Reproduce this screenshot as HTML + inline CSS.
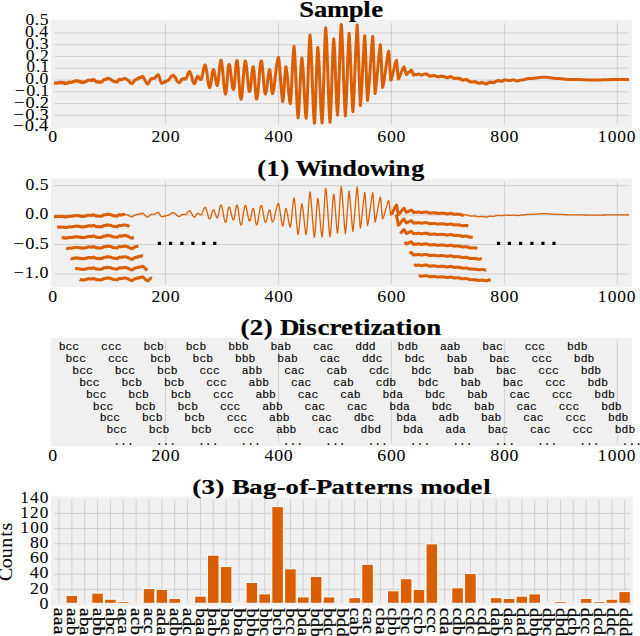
<!DOCTYPE html>
<html><head><meta charset="utf-8"><style>html,body{margin:0;padding:0;background:#fff;overflow:hidden}svg{display:block}</style></head>
<body><svg width="640" height="636" viewBox="0 0 640 636">
<rect width="640" height="636" fill="#fff"/>
<rect x="51.1" y="19.75" width="580.9" height="108" fill="#f0f0f0"/>
<defs><clipPath id="c1"><rect x="54.1" y="22.75" width="574.9" height="102"/></clipPath><clipPath id="c2"><rect x="54.0" y="181.6" width="575" height="102.7"/></clipPath><clipPath id="c3"><rect x="53.8" y="340.8" width="575.2" height="102.7"/></clipPath><clipPath id="c4"><rect x="54.0" y="499.6" width="575.8" height="103.1"/></clipPath></defs>
<path d="M51.1,127.14H632M51.1,115.35H632M51.1,103.57H632M51.1,91.78H632M51.1,80H632M51.1,68.22H632M51.1,56.43H632M51.1,44.65H632M51.1,32.86H632M51.1,21.08H632M52.6,19.75V127.75M165.54,19.75V127.75M278.48,19.75V127.75M391.42,19.75V127.75M504.36,19.75V127.75M617.3,19.75V127.75" stroke="#d0d0d0" stroke-width="1" fill="none" clip-path="url(#c1)"/>
<path d="M52.6,83.19 L52.88,83.28 L53.16,83.37 L53.45,83.11 L53.73,82.84 L54.01,83.15 L54.2,83.35 L54.29,83.45 L54.58,83.2 L54.86,82.94 L55.14,83.01 L55.42,83.08 L55.71,83.21 L55.99,83.34 L56.27,83.06 L56.55,82.78 L56.84,82.99 L57.12,83.19 L57.4,82.94 L57.68,82.69 L57.96,82.85 L58.25,83.01 L58.53,82.98 L58.81,82.95 L59.09,82.76 L59.38,82.58 L59.4,82.56 L59.66,82.37 L59.94,82.17 L60.22,82.55 L60.51,82.95 L60.79,82.92 L61.07,82.9 L61.35,82.72 L61.64,82.55 L61.92,82.42 L62.2,82.3 L62.48,82.54 L62.76,82.79 L63.05,82.93 L63.33,83.07 L63.61,82.81 L63.89,82.54 L64.18,83.07 L64.46,83.6 L64.74,83.2 L65.02,82.79 L65.31,83.11 L65.59,83.42 L65.87,83.5 L65.9,83.51 L66.15,83.57 L66.44,83.56 L66.72,83.52 L67,83.36 L67.28,83.18 L67.56,82.82 L67.85,82.45 L68.13,82.68 L68.41,82.91 L68.69,82.59 L68.98,82.28 L69.26,82.16 L69.54,82.05 L69.82,82.13 L70.11,82.23 L70.39,82.11 L70.6,82.03 L70.67,82.01 L70.95,82.26 L71.24,82.49 L71.52,82.46 L71.8,82.42 L72.08,82.29 L72.36,82.15 L72.65,81.83 L72.93,81.5 L73.21,81.55 L73.49,81.6 L73.78,81.58 L74.06,81.56 L74.34,81.33 L74.62,81.11 L74.91,81.11 L75.19,81.12 L75.47,81.14 L75.75,81.18 L76.04,80.88 L76.32,80.6 L76.6,80.64 L76.7,80.66 L76.88,80.69 L77.16,80.96 L77.45,81.24 L77.73,81.12 L78.01,81.02 L78.29,81.14 L78.58,81.26 L78.86,81.18 L79.14,81.11 L79.42,81.3 L79.71,81.5 L79.99,81.84 L80.27,82.17 L80.55,81.9 L80.84,81.61 L81.12,82.12 L81.4,82.62 L81.68,82.49 L81.9,82.37 L81.96,82.34 L82.25,82.15 L82.53,81.95 L82.81,82.25 L83.09,82.54 L83.38,82.32 L83.66,82.1 L83.94,82.3 L84.22,82.5 L84.51,82.13 L84.79,81.76 L85.07,81.69 L85.35,81.62 L85.6,81.71 L85.63,81.72 L85.92,81.77 L86.2,81.48 L86.48,81.12 L86.76,81.17 L87.05,81.2 L87.33,80.74 L87.61,80.3 L87.89,80.18 L88.18,80.13 L88.4,80.11 L88.46,80.11 L88.74,80.13 L89.02,80.23 L89.31,80.35 L89.59,80.21 L89.87,80.08 L90.15,80.1 L90.43,80.1 L90.72,80.4 L91,80.67 L91.2,80.61 L91.28,80.57 L91.56,80.39 L91.85,80.55 L92.13,80.66 L92.41,80.1 L92.69,79.59 L92.98,79.53 L93.1,79.53 L93.26,79.55 L93.54,79.42 L93.82,79.34 L94.11,79.58 L94.39,79.85 L94.67,80.34 L94.95,80.84 L95.23,81.01 L95.52,81.17 L95.8,81.2 L96.08,81.21 L96.36,81.67 L96.65,82.09 L96.9,81.9 L96.93,81.87 L97.21,81.65 L97.49,81.82 L97.78,82 L98.06,82.06 L98.34,82.13 L98.62,82.2 L98.91,82.28 L99.19,81.95 L99.47,81.62 L99.75,82.01 L100.03,82.38 L100.32,82.35 L100.6,82.31 L100.88,82.25 L101.1,82.19 L101.16,82.17 L101.45,81.86 L101.73,81.46 L102.01,81.67 L102.29,81.82 L102.58,81.32 L102.86,80.81 L103.14,80.45 L103.42,80.12 L103.71,79.72 L103.99,79.38 L104.27,79.34 L104.4,79.34 L104.55,79.36 L104.83,79.3 L105.12,79.22 L105.4,79.45 L105.68,79.66 L105.96,79.46 L106.25,79.26 L106.53,79.16 L106.81,79.06 L107.09,78.66 L107.38,78.28 L107.66,78.15 L107.94,78.05 L108.22,78.45 L108.4,78.71 L108.51,78.87 L108.79,78.88 L109.07,78.91 L109.35,78.94 L109.63,79 L109.92,79.11 L110.2,79.23 L110.48,79.24 L110.76,79.26 L111.05,79.38 L111.33,79.51 L111.61,79.87 L111.89,80.24 L112.18,80.58 L112.46,80.92 L112.74,80.9 L113.02,80.88 L113.31,81.1 L113.59,81.31 L113.87,81.38 L114.15,81.43 L114.43,81.37 L114.72,81.29 L115,81.54 L115.28,81.76 L115.56,81.92 L115.85,82.06 L116.13,82.03 L116.25,82.01 L116.41,81.96 L116.69,81.86 L116.98,81.69 L117.26,81.82 L117.54,81.91 L117.82,81.19 L118.11,80.45 L118.39,80.22 L118.67,80 L118.95,79.7 L119.23,79.45 L119.52,79.34 L119.8,79.3 L120,79.44 L120.08,79.5 L120.36,79.7 L120.65,79.66 L120.93,79.6 L121.21,79.68 L121.49,79.75 L121.78,79.37 L122.06,78.97 L122.34,79.16 L122.62,79.34 L122.91,79.22 L123.19,79.1 L123.47,78.92 L123.75,78.75 L124.03,78.69 L124.32,78.65 L124.6,78.5 L124.88,78.38 L125.15,78.51 L125.16,78.52 L125.45,78.7 L125.73,78.79 L126.01,78.92 L126.29,78.97 L126.58,79.07 L126.86,79.3 L127.14,79.56 L127.42,79.68 L127.71,79.83 L127.99,80.3 L128.27,80.8 L128.55,80.66 L128.83,80.53 L129.12,80.99 L129.4,81.44 L129.68,81.98 L129.96,82.51 L130.25,82.71 L130.53,82.89 L130.81,83.04 L131.09,83.16 L131.38,83.28 L131.66,83.37 L131.94,83.55 L132.2,83.69 L132.22,83.7 L132.51,83.24 L132.79,82.67 L133.07,82.31 L133.35,81.85 L133.63,81.68 L133.92,81.47 L134.2,80.96 L134.48,80.46 L134.76,80.23 L135.05,80.07 L135.33,79.77 L135.61,79.58 L135.89,79.39 L135.9,79.39 L136.18,79.26 L136.46,79.27 L136.74,79.26 L137.02,78.89 L137.31,78.5 L137.59,78.75 L137.87,78.99 L138.15,78.93 L138.43,78.87 L138.72,78.23 L139,77.58 L139.28,77.65 L139.56,77.72 L139.85,77.77 L140.13,77.83 L140.41,77.49 L140.69,77.15 L140.98,77.32 L141.26,77.5 L141.54,77.15 L141.82,76.83 L142.1,76.55 L142.39,76.29 L142.5,76.32 L142.67,76.37 L142.95,76.55 L143.23,76.86 L143.52,77.26 L143.8,77.88 L144.08,78.59 L144.36,79.06 L144.65,79.58 L144.93,80.29 L145.21,81 L145.49,81.28 L145.78,81.52 L146.06,82.17 L146.34,82.76 L146.62,83.02 L146.9,83.19 L147.19,83.63 L147.47,83.97 L147.6,84.01 L147.75,84.02 L148.03,83.97 L148.32,83.44 L148.6,82.81 L148.88,82.33 L149.16,81.78 L149.45,81.35 L149.73,80.89 L150.01,80.39 L150.29,79.91 L150.58,79.43 L150.86,79.02 L151.14,78.74 L151.42,78.55 L151.7,78.69 L151.9,78.86 L151.99,78.94 L152.27,78.75 L152.55,78.51 L152.83,78.48 L153.12,78.43 L153.4,78.45 L153.68,78.48 L153.96,78.35 L154.25,78.26 L154.53,78.08 L154.7,77.99 L154.81,77.93 L155.09,77.86 L155.38,77.71 L155.66,77.24 L155.94,76.72 L156.22,76.26 L156.5,75.78 L156.79,75.73 L157.07,75.72 L157.35,75.23 L157.63,74.81 L157.92,74.71 L158,74.7 L158.2,74.73 L158.48,74.96 L158.76,75.36 L159.05,76.21 L159.33,77.18 L159.61,78.02 L159.89,78.92 L160.18,79.77 L160.46,80.61 L160.74,81.42 L161.02,82.15 L161.3,82.74 L161.59,83.2 L161.87,83.27 L162.15,83.17 L162.2,83.14 L162.43,83.01 L162.72,82.79 L163,82.72 L163.28,82.6 L163.56,82.62 L163.85,82.61 L164.13,82.31 L164.41,82.01 L164.69,81.74 L164.98,81.49 L165.26,81.73 L165.54,82 L165.82,81.64 L166,81.44 L166.1,81.33 L166.39,81.16 L166.67,80.95 L166.95,80.9 L167.23,80.81 L167.52,80.63 L167.8,80.42 L168.08,80.31 L168.36,80.17 L168.65,80.02 L168.93,79.85 L169.21,79.19 L169.49,78.52 L169.78,78.4 L170.06,78.29 L170.34,77.7 L170.62,77.11 L170.9,76.7 L171.19,76.3 L171.47,76.33 L171.75,76.38 L172.03,76.16 L172.32,75.97 L172.6,75.53 L172.88,75.13 L173.16,75.17 L173.45,75.26 L173.5,75.32 L173.73,75.59 L174.01,76.02 L174.29,76.27 L174.58,76.62 L174.86,77.01 L175.14,77.47 L175.42,77.6 L175.7,77.77 L175.99,78.43 L176.27,79.09 L176.55,80.03 L176.83,80.96 L177.12,81.13 L177.4,81.24 L177.68,81.56 L177.96,81.8 L178.25,82.2 L178.53,82.5 L178.75,82.66 L178.81,82.69 L179.09,82.79 L179.38,82.52 L179.66,82.17 L179.94,82.07 L180.22,81.92 L180.5,81.58 L180.79,81.23 L181.07,80.32 L181.35,79.45 L181.63,79.31 L181.92,79.25 L182.2,79.16 L182.48,79.17 L182.5,79.16 L182.76,78.95 L183.05,78.7 L183.33,78.92 L183.61,79.13 L183.89,78.84 L184.18,78.54 L184.46,78.51 L184.74,78.49 L185.02,78.79 L185.3,79.1 L185.3,79.11 L185.59,79 L185.87,78.73 L186.15,78.31 L186.43,77.76 L186.72,77.15 L187,76.47 L187.28,75.53 L187.56,74.58 L187.85,74.02 L188.13,73.51 L188.41,72.84 L188.69,72.29 L188.98,72.13 L189.26,72.11 L189.4,71.88 L189.54,71.7 L189.82,71.49 L190.1,72.17 L190.39,73.03 L190.67,73.69 L190.95,74.5 L191.23,75.4 L191.52,76.38 L191.8,77.29 L192.08,78.21 L192.36,79.53 L192.65,80.79 L192.93,81.43 L193.21,81.94 L193.49,82.79 L193.77,83.46 L194.06,83.71 L194.3,83.77 L194.34,83.76 L194.62,83.59 L194.9,83.14 L195.19,82.73 L195.47,82.13 L195.75,80.92 L196.03,79.68 L196.32,78.83 L196.6,78.09 L196.88,77.49 L197.16,77.13 L197.45,76.51 L197.5,76.42 L197.73,76.12 L198.01,76.58 L198.29,77.14 L198.57,77.29 L198.86,77.5 L199.14,77.76 L199.42,78.03 L199.7,78.5 L199.99,78.92 L200.27,79.31 L200.55,79.6 L200.83,79.58 L200.9,79.56 L201.12,79.38 L201.4,78.95 L201.68,78.2 L201.96,77.08 L202.25,75.72 L202.53,74.68 L202.81,73.53 L203.09,71.75 L203.37,70 L203.66,68.76 L203.94,67.7 L204.22,66.69 L204.5,65.95 L204.79,65.27 L205,64.98 L205.07,64.92 L205.35,65.36 L205.63,66.18 L205.92,67.2 L206.2,68.54 L206.48,70.08 L206.76,71.84 L207.05,73.78 L207.33,75.8 L207.61,78.15 L207.89,80.43 L208.17,82.24 L208.46,83.83 L208.74,85.31 L209.02,86.46 L209.3,87.2 L209.59,87.55 L209.7,87.55 L209.87,87.4 L210.15,86.75 L210.43,85.86 L210.72,84.56 L211,82.75 L211.28,80.72 L211.56,78.65 L211.85,76.58 L212.13,74.36 L212.41,72.38 L212.69,71.11 L212.97,70.26 L213.26,69.66 L213.4,69.55 L213.54,69.55 L213.82,69.92 L214.1,70.68 L214.39,72.18 L214.67,73.97 L214.95,75.43 L215.23,77.02 L215.52,78.58 L215.8,80.07 L216.08,81.66 L216.36,82.99 L216.65,84.33 L216.93,85.29 L217.2,85.49 L217.21,85.49 L217.49,85.12 L217.77,83.9 L218.06,82.05 L218.34,80.04 L218.62,77.63 L218.9,74.68 L219.19,71.65 L219.47,68.88 L219.75,66.35 L220.03,63.82 L220.32,61.8 L220.6,60.66 L220.88,60.2 L220.9,60.19 L221.16,60.4 L221.45,61.18 L221.73,62.97 L222.01,65.26 L222.29,67.3 L222.57,69.7 L222.86,72.68 L223.14,75.82 L223.42,79.25 L223.7,82.6 L223.99,85.12 L224.27,87.35 L224.55,89.55 L224.83,91.31 L225.12,92.98 L225.4,94.1 L225.6,93.97 L225.68,93.82 L225.96,92.64 L226.25,91.2 L226.53,88.92 L226.81,85.64 L227.09,81.93 L227.37,77.8 L227.66,73.74 L227.94,70.35 L228.22,67.53 L228.5,65.74 L228.79,64.85 L229,64.45 L229.07,64.43 L229.35,64.65 L229.63,65.44 L229.92,66.68 L230.2,68.44 L230.48,70.53 L230.76,72.86 L231.05,75.35 L231.33,77.77 L231.61,80.16 L231.89,82.28 L232.17,84.18 L232.46,86.39 L232.74,88.22 L233.02,88.98 L233.3,89.27 L233.5,89.43 L233.59,89.41 L233.87,88.68 L234.15,87.2 L234.43,84.9 L234.72,81.58 L235,77.84 L235.28,73.92 L235.56,70.08 L235.85,66.78 L236.13,64.02 L236.41,62.18 L236.69,61.23 L236.9,60.6 L236.97,60.51 L237.26,60.7 L237.54,62.37 L237.82,64.82 L238.1,67.76 L238.39,71.25 L238.67,75.67 L238.95,80.28 L239.23,84.35 L239.52,88.23 L239.8,91.93 L240.08,95.08 L240.36,97.03 L240.65,98.19 L240.93,99.14 L241,99.24 L241.21,99.22 L241.49,98.31 L241.77,96.65 L242.06,94.08 L242.34,90.93 L242.62,87.24 L242.9,83.24 L243.19,79.41 L243.47,75.6 L243.75,72.22 L244.03,69.19 L244.32,66.39 L244.6,64.2 L244.88,62.25 L245.16,61.05 L245.3,61.05 L245.45,61.23 L245.73,62.06 L246.01,63.25 L246.29,65 L246.57,67.62 L246.86,70.62 L247.14,73.59 L247.42,76.7 L247.7,79.48 L247.99,82.13 L248.27,85.02 L248.55,87.54 L248.83,89.65 L249.12,91.21 L249.4,91.53 L249.6,91.37 L249.68,91.2 L249.96,90.78 L250.24,89.66 L250.53,87.65 L250.81,85.13 L251.09,82.71 L251.37,80.09 L251.66,76.67 L251.94,73.41 L252.22,71.32 L252.5,69.72 L252.79,67.88 L253.07,66.75 L253.2,66.77 L253.35,67.04 L253.63,68.35 L253.92,70.51 L254.2,73.5 L254.48,76.98 L254.76,80.86 L255.04,84.79 L255.33,88.58 L255.61,92.5 L255.89,95.77 L256.17,97.91 L256.46,99.05 L256.6,99.09 L256.74,98.9 L257.02,98.01 L257.3,96.83 L257.59,95.04 L257.87,92.63 L258.15,89.77 L258.43,86.47 L258.72,82.95 L259,79.41 L259.28,75.92 L259.56,72.44 L259.84,69.25 L260.13,66.48 L260.41,64.21 L260.69,62.58 L260.97,61.58 L261.25,61.02 L261.26,61.02 L261.54,61.16 L261.82,62.52 L262.1,64.55 L262.39,66.82 L262.67,69.56 L262.95,72.95 L263.23,76.54 L263.52,79.92 L263.8,83.19 L264.08,86.47 L264.36,89.34 L264.64,91.4 L264.93,92.83 L265.21,93.82 L265.4,94.07 L265.49,94.09 L265.77,93.29 L266.06,92.02 L266.34,90.77 L266.62,89.13 L266.9,87.28 L267.19,85.19 L267.47,82.63 L267.75,80.05 L268.03,77.44 L268.32,75 L268.6,73.52 L268.88,72.38 L269.16,70.84 L269.44,69.77 L269.7,69.75 L269.73,69.77 L270.01,70.68 L270.29,72.46 L270.57,75.16 L270.86,78.38 L271.14,81.91 L271.42,85.81 L271.7,89.29 L271.99,91.74 L272.27,93.19 L272.5,93.51 L272.55,93.49 L272.83,93.11 L273.12,92.27 L273.4,91.03 L273.68,89.91 L273.96,88.46 L274.24,86.12 L274.53,83.53 L274.81,81.07 L275.09,78.03 L275.37,75.67 L275.66,73.29 L275.94,71.03 L276.22,68.84 L276.5,66.67 L276.79,64.64 L277.07,62.91 L277.35,61.38 L277.63,59.89 L277.92,58.65 L278.2,57.74 L278.4,57.25 L278.48,57.57 L278.76,58.7 L279.04,60.42 L279.33,63.29 L279.61,66.63 L279.89,70.15 L280.17,73.96 L280.46,77.93 L280.74,81.95 L281.02,85.46 L281.3,88.78 L281.59,92.18 L281.87,95.17 L282.15,97.81 L282.43,99.9 L282.72,101.5 L282.75,101.65 L283,100.53 L283.28,98.25 L283.56,95.21 L283.84,91.5 L284.13,87.38 L284.41,83.03 L284.69,78.75 L284.97,75.03 L285.26,71.86 L285.54,69.09 L285.82,67.15 L285.9,66.83 L286.1,67.63 L286.39,69.17 L286.67,70.69 L286.95,72.64 L287.23,75.31 L287.52,78.27 L287.8,81.65 L288.08,85.13 L288.36,88.54 L288.64,91.86 L288.93,94.43 L289.21,96.71 L289.49,99.36 L289.77,101.6 L290.06,102.99 L290.25,103.66 L290.34,103.13 L290.62,100.96 L290.9,97.8 L291.19,93.37 L291.47,88.2 L291.75,82.64 L292.03,76.76 L292.32,70.83 L292.6,65.07 L292.88,59.89 L293.16,55.31 L293.44,51.22 L293.73,48.04 L294,46.35 L294.01,46.42 L294.29,48.98 L294.57,52.2 L294.86,56.4 L295.14,61.69 L295.42,67.67 L295.7,73.91 L295.99,80.42 L296.27,87.34 L296.55,94.08 L296.83,100.24 L297.12,105.79 L297.4,110.38 L297.68,114.05 L297.96,116.87 L298.1,117.86 L298.24,116.95 L298.53,114.17 L298.81,110.39 L299.09,105.96 L299.37,100.82 L299.66,95.01 L299.94,88.9 L300.22,82.91 L300.5,77.11 L300.79,71.65 L301.07,66.83 L301.35,62.76 L301.63,59.63 L301.9,57.94 L301.92,58.03 L302.2,60.14 L302.48,62.84 L302.76,66.29 L303.04,70.03 L303.33,74.33 L303.61,79.85 L303.89,85.62 L304.17,90.75 L304.46,95.8 L304.74,100.95 L305.02,105.71 L305.3,110.19 L305.59,114.02 L305.87,116.36 L306.15,117.89 L306.2,118.14 L306.43,115.82 L306.71,111.69 L307,106.39 L307.28,99.93 L307.56,92.34 L307.84,84.12 L308.13,75.6 L308.41,67.12 L308.69,59.41 L308.97,52.39 L309.26,45.78 L309.54,40.38 L309.82,36.56 L310,34.89 L310.1,35.7 L310.39,38.51 L310.67,42.44 L310.95,47.59 L311.23,53.65 L311.51,60.42 L311.8,67.74 L312.08,75.52 L312.36,83.41 L312.64,90.87 L312.93,97.97 L313.21,104.76 L313.49,110.79 L313.77,115.78 L314.06,119.72 L314.34,122.78 L314.4,123.29 L314.62,121.25 L314.9,117.05 L315.19,111.36 L315.47,104.26 L315.75,96.24 L316.03,87.63 L316.31,78.91 L316.6,70.78 L316.88,63.39 L317.16,56.57 L317.44,51.14 L317.73,47.82 L317.8,47.23 L318.01,48.91 L318.29,51.9 L318.57,55.87 L318.86,60.76 L319.14,66.39 L319.42,72.58 L319.7,79.17 L319.99,86.07 L320.27,92.94 L320.55,99.73 L320.83,106.08 L321.11,111.12 L321.4,115.37 L321.68,119.16 L321.96,121.96 L322.1,123 L322.24,121.48 L322.53,117.09 L322.81,110.81 L323.09,102.99 L323.37,93.9 L323.66,83.98 L323.94,74.05 L324.22,64.17 L324.5,54.15 L324.79,45.07 L325.07,37.91 L325.35,32.36 L325.63,28.44 L325.7,27.78 L325.91,29.89 L326.2,33.6 L326.48,38.53 L326.76,44.42 L327.04,51.24 L327.33,59.31 L327.61,67.87 L327.89,76.1 L328.17,84.29 L328.46,92.33 L328.74,99.81 L329.02,106.88 L329.3,112.96 L329.59,117.71 L329.87,121.21 L330,122.35 L330.15,120.94 L330.43,117.13 L330.71,111.85 L331,105.32 L331.28,97.84 L331.56,89.64 L331.84,81.16 L332.13,72.65 L332.41,64.36 L332.69,56.73 L332.97,50.36 L333.26,45.2 L333.54,41.09 L333.75,38.98 L333.82,39.52 L334.1,42.5 L334.39,46.8 L334.67,52.08 L334.95,58.36 L335.23,65.86 L335.51,73.81 L335.8,81.52 L336.08,89.03 L336.36,96.46 L336.64,103.09 L336.93,108.36 L337.21,112.41 L337.49,115.04 L337.5,115.1 L337.77,111.92 L338.06,106.97 L338.34,100.55 L338.62,93.09 L338.9,84.67 L339.19,75.63 L339.47,66.33 L339.75,57.36 L340.03,48.89 L340.31,41 L340.6,34.27 L340.88,29.04 L341.16,25.3 L341.25,24.44 L341.44,26.34 L341.73,30.23 L342.01,35.54 L342.29,41.93 L342.57,48.62 L342.86,55.96 L343.14,64.5 L343.42,73.18 L343.7,80.96 L343.99,88.36 L344.27,95.59 L344.55,102.03 L344.83,107.98 L345.11,112.88 L345.4,115.95 L345.4,115.98 L345.68,112.36 L345.96,107.44 L346.24,101.37 L346.53,94.45 L346.81,86.8 L347.09,79.08 L347.37,71.23 L347.66,63.35 L347.94,55.92 L348.22,49.11 L348.5,43.18 L348.79,37.86 L349.07,33.65 L349.1,33.32 L349.35,36.68 L349.63,41.47 L349.91,46.63 L350.2,52.59 L350.48,59.6 L350.76,67.01 L351.04,74.15 L351.33,81.22 L351.61,87.98 L351.89,94.25 L352.17,100.53 L352.46,106.04 L352.74,109.9 L352.9,111.72 L353.02,110.1 L353.3,106.23 L353.59,101.58 L353.87,95.86 L354.15,89.55 L354.43,83.08 L354.71,76.3 L355,69.51 L355.28,62.72 L355.56,55.45 L355.84,48.44 L356.13,42.42 L356.41,36.92 L356.69,32.07 L356.97,27.91 L357.2,24.91 L357.26,25.78 L357.54,30.94 L357.82,37 L358.1,44.07 L358.39,52.21 L358.67,60.84 L358.95,69.68 L359.23,78.34 L359.51,86.5 L359.8,93.86 L360.08,100 L360.36,104.97 L360.4,105.57 L360.64,103.06 L360.93,99.64 L361.21,95.4 L361.49,90.69 L361.77,86.31 L362.06,81.61 L362.34,75.85 L362.62,69.99 L362.9,64.49 L363.19,59.11 L363.47,54.38 L363.75,49.99 L364.03,45.19 L364.31,40.88 L364.6,37.63 L364.8,35.64 L364.88,36.87 L365.16,41.92 L365.44,48.23 L365.73,55.99 L366.01,64.4 L366.29,72.68 L366.57,80.73 L366.86,88.15 L367.14,94.56 L367.42,99.39 L367.5,100.5 L367.7,98.71 L367.98,96.45 L368.27,93.84 L368.55,90.82 L368.83,87.51 L369.11,83.79 L369.4,79.86 L369.68,75.9 L369.96,71.83 L370.24,67.77 L370.53,63.72 L370.81,59.61 L371.09,55.63 L371.37,51.48 L371.66,47.57 L371.94,44.62 L372.22,41.98 L372.5,39.04 L372.78,36.45 L372.8,36.36 L373.07,41.39 L373.35,48.2 L373.63,55.86 L373.91,64.22 L374.2,72.54 L374.48,80.31 L374.76,87.28 L375.04,92.77 L375.1,93.61 L375.33,92.2 L375.61,90.2 L375.89,87.73 L376.17,85.01 L376.46,82.42 L376.74,79.65 L377.02,76.72 L377.3,73.68 L377.58,70.62 L377.87,67.54 L378.15,64.23 L378.43,60.99 L378.71,57.98 L379,55.13 L379.28,52.68 L379.56,50.44 L379.84,48.14 L380.13,46.1 L380.4,44.81 L380.41,44.92 L380.69,49.31 L380.97,54.24 L381.26,60.11 L381.54,66.96 L381.82,73.73 L382.1,79.59 L382.38,84.41 L382.6,87.38 L382.67,87.14 L382.95,86.07 L383.23,84.98 L383.51,83.74 L383.8,82.3 L384.08,80.73 L384.36,78.46 L384.64,76.1 L384.93,74.54 L385.21,72.94 L385.49,70.69 L385.77,68.42 L386.06,66.42 L386.34,64.45 L386.62,62.49 L386.9,60.61 L387.18,58.55 L387.47,56.61 L387.75,54.9 L388.03,53.33 L388.31,52.41 L388.6,51.64 L388.7,51.18 L388.88,52.74 L389.16,56 L389.44,60.45 L389.73,65.35 L390.01,69.97 L390.29,74.19 L390.57,77.91 L390.8,80.2 L390.86,80.09 L391.14,79.56 L391.42,78.81 L391.7,77.96 L391.98,77.04 L392.27,76.02 L392.55,74.93 L392.83,73.56 L393.11,72.14 L393.4,71.09 L393.68,70.03 L393.96,68.92 L394.24,67.83 L394.53,66.42 L394.81,65.07 L395.09,63.97 L395.37,62.95 L395.66,62.24 L395.94,61.6 L396.22,60.98 L396.5,60.45 L396.5,60.47 L396.78,62.51 L397.07,65.27 L397.35,68.55 L397.63,71.96 L397.91,75.01 L398.2,77.51 L398.4,78.98 L398.48,78.9 L398.76,78.57 L399.04,78.05 L399.33,77.47 L399.61,76.88 L399.89,76.24 L400.17,75.46 L400.46,74.65 L400.74,73.81 L401.02,72.95 L401.3,72.25 L401.58,71.56 L401.87,70.94 L402.15,70.35 L402.43,69.67 L402.71,69.03 L403,68.4 L403.28,67.81 L403.56,67.38 L403.84,67 L404,66.79 L404.13,67.08 L404.41,67.87 L404.69,68.93 L404.97,70.13 L405.26,71.22 L405.54,72.26 L405.82,73.03 L406.1,73.62 L406.3,74.28 L406.38,74.32 L406.67,74.46 L406.95,74.13 L407.23,73.79 L407.51,73.51 L407.8,73.21 L408.08,72.86 L408.36,72.49 L408.64,72.43 L408.93,72.37 L409.21,72.06 L409.49,71.76 L409.77,71.5 L410.06,71.25 L410.34,70.96 L410.62,70.69 L410.9,70.48 L411.18,70.3 L411.3,70.16 L411.47,70.29 L411.75,70.63 L412.03,71.29 L412.31,72.03 L412.6,72.75 L412.88,73.42 L413.16,74.31 L413.44,75.06 L413.5,75.14 L413.73,75.12 L414.01,75.1 L414.29,74.83 L414.57,74.57 L414.86,74.47 L415.14,74.37 L415.42,74.49 L415.7,74.61 L415.98,74.53 L416.27,74.46 L416.55,74.63 L416.83,74.8 L417.11,74.63 L417.4,74.47 L417.68,74.25 L417.96,74.04 L418.24,74.05 L418.5,74.07 L418.53,74.07 L418.81,74.1 L419.09,74.14 L419.37,74.15 L419.66,74.17 L419.94,74.49 L420.22,74.8 L420.5,74.94 L420.78,75.07 L421.07,75.13 L421.35,75.18 L421.63,75.1 L421.91,75 L422.2,74.95 L422.2,74.95 L422.48,74.88 L422.76,74.75 L423.04,74.58 L423.33,74.56 L423.61,74.53 L423.89,74.43 L424.17,74.33 L424.45,74.16 L424.74,74.01 L425.02,74.02 L425.3,74.05 L425.58,73.97 L425.87,73.92 L425.9,73.94 L426.15,74.11 L426.43,74.36 L426.71,74.2 L427,74.07 L427.28,74.43 L427.56,74.82 L427.84,74.79 L428.13,74.76 L428.41,75.07 L428.69,75.37 L428.97,75.67 L429.25,75.95 L429.54,76.13 L429.82,76.27 L430.1,76.26 L430.2,76.25 L430.38,76.22 L430.67,76.07 L430.95,75.9 L431.23,75.84 L431.51,75.77 L431.8,75.92 L432.08,76.07 L432.36,76.02 L432.64,75.97 L432.93,75.75 L433.21,75.54 L433.49,75.47 L433.77,75.41 L434.05,75.46 L434.34,75.52 L434.4,75.53 L434.62,75.59 L434.9,75.7 L435.18,75.65 L435.47,75.64 L435.75,75.99 L436.03,76.36 L436.31,76.43 L436.6,76.49 L436.88,76.59 L437.16,76.66 L437.44,76.59 L437.73,76.49 L438.01,76.63 L438.1,76.67 L438.29,76.74 L438.57,76.64 L438.85,76.51 L439.14,76.6 L439.42,76.68 L439.7,76.68 L439.98,76.69 L440.27,76.6 L440.55,76.52 L440.83,76.2 L441.11,75.89 L441.4,75.94 L441.68,76 L441.9,76.11 L441.96,76.14 L442.24,76.29 L442.53,76.42 L442.81,76.57 L443.09,76.47 L443.37,76.37 L443.65,76.4 L443.94,76.44 L444.22,76.63 L444.5,76.83 L444.78,77 L445.07,77.17 L445.35,77.14 L445.63,77.09 L445.91,77.09 L446.2,77.08 L446.48,77.4 L446.76,77.7 L447.04,77.81 L447.33,77.89 L447.5,77.83 L447.61,77.79 L447.89,77.65 L448.17,77.56 L448.45,77.44 L448.74,77.24 L449.02,77.03 L449.3,77.08 L449.58,77.13 L449.87,76.81 L450.15,76.51 L450.43,76.47 L450.71,76.47 L450.8,76.49 L451,76.56 L451.28,76.72 L451.56,76.96 L451.84,77.24 L452.13,77.19 L452.41,77.15 L452.69,77.62 L452.97,78.07 L453.25,78.07 L453.54,78.03 L453.82,78.32 L454.05,78.51 L454.1,78.55 L454.38,78.55 L454.67,78.55 L454.95,78.35 L455.23,78.15 L455.51,78.3 L455.8,78.45 L456.08,78.2 L456.36,77.95 L456.64,78.1 L456.93,78.24 L457.21,78.34 L457.49,78.44 L457.77,78.42 L458.05,78.4 L458.3,78.34 L458.34,78.33 L458.62,78.29 L458.9,78.26 L459.18,78.26 L459.47,78.28 L459.75,78.33 L460.03,78.77 L460.31,79.23 L460.6,79.31 L460.88,79.4 L461.16,79.62 L461.44,79.82 L461.73,79.66 L462.01,79.47 L462.29,79.81 L462.5,80.04 L462.57,80.11 L462.85,80.14 L463.14,80.17 L463.42,80.17 L463.7,80.17 L463.98,80.05 L464.27,79.94 L464.55,79.76 L464.83,79.58 L465.11,79.59 L465.4,79.59 L465.68,79.65 L465.96,79.7 L466.2,79.62 L466.24,79.61 L466.53,79.54 L466.81,79.63 L467.09,79.75 L467.37,80.1 L467.65,80.47 L467.94,80.7 L468.22,80.95 L468.5,80.88 L468.78,80.81 L469.07,81.06 L469.35,81.3 L469.63,81.69 L469.91,82.05 L470.2,81.9 L470.48,81.72 L470.6,81.77 L470.76,81.82 L471.04,81.91 L471.33,81.9 L471.61,81.88 L471.89,81.87 L472.17,81.86 L472.45,81.89 L472.74,81.92 L473.02,81.95 L473.3,81.99 L473.58,81.88 L473.87,81.78 L473.9,81.78 L474.15,81.76 L474.43,81.78 L474.71,81.62 L475,81.5 L475.28,81.9 L475.56,82.31 L475.84,82.15 L476.12,81.99 L476.41,82.4 L476.69,82.81 L476.97,82.89 L477.25,82.96 L477.54,82.9 L477.82,82.82 L478.1,82.87 L478.38,82.91 L478.6,83.02 L478.67,83.05 L478.95,83.18 L479.23,83.29 L479.51,83.38 L479.8,83.18 L480.08,82.96 L480.36,82.94 L480.64,82.91 L480.92,82.66 L481.21,82.42 L481.49,82.65 L481.77,82.89 L481.9,82.86 L482.05,82.83 L482.34,82.8 L482.62,82.65 L482.9,82.53 L483.18,82.93 L483.47,83.33 L483.75,83.3 L484.03,83.28 L484.31,83.25 L484.6,83.22 L484.88,83.33 L485.16,83.43 L485.44,83.75 L485.72,84.05 L486.01,84.07 L486.1,84.07 L486.29,84.06 L486.57,84 L486.85,83.91 L487.14,83.49 L487.42,83.04 L487.7,83.11 L487.98,83.18 L488.27,82.83 L488.55,82.5 L488.83,82.31 L489.11,82.14 L489.4,82.26 L489.68,82.42 L489.8,82.43 L489.96,82.44 L490.24,82.47 L490.52,82.24 L490.81,82.02 L491.09,82.15 L491.37,82.3 L491.65,82.45 L491.94,82.6 L492.22,82.46 L492.5,82.32 L492.78,82.48 L493.07,82.63 L493.35,82.65 L493.6,82.67 L493.63,82.67 L493.91,82.74 L494.2,82.77 L494.48,82.4 L494.76,82 L495.04,81.78 L495.32,81.54 L495.61,81.45 L495.89,81.35 L496.17,81.05 L496.45,80.77 L496.74,80.94 L497.02,81.14 L497.3,80.98 L497.58,80.85 L497.8,80.77 L497.87,80.75 L498.15,80.68 L498.43,80.53 L498.71,80.4 L499,80.44 L499.28,80.5 L499.56,80.76 L499.84,81.02 L500.12,81.12 L500.41,81.22 L500.69,81.21 L500.97,81.18 L501.25,81.18 L501.54,81.17 L501.6,81.13 L501.82,81 L502.1,80.81 L502.38,81 L502.67,81.16 L502.95,80.82 L503.23,80.47 L503.51,80.35 L503.8,80.23 L504.08,80.07 L504.36,80.16 L504.64,80.07 L504.92,80.01 L505.21,79.98 L505.3,79.98 L505.49,79.98 L505.77,80 L506.05,80.02 L506.34,80.06 L506.62,80.11 L506.9,80.17 L507.18,80.23 L507.47,80.3 L507.75,80.36 L508.03,80.42 L508.31,80.47 L508.6,80.52 L508.88,80.55 L509.16,80.58 L509.44,80.58 L509.5,80.59 L509.72,80.58 L510.01,80.55 L510.29,80.51 L510.57,80.45 L510.85,80.38 L511.14,80.29 L511.42,80.21 L511.7,80.12 L511.98,80.04 L512.27,79.97 L512.55,79.91 L512.83,79.87 L513.11,79.85 L513.3,79.84 L513.4,79.85 L513.68,79.87 L513.96,79.93 L514.24,80.01 L514.52,80.11 L514.81,80.23 L515.09,80.35 L515.37,80.48 L515.65,80.6 L515.94,80.71 L516.22,80.8 L516.5,80.87 L516.78,80.91 L517,80.92 L517.07,80.92 L517.35,80.9 L517.63,80.87 L517.91,80.82 L518.2,80.76 L518.48,80.69 L518.76,80.61 L519.04,80.52 L519.32,80.43 L519.61,80.35 L519.89,80.27 L520.17,80.2 L520.45,80.14 L520.74,80.1 L521.02,80.08 L521.25,80.07 L521.3,80.07 L521.58,80.06 L521.87,80.05 L522.15,80.02 L522.43,79.99 L522.71,79.95 L523,79.9 L523.28,79.84 L523.56,79.78 L523.84,79.71 L524.12,79.64 L524.41,79.56 L524.69,79.48 L524.97,79.39 L525.25,79.31 L525.54,79.22 L525.82,79.14 L526.1,79.05 L526.38,78.97 L526.67,78.9 L526.95,78.83 L527.23,78.76 L527.51,78.7 L527.8,78.65 L528.08,78.6 L528.36,78.56 L528.64,78.53 L528.92,78.51 L529.21,78.5 L529.4,78.5 L529.49,78.5 L529.77,78.5 L530.05,78.49 L530.34,78.49 L530.62,78.48 L530.9,78.47 L531.18,78.46 L531.47,78.44 L531.75,78.42 L532.03,78.4 L532.31,78.38 L532.6,78.36 L532.88,78.34 L533.16,78.31 L533.44,78.28 L533.72,78.25 L534.01,78.22 L534.29,78.19 L534.57,78.15 L534.85,78.12 L535.14,78.08 L535.42,78.05 L535.7,78.01 L535.98,77.97 L536.27,77.94 L536.55,77.9 L536.83,77.86 L537.11,77.82 L537.39,77.78 L537.68,77.74 L537.96,77.71 L538.24,77.67 L538.52,77.63 L538.81,77.6 L539.09,77.56 L539.37,77.53 L539.65,77.5 L539.94,77.46 L540.22,77.43 L540.5,77.4 L540.78,77.38 L541.07,77.35 L541.35,77.33 L541.63,77.31 L541.91,77.29 L542.19,77.27 L542.48,77.25 L542.76,77.24 L543.04,77.23 L543.32,77.22 L543.61,77.21 L543.89,77.2 L544.17,77.2 L544.4,77.2 L544.45,77.2 L544.74,77.2 L545.02,77.21 L545.3,77.22 L545.58,77.23 L545.87,77.24 L546.15,77.26 L546.43,77.28 L546.71,77.3 L546.99,77.32 L547.28,77.35 L547.56,77.38 L547.84,77.41 L548.12,77.44 L548.41,77.48 L548.69,77.51 L548.97,77.55 L549.25,77.59 L549.54,77.63 L549.82,77.68 L550.1,77.72 L550.38,77.76 L550.67,77.81 L550.95,77.85 L551.23,77.89 L551.51,77.94 L551.79,77.98 L552.08,78.02 L552.36,78.07 L552.64,78.11 L552.92,78.15 L553.21,78.18 L553.49,78.22 L553.77,78.26 L554.05,78.29 L554.34,78.32 L554.62,78.35 L554.9,78.38 L555.18,78.4 L555.47,78.42 L555.75,78.44 L556.03,78.46 L556.31,78.47 L556.59,78.48 L556.88,78.49 L557.16,78.5 L557.44,78.5 L557.5,78.5 L557.72,78.5 L558.01,78.5 L558.29,78.51 L558.57,78.52 L558.85,78.53 L559.14,78.55 L559.42,78.56 L559.7,78.58 L559.98,78.6 L560.27,78.63 L560.55,78.65 L560.83,78.68 L561.11,78.71 L561.39,78.74 L561.68,78.77 L561.96,78.81 L562.24,78.84 L562.52,78.87 L562.81,78.91 L563.09,78.95 L563.37,78.98 L563.65,79.02 L563.94,79.05 L564.22,79.09 L564.5,79.12 L564.78,79.15 L565.07,79.18 L565.35,79.21 L565.63,79.24 L565.91,79.27 L566.19,79.29 L566.48,79.31 L566.76,79.33 L567.04,79.35 L567.32,79.36 L567.61,79.38 L567.89,79.39 L568.17,79.39 L568.45,79.4 L568.74,79.4 L568.75,79.4 L569.02,79.4 L569.3,79.4 L569.58,79.4 L569.87,79.4 L570.15,79.4 L570.43,79.41 L570.71,79.41 L570.99,79.41 L571.28,79.41 L571.56,79.42 L571.84,79.42 L572.12,79.42 L572.41,79.43 L572.69,79.43 L572.97,79.44 L573.25,79.44 L573.54,79.45 L573.82,79.45 L574.1,79.46 L574.38,79.47 L574.67,79.47 L574.95,79.48 L575.23,79.49 L575.51,79.49 L575.79,79.5 L576.08,79.51 L576.36,79.52 L576.64,79.52 L576.92,79.53 L577.21,79.54 L577.49,79.55 L577.77,79.56 L578.05,79.57 L578.34,79.58 L578.62,79.59 L578.9,79.6 L579.18,79.61 L579.47,79.61 L579.75,79.62 L580.03,79.63 L580.31,79.64 L580.59,79.65 L580.88,79.66 L581.16,79.67 L581.44,79.68 L581.72,79.69 L582.01,79.7 L582.29,79.71 L582.57,79.72 L582.85,79.74 L583.14,79.75 L583.42,79.76 L583.7,79.77 L583.98,79.77 L584.27,79.78 L584.55,79.79 L584.83,79.8 L585.11,79.81 L585.39,79.82 L585.68,79.83 L585.96,79.84 L586.24,79.85 L586.52,79.86 L586.81,79.87 L587.09,79.88 L587.37,79.88 L587.65,79.89 L587.94,79.9 L588.22,79.91 L588.5,79.91 L588.78,79.92 L589.07,79.93 L589.35,79.93 L589.63,79.94 L589.91,79.95 L590.19,79.95 L590.48,79.96 L590.76,79.96 L591.04,79.97 L591.32,79.97 L591.61,79.98 L591.89,79.98 L592.17,79.98 L592.45,79.99 L592.74,79.99 L593.02,79.99 L593.3,79.99 L593.58,80 L593.86,80 L594.15,80 L594.43,80 L594.71,80 L594.99,80 L595,80 L595.28,80 L595.56,80 L595.84,80 L596.12,80 L596.41,79.99 L596.69,79.99 L596.97,79.99 L597.25,79.99 L597.54,79.98 L597.82,79.98 L598.1,79.97 L598.38,79.97 L598.66,79.96 L598.95,79.96 L599.23,79.95 L599.51,79.95 L599.79,79.94 L600.08,79.93 L600.36,79.92 L600.64,79.92 L600.92,79.91 L601.21,79.9 L601.49,79.89 L601.77,79.88 L602.05,79.88 L602.34,79.87 L602.62,79.86 L602.9,79.85 L603.18,79.84 L603.46,79.83 L603.75,79.82 L604.03,79.81 L604.31,79.8 L604.59,79.79 L604.88,79.78 L605.16,79.77 L605.44,79.76 L605.72,79.76 L606.01,79.75 L606.29,79.74 L606.57,79.73 L606.85,79.72 L607.14,79.71 L607.42,79.7 L607.7,79.69 L607.98,79.69 L608.26,79.68 L608.55,79.67 L608.83,79.66 L609.11,79.66 L609.39,79.65 L609.68,79.64 L609.96,79.64 L610.24,79.63 L610.52,79.63 L610.81,79.62 L611.09,79.62 L611.37,79.62 L611.65,79.61 L611.94,79.61 L612.22,79.61 L612.5,79.6 L612.78,79.6 L613.06,79.6 L613.35,79.6 L613.63,79.6 L613.75,79.6 L613.91,79.6 L614.19,79.6 L614.48,79.6 L614.76,79.6 L615.04,79.6 L615.32,79.6 L615.61,79.6 L615.89,79.6 L616.17,79.6 L616.45,79.6 L616.74,79.6 L617.02,79.6 L617.3,79.6 L617.58,79.6 L617.86,79.6 L618.15,79.6 L618.43,79.6 L618.71,79.6 L618.99,79.6 L619.28,79.6 L619.56,79.6 L619.84,79.6 L620.12,79.6 L620.41,79.6 L620.69,79.6 L620.97,79.6 L621.25,79.6 L621.54,79.6 L621.82,79.6 L622.1,79.6 L622.38,79.6 L622.66,79.6 L622.95,79.6 L623.23,79.6 L623.51,79.6 L623.79,79.6 L624.08,79.6 L624.36,79.6 L624.64,79.6 L624.92,79.6 L625.21,79.6 L625.49,79.6 L625.77,79.6 L626.05,79.6 L626.34,79.6 L626.62,79.6 L626.9,79.6 L627.18,79.6 L627.46,79.6 L627.75,79.6 L628.03,79.6 L628.31,79.6 L628.59,79.6 L628.88,79.6 L629.16,79.6 L629.44,79.6 L629.72,79.6 L630.01,79.6 L630.29,79.6" stroke="#d95f02" stroke-width="3" fill="none" stroke-linejoin="round" clip-path="url(#c1)"/>
<text transform="scale(1.1047,1)" x="11.94 22.49 31.07 35.28" y="131.41" font-size="16.74" font-family="Liberation Serif" fill="#000" stroke="#000" stroke-width="0.05" >−0.4</text>
<text transform="scale(1.1012,1)" x="12.32 22.9 31.5 35.84" y="119.62" font-size="16.74" font-family="Liberation Serif" fill="#000" stroke="#000" stroke-width="0.05" >−0.3</text>
<text transform="scale(1.1008,1)" x="12.65 23.24 31.84 36.13" y="107.84" font-size="16.74" font-family="Liberation Serif" fill="#000" stroke="#000" stroke-width="0.05" >−0.2</text>
<text transform="scale(1.0756,1)" x="13.67 24.49 33.24 37.43" y="96.05" font-size="16.74" font-family="Liberation Serif" fill="#000" stroke="#000" stroke-width="0.05" >−0.1</text>
<text transform="scale(1.0555,1)" x="23.96 32.84 37.52" y="84.27" font-size="16.74" font-family="Liberation Serif" fill="#000" stroke="#000" stroke-width="0.05" >0.0</text>
<text transform="scale(1.0081,1)" x="26.41 35.61 40.23" y="72.49" font-size="16.74" font-family="Liberation Serif" fill="#000" stroke="#000" stroke-width="0.05" >0.1</text>
<text transform="scale(1.0492,1)" x="24.59 33.5 38.11" y="60.7" font-size="16.74" font-family="Liberation Serif" fill="#000" stroke="#000" stroke-width="0.05" >0.2</text>
<text transform="scale(1.0504,1)" x="24.21 33.12 37.78" y="48.92" font-size="16.74" font-family="Liberation Serif" fill="#000" stroke="#000" stroke-width="0.05" >0.3</text>
<text transform="scale(1.0581,1)" x="23.66 32.53 37.02" y="37.13" font-size="16.74" font-family="Liberation Serif" fill="#000" stroke="#000" stroke-width="0.05" >0.4</text>
<text transform="scale(1.0507,1)" x="24.24 33.15 37.76" y="25.35" font-size="16.74" font-family="Liberation Serif" fill="#000" stroke="#000" stroke-width="0.05" >0.5</text>
<text transform="scale(1.0654,1)" x="45.19" y="142.4" font-size="16.74" font-family="Liberation Serif" fill="#000" stroke="#000" stroke-width="0.05" >0</text>
<text transform="scale(1.0608,1)" x="142.75 151.86 160.86" y="142.4" font-size="16.74" font-family="Liberation Serif" fill="#000" stroke="#000" stroke-width="0.05" >200</text>
<text transform="scale(1.0671,1)" x="247.93 257.04 265.98" y="142.4" font-size="16.74" font-family="Liberation Serif" fill="#000" stroke="#000" stroke-width="0.05" >400</text>
<text transform="scale(1.0642,1)" x="354.56 363.61 372.58" y="142.4" font-size="16.74" font-family="Liberation Serif" fill="#000" stroke="#000" stroke-width="0.05" >600</text>
<text transform="scale(1.0640,1)" x="460.87 469.84 478.81" y="142.4" font-size="16.74" font-family="Liberation Serif" fill="#000" stroke="#000" stroke-width="0.05" >800</text>
<text transform="scale(1.0397,1)" x="575 584.55 593.73 602.91" y="142.4" font-size="16.74" font-family="Liberation Serif" fill="#000" stroke="#000" stroke-width="0.05" >1000</text>
<text transform="scale(1.1901,1)" x="251.43 263.83 274.76 293.09 305.33 312.01" y="17" font-size="22.34" font-family="Liberation Serif" font-weight="bold" fill="#000" stroke="#000" stroke-width="0.2" >Sample</text>
<rect x="51" y="178.6" width="581" height="108.7" fill="#f0f0f0"/>
<path d="M51,274.03H632M51,244.56H632M51,215.1H632M51,185.63H632M52.6,178.6V287.3M165.54,178.6V287.3M278.48,178.6V287.3M391.42,178.6V287.3M504.36,178.6V287.3M617.3,178.6V287.3" stroke="#d0d0d0" stroke-width="1" fill="none" clip-path="url(#c2)"/>
<path d="M52.6,216.73 L52.88,216.78 L53.16,216.83 L53.45,216.69 L53.73,216.56 L54.01,216.71 L54.2,216.82 L54.29,216.87 L54.58,216.74 L54.86,216.61 L55.14,216.64 L55.42,216.68 L55.71,216.74 L55.99,216.81 L56.27,216.67 L56.55,216.52 L56.84,216.63 L57.12,216.74 L57.4,216.61 L57.68,216.48 L57.96,216.56 L58.25,216.65 L58.53,216.63 L58.81,216.61 L59.09,216.52 L59.38,216.42 L59.4,216.41 L59.66,216.31 L59.94,216.21 L60.22,216.41 L60.51,216.61 L60.79,216.6 L61.07,216.59 L61.35,216.5 L61.64,216.41 L61.92,216.34 L62.2,216.28 L62.48,216.4 L62.76,216.53 L63.05,216.6 L63.33,216.67 L63.61,216.54 L63.89,216.4 L64.18,216.68 L64.46,216.94 L64.74,216.74 L65.02,216.53 L65.31,216.69 L65.59,216.85 L65.87,216.89 L65.9,216.9 L66.15,216.93 L66.44,216.92 L66.72,216.91 L67,216.82 L67.28,216.73 L67.56,216.54 L67.85,216.35 L68.13,216.47 L68.41,216.59 L68.69,216.43 L68.98,216.27 L69.26,216.21 L69.54,216.15 L69.82,216.19 L70.11,216.24 L70.39,216.18 L70.6,216.14 L70.67,216.13 L70.95,216.26 L71.24,216.38 L71.52,216.36 L71.8,216.34 L72.08,216.27 L72.36,216.2 L72.65,216.04 L72.93,215.87 L73.21,215.9 L73.49,215.92 L73.78,215.91 L74.06,215.9 L74.34,215.78 L74.62,215.67 L74.91,215.67 L75.19,215.67 L75.47,215.69 L75.75,215.7 L76.04,215.55 L76.32,215.41 L76.6,215.43 L76.7,215.44 L76.88,215.46 L77.16,215.59 L77.45,215.74 L77.73,215.68 L78.01,215.62 L78.29,215.68 L78.58,215.75 L78.86,215.71 L79.14,215.67 L79.42,215.77 L79.71,215.87 L79.99,216.04 L80.27,216.21 L80.55,216.07 L80.84,215.92 L81.12,216.19 L81.4,216.45 L81.68,216.38 L81.9,216.32 L81.96,216.3 L82.25,216.2 L82.53,216.1 L82.81,216.25 L83.09,216.4 L83.38,216.29 L83.66,216.18 L83.94,216.28 L84.22,216.38 L84.51,216.19 L84.79,216 L85.07,215.97 L85.35,215.93 L85.6,215.98 L85.63,215.98 L85.92,216.01 L86.2,215.86 L86.48,215.67 L86.76,215.7 L87.05,215.72 L87.33,215.48 L87.61,215.26 L87.89,215.19 L88.18,215.16 L88.4,215.15 L88.46,215.16 L88.74,215.17 L89.02,215.22 L89.31,215.28 L89.59,215.21 L89.87,215.14 L90.15,215.15 L90.43,215.15 L90.72,215.3 L91,215.44 L91.2,215.41 L91.28,215.39 L91.56,215.3 L91.85,215.38 L92.13,215.44 L92.41,215.15 L92.69,214.89 L92.98,214.86 L93.1,214.86 L93.26,214.87 L93.54,214.8 L93.82,214.76 L94.11,214.88 L94.39,215.02 L94.67,215.27 L94.95,215.53 L95.23,215.62 L95.52,215.7 L95.8,215.72 L96.08,215.72 L96.36,215.96 L96.65,216.17 L96.9,216.07 L96.93,216.06 L97.21,215.94 L97.49,216.03 L97.78,216.13 L98.06,216.16 L98.34,216.19 L98.62,216.23 L98.91,216.27 L99.19,216.1 L99.47,215.93 L99.75,216.13 L100.03,216.32 L100.32,216.31 L100.6,216.28 L100.88,216.25 L101.1,216.22 L101.16,216.21 L101.45,216.05 L101.73,215.85 L102.01,215.96 L102.29,216.03 L102.58,215.78 L102.86,215.52 L103.14,215.33 L103.42,215.16 L103.71,214.96 L103.99,214.78 L104.27,214.76 L104.4,214.76 L104.55,214.77 L104.83,214.74 L105.12,214.7 L105.4,214.82 L105.68,214.92 L105.96,214.83 L106.25,214.72 L106.53,214.67 L106.81,214.62 L107.09,214.41 L107.38,214.22 L107.66,214.15 L107.94,214.1 L108.22,214.3 L108.4,214.44 L108.51,214.52 L108.79,214.53 L109.07,214.54 L109.35,214.56 L109.63,214.59 L109.92,214.64 L110.2,214.71 L110.48,214.71 L110.76,214.72 L111.05,214.78 L111.33,214.85 L111.61,215.03 L111.89,215.22 L112.18,215.4 L112.46,215.57 L112.74,215.56 L113.02,215.55 L113.31,215.66 L113.59,215.77 L113.87,215.81 L114.15,215.83 L114.43,215.8 L114.72,215.76 L115,215.89 L115.28,216 L115.56,216.09 L115.85,216.16 L116.13,216.14 L116.25,216.13 L116.41,216.11 L116.69,216.05 L116.98,215.97 L117.26,216.03 L117.54,216.08 L117.82,215.71 L118.11,215.33 L118.39,215.21 L118.67,215.1 L118.95,214.95 L119.23,214.82 L119.52,214.76 L119.8,214.74 L120,214.81 L120.08,214.84 L120.36,214.94 L120.65,214.92 L120.93,214.89 L121.21,214.94 L121.49,214.97 L121.78,214.78 L122.06,214.57 L122.34,214.67 L122.62,214.76 L122.91,214.7 L123.19,214.64 L123.47,214.55 L123.75,214.46 L124.03,214.43 L124.32,214.41 L124.6,214.33 L124.88,214.27 L125.15,214.34 L125.16,214.34 L125.45,214.43 L125.73,214.48 L126.01,214.54 L126.29,214.57 L126.58,214.62 L126.86,214.74 L127.14,214.88 L127.42,214.94 L127.71,215.01 L127.99,215.26 L128.27,215.51 L128.55,215.44 L128.83,215.37 L129.12,215.61 L129.4,215.84 L129.68,216.12 L129.96,216.39 L130.25,216.49 L130.53,216.58 L130.81,216.66 L131.09,216.72 L131.38,216.78 L131.66,216.83 L131.94,216.92 L132.2,216.99 L132.22,217 L132.51,216.76 L132.79,216.47 L133.07,216.28 L133.35,216.05 L133.63,215.96 L133.92,215.86 L134.2,215.59 L134.48,215.34 L134.76,215.22 L135.05,215.13 L135.33,214.98 L135.61,214.89 L135.89,214.79 L135.9,214.79 L136.18,214.72 L136.46,214.72 L136.74,214.72 L137.02,214.53 L137.31,214.33 L137.59,214.46 L137.87,214.58 L138.15,214.55 L138.43,214.52 L138.72,214.19 L139,213.86 L139.28,213.9 L139.56,213.93 L139.85,213.96 L140.13,213.99 L140.41,213.81 L140.69,213.64 L140.98,213.73 L141.26,213.82 L141.54,213.64 L141.82,213.47 L142.1,213.33 L142.39,213.2 L142.5,213.21 L142.67,213.24 L142.95,213.33 L143.23,213.49 L143.52,213.69 L143.8,214.02 L144.08,214.38 L144.36,214.62 L144.65,214.88 L144.93,215.25 L145.21,215.61 L145.49,215.75 L145.78,215.88 L146.06,216.21 L146.34,216.52 L146.62,216.65 L146.9,216.73 L147.19,216.96 L147.47,217.13 L147.6,217.15 L147.75,217.16 L148.03,217.13 L148.32,216.86 L148.6,216.54 L148.88,216.29 L149.16,216.01 L149.45,215.79 L149.73,215.56 L150.01,215.3 L150.29,215.05 L150.58,214.81 L150.86,214.6 L151.14,214.45 L151.42,214.36 L151.7,214.43 L151.9,214.51 L151.99,214.56 L152.27,214.46 L152.55,214.34 L152.83,214.32 L153.12,214.29 L153.4,214.3 L153.68,214.32 L153.96,214.26 L154.25,214.21 L154.53,214.11 L154.7,214.07 L154.81,214.04 L155.09,214 L155.38,213.92 L155.66,213.69 L155.94,213.42 L156.22,213.18 L156.5,212.94 L156.79,212.91 L157.07,212.9 L157.35,212.65 L157.63,212.44 L157.92,212.39 L158,212.38 L158.2,212.4 L158.48,212.52 L158.76,212.72 L159.05,213.16 L159.33,213.66 L159.61,214.09 L159.89,214.55 L160.18,214.98 L160.46,215.41 L160.74,215.83 L161.02,216.2 L161.3,216.51 L161.59,216.74 L161.87,216.78 L162.15,216.72 L162.2,216.71 L162.43,216.64 L162.72,216.53 L163,216.49 L163.28,216.43 L163.56,216.44 L163.85,216.44 L164.13,216.28 L164.41,216.13 L164.69,215.99 L164.98,215.86 L165.26,215.98 L165.54,216.13 L165.82,215.94 L166,215.84 L166.1,215.78 L166.39,215.69 L166.67,215.59 L166.95,215.56 L167.23,215.51 L167.52,215.42 L167.8,215.32 L168.08,215.26 L168.36,215.19 L168.65,215.11 L168.93,215.02 L169.21,214.68 L169.49,214.34 L169.78,214.28 L170.06,214.22 L170.34,213.92 L170.62,213.62 L170.9,213.41 L171.19,213.2 L171.47,213.22 L171.75,213.24 L172.03,213.13 L172.32,213.03 L172.6,212.81 L172.88,212.6 L173.16,212.63 L173.45,212.67 L173.5,212.7 L173.73,212.84 L174.01,213.06 L174.29,213.19 L174.58,213.37 L174.86,213.57 L175.14,213.8 L175.42,213.87 L175.7,213.96 L175.99,214.29 L176.27,214.63 L176.55,215.12 L176.83,215.59 L177.12,215.68 L177.4,215.74 L177.68,215.9 L177.96,216.02 L178.25,216.23 L178.53,216.38 L178.75,216.46 L178.81,216.48 L179.09,216.53 L179.38,216.39 L179.66,216.21 L179.94,216.16 L180.22,216.08 L180.5,215.91 L180.79,215.73 L181.07,215.26 L181.35,214.82 L181.63,214.75 L181.92,214.71 L182.2,214.67 L182.48,214.68 L182.5,214.67 L182.76,214.56 L183.05,214.44 L183.33,214.55 L183.61,214.66 L183.89,214.51 L184.18,214.35 L184.46,214.34 L184.74,214.33 L185.02,214.48 L185.3,214.64 L185.3,214.64 L185.59,214.59 L185.87,214.45 L186.15,214.23 L186.43,213.95 L186.72,213.64 L187,213.29 L187.28,212.81 L187.56,212.32 L187.85,212.03 L188.13,211.77 L188.41,211.43 L188.69,211.15 L188.98,211.06 L189.26,211.06 L189.4,210.94 L189.54,210.85 L189.82,210.74 L190.1,211.08 L190.39,211.53 L190.67,211.87 L190.95,212.28 L191.23,212.74 L191.52,213.24 L191.8,213.71 L192.08,214.18 L192.36,214.86 L192.65,215.5 L192.93,215.83 L193.21,216.09 L193.49,216.53 L193.77,216.87 L194.06,217 L194.3,217.03 L194.34,217.03 L194.62,216.94 L194.9,216.71 L195.19,216.5 L195.47,216.19 L195.75,215.57 L196.03,214.94 L196.32,214.5 L196.6,214.12 L196.88,213.82 L197.16,213.63 L197.45,213.31 L197.5,213.27 L197.73,213.11 L198.01,213.35 L198.29,213.64 L198.57,213.71 L198.86,213.82 L199.14,213.95 L199.42,214.09 L199.7,214.33 L199.99,214.55 L200.27,214.74 L200.55,214.9 L200.83,214.88 L200.9,214.87 L201.12,214.78 L201.4,214.56 L201.68,214.18 L201.96,213.6 L202.25,212.91 L202.53,212.37 L202.81,211.78 L203.09,210.87 L203.37,209.97 L203.66,209.34 L203.94,208.8 L204.22,208.27 L204.5,207.9 L204.79,207.55 L205,207.4 L205.07,207.37 L205.35,207.6 L205.63,208.02 L205.92,208.54 L206.2,209.23 L206.48,210.02 L206.76,210.92 L207.05,211.91 L207.33,212.95 L207.61,214.15 L207.89,215.32 L208.17,216.25 L208.46,217.06 L208.74,217.82 L209.02,218.41 L209.3,218.79 L209.59,218.97 L209.7,218.97 L209.87,218.89 L210.15,218.56 L210.43,218.1 L210.72,217.44 L211,216.51 L211.28,215.47 L211.56,214.41 L211.85,213.35 L212.13,212.21 L212.41,211.19 L212.69,210.54 L212.97,210.11 L213.26,209.8 L213.4,209.74 L213.54,209.74 L213.82,209.93 L214.1,210.32 L214.39,211.09 L214.67,212.01 L214.95,212.76 L215.23,213.57 L215.52,214.37 L215.8,215.14 L216.08,215.95 L216.36,216.63 L216.65,217.32 L216.93,217.81 L217.2,217.92 L217.21,217.92 L217.49,217.73 L217.77,217.1 L218.06,216.15 L218.34,215.12 L218.62,213.88 L218.9,212.37 L219.19,210.82 L219.47,209.4 L219.75,208.11 L220.03,206.81 L220.32,205.77 L220.6,205.19 L220.88,204.95 L220.9,204.95 L221.16,205.05 L221.45,205.45 L221.73,206.37 L222.01,207.55 L222.29,208.59 L222.57,209.82 L222.86,211.35 L223.14,212.96 L223.42,214.71 L223.7,216.43 L223.99,217.72 L224.27,218.87 L224.55,220 L224.83,220.9 L225.12,221.75 L225.4,222.33 L225.6,222.26 L225.68,222.18 L225.96,221.58 L226.25,220.84 L226.53,219.67 L226.81,217.99 L227.09,216.09 L227.37,213.97 L227.66,211.89 L227.94,210.16 L228.22,208.71 L228.5,207.79 L228.79,207.33 L229,207.13 L229.07,207.12 L229.35,207.23 L229.63,207.64 L229.92,208.27 L230.2,209.18 L230.48,210.25 L230.76,211.44 L231.05,212.72 L231.33,213.95 L231.61,215.18 L231.89,216.27 L232.17,217.24 L232.46,218.37 L232.74,219.31 L233.02,219.7 L233.3,219.85 L233.5,219.94 L233.59,219.92 L233.87,219.55 L234.15,218.79 L234.43,217.61 L234.72,215.91 L235,213.99 L235.28,211.99 L235.56,210.02 L235.85,208.32 L236.13,206.91 L236.41,205.97 L236.69,205.48 L236.9,205.16 L236.97,205.11 L237.26,205.21 L237.54,206.06 L237.82,207.32 L238.1,208.83 L238.39,210.61 L238.67,212.88 L238.95,215.25 L239.23,217.33 L239.52,219.32 L239.8,221.21 L240.08,222.83 L240.36,223.83 L240.65,224.43 L240.93,224.91 L241,224.96 L241.21,224.95 L241.49,224.49 L241.77,223.63 L242.06,222.32 L242.34,220.71 L242.62,218.81 L242.9,216.76 L243.19,214.8 L243.47,212.85 L243.75,211.11 L244.03,209.56 L244.32,208.13 L244.6,207 L244.88,206 L245.16,205.39 L245.3,205.38 L245.45,205.48 L245.73,205.9 L246.01,206.51 L246.29,207.41 L246.57,208.75 L246.86,210.29 L247.14,211.81 L247.42,213.41 L247.7,214.83 L247.99,216.19 L248.27,217.67 L248.55,218.97 L248.83,220.05 L249.12,220.85 L249.4,221.01 L249.6,220.93 L249.68,220.84 L249.96,220.63 L250.24,220.05 L250.53,219.02 L250.81,217.73 L251.09,216.49 L251.37,215.15 L251.66,213.39 L251.94,211.72 L252.22,210.65 L252.5,209.83 L252.79,208.89 L253.07,208.31 L253.2,208.32 L253.35,208.45 L253.63,209.13 L253.92,210.23 L254.2,211.77 L254.48,213.55 L254.76,215.54 L255.04,217.56 L255.33,219.5 L255.61,221.51 L255.89,223.18 L256.17,224.28 L256.46,224.87 L256.6,224.88 L256.74,224.79 L257.02,224.33 L257.3,223.73 L257.59,222.81 L257.87,221.57 L258.15,220.11 L258.43,218.42 L258.72,216.61 L259,214.8 L259.28,213.01 L259.56,211.23 L259.84,209.59 L260.13,208.17 L260.41,207.01 L260.69,206.17 L260.97,205.66 L261.25,205.37 L261.26,205.37 L261.54,205.44 L261.82,206.14 L262.1,207.18 L262.39,208.34 L262.67,209.75 L262.95,211.48 L263.23,213.32 L263.52,215.06 L263.8,216.73 L264.08,218.41 L264.36,219.89 L264.64,220.94 L264.93,221.68 L265.21,222.18 L265.4,222.31 L265.49,222.32 L265.77,221.91 L266.06,221.26 L266.34,220.62 L266.62,219.78 L266.9,218.83 L267.19,217.76 L267.47,216.45 L267.75,215.12 L268.03,213.79 L268.32,212.54 L268.6,211.78 L268.88,211.19 L269.16,210.41 L269.44,209.85 L269.7,209.84 L269.73,209.86 L270.01,210.32 L270.29,211.23 L270.57,212.62 L270.86,214.27 L271.14,216.08 L271.42,218.08 L271.7,219.86 L271.99,221.12 L272.27,221.86 L272.5,222.03 L272.55,222.01 L272.83,221.82 L273.12,221.39 L273.4,220.75 L273.68,220.18 L273.96,219.44 L274.24,218.24 L274.53,216.91 L274.81,215.65 L275.09,214.09 L275.37,212.88 L275.66,211.66 L275.94,210.5 L276.22,209.38 L276.5,208.27 L276.79,207.23 L277.07,206.34 L277.35,205.56 L277.63,204.79 L277.92,204.15 L278.2,203.69 L278.4,203.44 L278.48,203.6 L278.76,204.18 L279.04,205.06 L279.33,206.53 L279.61,208.25 L279.89,210.05 L280.17,212 L280.46,214.04 L280.74,216.1 L281.02,217.9 L281.3,219.6 L281.59,221.34 L281.87,222.88 L282.15,224.23 L282.43,225.3 L282.72,226.12 L282.75,226.2 L283,225.62 L283.28,224.46 L283.56,222.9 L283.84,221 L284.13,218.88 L284.41,216.65 L284.69,214.46 L284.97,212.55 L285.26,210.93 L285.54,209.51 L285.82,208.51 L285.9,208.35 L286.1,208.76 L286.39,209.55 L286.67,210.33 L286.95,211.33 L287.23,212.7 L287.52,214.21 L287.8,215.95 L288.08,217.73 L288.36,219.48 L288.64,221.18 L288.93,222.49 L289.21,223.67 L289.49,225.03 L289.77,226.17 L290.06,226.88 L290.25,227.23 L290.34,226.95 L290.62,225.84 L290.9,224.23 L291.19,221.95 L291.47,219.3 L291.75,216.45 L292.03,213.44 L292.32,210.4 L292.6,207.45 L292.88,204.79 L293.16,202.45 L293.44,200.35 L293.73,198.72 L294,197.85 L294.01,197.89 L294.29,199.2 L294.57,200.85 L294.86,203 L295.14,205.71 L295.42,208.78 L295.7,211.98 L295.99,215.32 L296.27,218.86 L296.55,222.32 L296.83,225.48 L297.12,228.32 L297.4,230.67 L297.68,232.55 L297.96,234 L298.1,234.51 L298.24,234.04 L298.53,232.61 L298.81,230.68 L299.09,228.41 L299.37,225.77 L299.66,222.79 L299.94,219.66 L300.22,216.59 L300.5,213.62 L300.79,210.82 L301.07,208.35 L301.35,206.26 L301.63,204.66 L301.9,203.79 L301.92,203.84 L302.2,204.92 L302.48,206.3 L302.76,208.07 L303.04,209.99 L303.33,212.2 L303.61,215.02 L303.89,217.98 L304.17,220.61 L304.46,223.2 L304.74,225.84 L305.02,228.28 L305.3,230.58 L305.59,232.54 L305.87,233.74 L306.15,234.52 L306.2,234.65 L306.43,233.46 L306.71,231.35 L307,228.63 L307.28,225.31 L307.56,221.43 L307.84,217.21 L308.13,212.85 L308.41,208.5 L308.69,204.55 L308.97,200.95 L309.26,197.56 L309.54,194.79 L309.82,192.83 L310,191.98 L310.1,192.39 L310.39,193.83 L310.67,195.85 L310.95,198.49 L311.23,201.59 L311.51,205.06 L311.8,208.81 L312.08,212.81 L312.36,216.85 L312.64,220.67 L312.93,224.31 L313.21,227.79 L313.49,230.88 L313.77,233.44 L314.06,235.46 L314.34,237.03 L314.4,237.29 L314.62,236.25 L314.9,234.09 L315.19,231.17 L315.47,227.54 L315.75,223.43 L316.03,219.01 L316.31,214.54 L316.6,210.37 L316.88,206.58 L317.16,203.09 L317.44,200.31 L317.73,198.6 L317.8,198.3 L318.01,199.17 L318.29,200.7 L318.57,202.73 L318.86,205.24 L319.14,208.12 L319.42,211.3 L319.7,214.67 L319.99,218.21 L320.27,221.73 L320.55,225.21 L320.83,228.47 L321.11,231.05 L321.4,233.23 L321.68,235.17 L321.96,236.61 L322.1,237.14 L322.24,236.36 L322.53,234.11 L322.81,230.89 L323.09,226.88 L323.37,222.23 L323.66,217.14 L323.94,212.05 L324.22,206.99 L324.5,201.85 L324.79,197.19 L325.07,193.53 L325.35,190.68 L325.63,188.67 L325.7,188.33 L325.91,189.41 L326.2,191.32 L326.48,193.84 L326.76,196.86 L327.04,200.36 L327.33,204.5 L327.61,208.88 L327.89,213.1 L328.17,217.3 L328.46,221.42 L328.74,225.25 L329.02,228.88 L329.3,232 L329.59,234.43 L329.87,236.22 L330,236.81 L330.15,236.08 L330.43,234.13 L330.71,231.43 L331,228.08 L331.28,224.25 L331.56,220.04 L331.84,215.7 L332.13,211.33 L332.41,207.08 L332.69,203.17 L332.97,199.91 L333.26,197.26 L333.54,195.16 L333.75,194.08 L333.82,194.35 L334.1,195.88 L334.39,198.08 L334.67,200.79 L334.95,204.01 L335.23,207.85 L335.51,211.93 L335.8,215.88 L336.08,219.73 L336.36,223.54 L336.64,226.94 L336.93,229.64 L337.21,231.71 L337.49,233.06 L337.5,233.09 L337.77,231.46 L338.06,228.92 L338.34,225.63 L338.62,221.81 L338.9,217.49 L339.19,212.86 L339.47,208.09 L339.75,203.49 L340.03,199.16 L340.31,195.11 L340.6,191.66 L340.88,188.98 L341.16,187.06 L341.25,186.62 L341.44,187.6 L341.73,189.59 L342.01,192.31 L342.29,195.59 L342.57,199.01 L342.86,202.78 L343.14,207.16 L343.42,211.6 L343.7,215.59 L343.99,219.38 L344.27,223.09 L344.55,226.39 L344.83,229.44 L345.11,231.95 L345.4,233.53 L345.4,233.54 L345.68,231.69 L345.96,229.17 L346.24,226.05 L346.53,222.5 L346.81,218.59 L347.09,214.63 L347.37,210.6 L347.66,206.57 L347.94,202.76 L348.22,199.27 L348.5,196.23 L348.79,193.5 L349.07,191.34 L349.1,191.17 L349.35,192.89 L349.63,195.35 L349.91,197.99 L350.2,201.05 L350.48,204.64 L350.76,208.44 L351.04,212.1 L351.33,215.72 L351.61,219.19 L351.89,222.4 L352.17,225.63 L352.46,228.45 L352.74,230.43 L352.9,231.36 L353.02,230.53 L353.3,228.55 L353.59,226.16 L353.87,223.23 L354.15,219.99 L354.43,216.68 L354.71,213.2 L355,209.72 L355.28,206.24 L355.56,202.51 L355.84,198.93 L356.13,195.84 L356.41,193.02 L356.69,190.53 L356.97,188.4 L357.2,186.86 L357.26,187.31 L357.54,189.95 L357.82,193.06 L358.1,196.69 L358.39,200.86 L358.67,205.28 L358.95,209.81 L359.23,214.25 L359.51,218.43 L359.8,222.21 L360.08,225.35 L360.36,227.9 L360.4,228.21 L360.64,226.92 L360.93,225.17 L361.21,222.99 L361.49,220.58 L361.77,218.33 L362.06,215.92 L362.34,212.97 L362.62,209.97 L362.9,207.15 L363.19,204.39 L363.47,201.97 L363.75,199.72 L364.03,197.26 L364.31,195.05 L364.6,193.38 L364.8,192.36 L364.88,192.99 L365.16,195.58 L365.44,198.82 L365.73,202.79 L366.01,207.11 L366.29,211.35 L366.57,215.47 L366.86,219.28 L367.14,222.56 L367.42,225.04 L367.5,225.61 L367.7,224.69 L367.98,223.53 L368.27,222.2 L368.55,220.65 L368.83,218.95 L369.11,217.04 L369.4,215.03 L369.68,213 L369.96,210.91 L370.24,208.83 L370.53,206.76 L370.81,204.65 L371.09,202.61 L371.37,200.48 L371.66,198.48 L371.94,196.96 L372.22,195.61 L372.5,194.1 L372.78,192.78 L372.8,192.73 L373.07,195.31 L373.35,198.8 L373.63,202.73 L373.91,207.01 L374.2,211.28 L374.48,215.26 L374.76,218.83 L375.04,221.64 L375.1,222.08 L375.33,221.35 L375.61,220.33 L375.89,219.06 L376.17,217.67 L376.46,216.34 L376.74,214.92 L377.02,213.42 L377.3,211.86 L377.58,210.29 L377.87,208.71 L378.15,207.02 L378.43,205.35 L378.71,203.81 L379,202.35 L379.28,201.09 L379.56,199.95 L379.84,198.77 L380.13,197.72 L380.4,197.06 L380.41,197.12 L380.69,199.37 L380.97,201.89 L381.26,204.9 L381.54,208.41 L381.82,211.89 L382.1,214.89 L382.38,217.36 L382.6,218.88 L382.67,218.76 L382.95,218.21 L383.23,217.65 L383.51,217.02 L383.8,216.28 L384.08,215.48 L384.36,214.31 L384.64,213.1 L384.93,212.3 L385.21,211.48 L385.49,210.33 L385.77,209.17 L386.06,208.14 L386.34,207.13 L386.62,206.13 L386.9,205.16 L387.18,204.11 L387.47,203.11 L387.75,202.24 L388.03,201.43 L388.31,200.96 L388.6,200.56 L388.7,200.33 L388.88,201.13 L389.16,202.8 L389.44,205.08 L389.73,207.59 L390.01,209.96 L390.29,212.12 L390.57,214.03 L390.8,215.2 L390.86,215.15 L391.14,214.87 L391.42,214.49 L391.7,214.06 L391.98,213.58 L392.27,213.06 L392.55,212.5 L392.83,211.8 L393.11,211.07 L393.4,210.53 L393.68,209.99 L393.96,209.42 L394.24,208.86 L394.53,208.14 L394.81,207.44 L395.09,206.89 L395.37,206.36 L395.66,205.99 L395.94,205.67 L396.22,205.35 L396.5,205.08 L396.5,205.09 L396.78,206.14 L397.07,207.55 L397.35,209.23 L397.63,210.98 L397.91,212.54 L398.2,213.82 L398.4,214.57 L398.48,214.53 L398.76,214.37 L399.04,214.1 L399.33,213.8 L399.61,213.5 L399.89,213.17 L400.17,212.77 L400.46,212.36 L400.74,211.93 L401.02,211.49 L401.3,211.13 L401.58,210.77 L401.87,210.46 L402.15,210.15 L402.43,209.81 L402.71,209.48 L403,209.15 L403.28,208.85 L403.56,208.63 L403.84,208.44 L404,208.33 L404.13,208.48 L404.41,208.88 L404.69,209.43 L404.97,210.04 L405.26,210.6 L405.54,211.13 L405.82,211.53 L406.1,211.83 L406.3,212.17 L406.38,212.19 L406.67,212.26 L406.95,212.09 L407.23,211.92 L407.51,211.77 L407.8,211.62 L408.08,211.44 L408.36,211.25 L408.64,211.22 L408.93,211.19 L409.21,211.03 L409.49,210.88 L409.77,210.74 L410.06,210.61 L410.34,210.47 L410.62,210.33 L410.9,210.22 L411.18,210.13 L411.3,210.06 L411.47,210.12 L411.75,210.29 L412.03,210.64 L412.31,211.02 L412.6,211.38 L412.88,211.73 L413.16,212.18 L413.44,212.57 L413.5,212.61 L413.73,212.6 L414.01,212.59 L414.29,212.45 L414.57,212.31 L414.86,212.27 L415.14,212.22 L415.42,212.28 L415.7,212.33 L415.98,212.3 L416.27,212.26 L416.55,212.35 L416.83,212.44 L417.11,212.35 L417.4,212.26 L417.68,212.15 L417.96,212.04 L418.24,212.05 L418.5,212.06 L418.53,212.06 L418.81,212.08 L419.09,212.09 L419.37,212.1 L419.66,212.11 L419.94,212.27 L420.22,212.43 L420.5,212.5 L420.78,212.57 L421.07,212.6 L421.35,212.63 L421.63,212.59 L421.91,212.54 L422.2,212.51 L422.2,212.51 L422.48,212.48 L422.76,212.41 L423.04,212.32 L423.33,212.31 L423.61,212.3 L423.89,212.25 L424.17,212.19 L424.45,212.11 L424.74,212.03 L425.02,212.03 L425.3,212.05 L425.58,212.01 L425.87,211.98 L425.9,211.99 L426.15,212.08 L426.43,212.21 L426.71,212.12 L427,212.06 L427.28,212.25 L427.56,212.45 L427.84,212.43 L428.13,212.41 L428.41,212.57 L428.69,212.73 L428.97,212.88 L429.25,213.02 L429.54,213.12 L429.82,213.19 L430.1,213.19 L430.2,213.18 L430.38,213.16 L430.67,213.09 L430.95,213 L431.23,212.97 L431.51,212.93 L431.8,213.01 L432.08,213.08 L432.36,213.06 L432.64,213.03 L432.93,212.92 L433.21,212.81 L433.49,212.78 L433.77,212.75 L434.05,212.77 L434.34,212.8 L434.4,212.81 L434.62,212.84 L434.9,212.9 L435.18,212.87 L435.47,212.86 L435.75,213.05 L436.03,213.23 L436.31,213.27 L436.6,213.3 L436.88,213.35 L437.16,213.39 L437.44,213.35 L437.73,213.3 L438.01,213.37 L438.1,213.39 L438.29,213.43 L438.57,213.38 L438.85,213.31 L439.14,213.36 L439.42,213.4 L439.7,213.4 L439.98,213.4 L440.27,213.36 L440.55,213.32 L440.83,213.15 L441.11,212.99 L441.4,213.02 L441.68,213.05 L441.9,213.11 L441.96,213.12 L442.24,213.2 L442.53,213.27 L442.81,213.34 L443.09,213.29 L443.37,213.24 L443.65,213.25 L443.94,213.27 L444.22,213.37 L444.5,213.48 L444.78,213.56 L445.07,213.65 L445.35,213.63 L445.63,213.61 L445.91,213.61 L446.2,213.61 L446.48,213.77 L446.76,213.92 L447.04,213.98 L447.33,214.02 L447.5,213.99 L447.61,213.97 L447.89,213.9 L448.17,213.85 L448.45,213.79 L448.74,213.69 L449.02,213.58 L449.3,213.6 L449.58,213.63 L449.87,213.46 L450.15,213.31 L450.43,213.29 L450.71,213.29 L450.8,213.3 L451,213.34 L451.28,213.42 L451.56,213.54 L451.84,213.69 L452.13,213.66 L452.41,213.64 L452.69,213.88 L452.97,214.11 L453.25,214.11 L453.54,214.09 L453.82,214.24 L454.05,214.34 L454.1,214.36 L454.38,214.36 L454.67,214.36 L454.95,214.25 L455.23,214.15 L455.51,214.23 L455.8,214.3 L456.08,214.18 L456.36,214.05 L456.64,214.12 L456.93,214.2 L457.21,214.25 L457.49,214.3 L457.77,214.29 L458.05,214.28 L458.3,214.25 L458.34,214.24 L458.62,214.22 L458.9,214.21 L459.18,214.21 L459.47,214.22 L459.75,214.24 L460.03,214.47 L460.31,214.7 L460.6,214.75 L460.88,214.79 L461.16,214.9 L461.44,215.01 L461.73,214.92 L462.01,214.83 L462.29,215 L462.5,215.12 L462.57,215.16 L462.85,215.17 L463.14,215.19 L463.42,215.19 L463.7,215.19 L463.98,215.13 L464.27,215.07 L464.55,214.98 L464.83,214.89 L465.11,214.89 L465.4,214.89 L465.68,214.92 L465.96,214.95 L466.2,214.91 L466.24,214.9 L466.53,214.86 L466.81,214.91 L467.09,214.97 L467.37,215.15 L467.65,215.34 L467.94,215.46 L468.22,215.59 L468.5,215.55 L468.78,215.52 L469.07,215.64 L469.35,215.76 L469.63,215.97 L469.91,216.15 L470.2,216.08 L470.48,215.98 L470.6,216.01 L470.76,216.03 L471.04,216.08 L471.33,216.07 L471.61,216.06 L471.89,216.06 L472.17,216.05 L472.45,216.07 L472.74,216.08 L473.02,216.1 L473.3,216.12 L473.58,216.06 L473.87,216.01 L473.9,216.01 L474.15,216 L474.43,216.01 L474.71,215.93 L475,215.87 L475.28,216.07 L475.56,216.28 L475.84,216.2 L476.12,216.12 L476.41,216.33 L476.69,216.54 L476.97,216.58 L477.25,216.62 L477.54,216.58 L477.82,216.54 L478.1,216.57 L478.38,216.59 L478.6,216.65 L478.67,216.67 L478.95,216.73 L479.23,216.78 L479.51,216.83 L479.8,216.73 L480.08,216.62 L480.36,216.61 L480.64,216.59 L480.92,216.46 L481.21,216.34 L481.49,216.46 L481.77,216.58 L481.9,216.57 L482.05,216.55 L482.34,216.53 L482.62,216.46 L482.9,216.4 L483.18,216.6 L483.47,216.81 L483.75,216.79 L484.03,216.78 L484.31,216.77 L484.6,216.75 L484.88,216.81 L485.16,216.86 L485.44,217.02 L485.72,217.17 L486.01,217.19 L486.1,217.19 L486.29,217.18 L486.57,217.15 L486.85,217.1 L487.14,216.89 L487.42,216.66 L487.7,216.7 L487.98,216.73 L488.27,216.55 L488.55,216.38 L488.83,216.28 L489.11,216.2 L489.4,216.26 L489.68,216.34 L489.8,216.35 L489.96,216.35 L490.24,216.37 L490.52,216.25 L490.81,216.13 L491.09,216.2 L491.37,216.28 L491.65,216.35 L491.94,216.43 L492.22,216.36 L492.5,216.29 L492.78,216.37 L493.07,216.45 L493.35,216.46 L493.6,216.47 L493.63,216.47 L493.91,216.5 L494.2,216.52 L494.48,216.33 L494.76,216.13 L495.04,216.01 L495.32,215.89 L495.61,215.84 L495.89,215.79 L496.17,215.64 L496.45,215.49 L496.74,215.58 L497.02,215.68 L497.3,215.6 L497.58,215.54 L497.8,215.5 L497.87,215.49 L498.15,215.45 L498.43,215.37 L498.71,215.3 L499,215.33 L499.28,215.36 L499.56,215.49 L499.84,215.62 L500.12,215.68 L500.41,215.73 L500.69,215.72 L500.97,215.7 L501.25,215.71 L501.54,215.7 L501.6,215.68 L501.82,215.61 L502.1,215.51 L502.38,215.61 L502.67,215.7 L502.95,215.52 L503.23,215.34 L503.51,215.28 L503.8,215.22 L504.08,215.14 L504.36,215.18 L504.64,215.13 L504.92,215.1 L505.21,215.09 L505.3,215.09 L505.49,215.09 L505.77,215.1 L506.05,215.11 L506.34,215.13 L506.62,215.16 L506.9,215.19 L507.18,215.22 L507.47,215.25 L507.75,215.28 L508.03,215.31 L508.31,215.34 L508.6,215.37 L508.88,215.38 L509.16,215.39 L509.44,215.4 L509.5,215.4 L509.72,215.4 L510.01,215.38 L510.29,215.36 L510.57,215.33 L510.85,215.29 L511.14,215.25 L511.42,215.21 L511.7,215.16 L511.98,215.12 L512.27,215.09 L512.55,215.06 L512.83,215.03 L513.11,215.02 L513.3,215.02 L513.4,215.02 L513.68,215.03 L513.96,215.06 L514.24,215.1 L514.52,215.16 L514.81,215.22 L515.09,215.28 L515.37,215.35 L515.65,215.41 L515.94,215.47 L516.22,215.51 L516.5,215.55 L516.78,215.57 L517,215.57 L517.07,215.57 L517.35,215.56 L517.63,215.55 L517.91,215.52 L518.2,215.49 L518.48,215.45 L518.76,215.41 L519.04,215.37 L519.32,215.32 L519.61,215.28 L519.89,215.24 L520.17,215.2 L520.45,215.17 L520.74,215.15 L521.02,215.14 L521.25,215.14 L521.3,215.14 L521.58,215.13 L521.87,215.12 L522.15,215.11 L522.43,215.09 L522.71,215.07 L523,215.05 L523.28,215.02 L523.56,214.99 L523.84,214.95 L524.12,214.91 L524.41,214.87 L524.69,214.83 L524.97,214.79 L525.25,214.74 L525.54,214.7 L525.82,214.66 L526.1,214.61 L526.38,214.57 L526.67,214.53 L526.95,214.5 L527.23,214.46 L527.51,214.43 L527.8,214.41 L528.08,214.38 L528.36,214.36 L528.64,214.35 L528.92,214.34 L529.21,214.33 L529.4,214.33 L529.49,214.33 L529.77,214.33 L530.05,214.33 L530.34,214.32 L530.62,214.32 L530.9,214.31 L531.18,214.31 L531.47,214.3 L531.75,214.29 L532.03,214.28 L532.31,214.27 L532.6,214.26 L532.88,214.25 L533.16,214.23 L533.44,214.22 L533.72,214.2 L534.01,214.19 L534.29,214.17 L534.57,214.15 L534.85,214.14 L535.14,214.12 L535.42,214.1 L535.7,214.08 L535.98,214.06 L536.27,214.04 L536.55,214.02 L536.83,214 L537.11,213.98 L537.39,213.96 L537.68,213.94 L537.96,213.92 L538.24,213.91 L538.52,213.89 L538.81,213.87 L539.09,213.85 L539.37,213.83 L539.65,213.82 L539.94,213.8 L540.22,213.78 L540.5,213.77 L540.78,213.76 L541.07,213.74 L541.35,213.73 L541.63,213.72 L541.91,213.71 L542.19,213.7 L542.48,213.69 L542.76,213.68 L543.04,213.68 L543.32,213.67 L543.61,213.67 L543.89,213.67 L544.17,213.67 L544.4,213.66 L544.45,213.66 L544.74,213.67 L545.02,213.67 L545.3,213.67 L545.58,213.68 L545.87,213.69 L546.15,213.69 L546.43,213.7 L546.71,213.71 L546.99,213.73 L547.28,213.74 L547.56,213.76 L547.84,213.77 L548.12,213.79 L548.41,213.81 L548.69,213.83 L548.97,213.85 L549.25,213.87 L549.54,213.89 L549.82,213.91 L550.1,213.93 L550.38,213.95 L550.67,213.98 L550.95,214 L551.23,214.02 L551.51,214.04 L551.79,214.06 L552.08,214.09 L552.36,214.11 L552.64,214.13 L552.92,214.15 L553.21,214.17 L553.49,214.19 L553.77,214.21 L554.05,214.22 L554.34,214.24 L554.62,214.25 L554.9,214.27 L555.18,214.28 L555.47,214.29 L555.75,214.3 L556.03,214.31 L556.31,214.32 L556.59,214.32 L556.88,214.33 L557.16,214.33 L557.44,214.33 L557.5,214.33 L557.72,214.33 L558.01,214.33 L558.29,214.34 L558.57,214.34 L558.85,214.35 L559.14,214.35 L559.42,214.36 L559.7,214.37 L559.98,214.38 L560.27,214.4 L560.55,214.41 L560.83,214.42 L561.11,214.44 L561.39,214.45 L561.68,214.47 L561.96,214.49 L562.24,214.51 L562.52,214.52 L562.81,214.54 L563.09,214.56 L563.37,214.58 L563.65,214.6 L563.94,214.61 L564.22,214.63 L564.5,214.65 L564.78,214.66 L565.07,214.68 L565.35,214.7 L565.63,214.71 L565.91,214.72 L566.19,214.74 L566.48,214.75 L566.76,214.76 L567.04,214.77 L567.32,214.77 L567.61,214.78 L567.89,214.79 L568.17,214.79 L568.45,214.79 L568.74,214.79 L568.75,214.79 L569.02,214.79 L569.3,214.79 L569.58,214.79 L569.87,214.79 L570.15,214.79 L570.43,214.8 L570.71,214.8 L570.99,214.8 L571.28,214.8 L571.56,214.8 L571.84,214.8 L572.12,214.8 L572.41,214.81 L572.69,214.81 L572.97,214.81 L573.25,214.81 L573.54,214.82 L573.82,214.82 L574.1,214.82 L574.38,214.83 L574.67,214.83 L574.95,214.83 L575.23,214.84 L575.51,214.84 L575.79,214.84 L576.08,214.85 L576.36,214.85 L576.64,214.86 L576.92,214.86 L577.21,214.86 L577.49,214.87 L577.77,214.87 L578.05,214.88 L578.34,214.88 L578.62,214.89 L578.9,214.89 L579.18,214.9 L579.47,214.9 L579.75,214.91 L580.03,214.91 L580.31,214.92 L580.59,214.92 L580.88,214.93 L581.16,214.93 L581.44,214.94 L581.72,214.94 L582.01,214.95 L582.29,214.95 L582.57,214.96 L582.85,214.96 L583.14,214.97 L583.42,214.97 L583.7,214.98 L583.98,214.98 L584.27,214.99 L584.55,214.99 L584.83,215 L585.11,215 L585.39,215.01 L585.68,215.01 L585.96,215.02 L586.24,215.02 L586.52,215.03 L586.81,215.03 L587.09,215.04 L587.37,215.04 L587.65,215.04 L587.94,215.05 L588.22,215.05 L588.5,215.06 L588.78,215.06 L589.07,215.06 L589.35,215.07 L589.63,215.07 L589.91,215.07 L590.19,215.08 L590.48,215.08 L590.76,215.08 L591.04,215.08 L591.32,215.09 L591.61,215.09 L591.89,215.09 L592.17,215.09 L592.45,215.09 L592.74,215.09 L593.02,215.1 L593.3,215.1 L593.58,215.1 L593.86,215.1 L594.15,215.1 L594.43,215.1 L594.71,215.1 L594.99,215.1 L595,215.1 L595.28,215.1 L595.56,215.1 L595.84,215.1 L596.12,215.1 L596.41,215.1 L596.69,215.1 L596.97,215.09 L597.25,215.09 L597.54,215.09 L597.82,215.09 L598.1,215.09 L598.38,215.08 L598.66,215.08 L598.95,215.08 L599.23,215.08 L599.51,215.07 L599.79,215.07 L600.08,215.07 L600.36,215.06 L600.64,215.06 L600.92,215.05 L601.21,215.05 L601.49,215.05 L601.77,215.04 L602.05,215.04 L602.34,215.03 L602.62,215.03 L602.9,215.02 L603.18,215.02 L603.46,215.01 L603.75,215.01 L604.03,215 L604.31,215 L604.59,214.99 L604.88,214.99 L605.16,214.98 L605.44,214.98 L605.72,214.97 L606.01,214.97 L606.29,214.97 L606.57,214.96 L606.85,214.96 L607.14,214.95 L607.42,214.95 L607.7,214.94 L607.98,214.94 L608.26,214.94 L608.55,214.93 L608.83,214.93 L609.11,214.92 L609.39,214.92 L609.68,214.92 L609.96,214.91 L610.24,214.91 L610.52,214.91 L610.81,214.91 L611.09,214.9 L611.37,214.9 L611.65,214.9 L611.94,214.9 L612.22,214.9 L612.5,214.9 L612.78,214.9 L613.06,214.9 L613.35,214.9 L613.63,214.89 L613.75,214.89 L613.91,214.89 L614.19,214.89 L614.48,214.89 L614.76,214.89 L615.04,214.89 L615.32,214.89 L615.61,214.89 L615.89,214.89 L616.17,214.89 L616.45,214.89 L616.74,214.89 L617.02,214.89 L617.3,214.89 L617.58,214.89 L617.86,214.89 L618.15,214.89 L618.43,214.89 L618.71,214.89 L618.99,214.89 L619.28,214.89 L619.56,214.89 L619.84,214.89 L620.12,214.89 L620.41,214.89 L620.69,214.89 L620.97,214.89 L621.25,214.89 L621.54,214.89 L621.82,214.89 L622.1,214.89 L622.38,214.89 L622.66,214.89 L622.95,214.89 L623.23,214.89 L623.51,214.89 L623.79,214.89 L624.08,214.89 L624.36,214.89 L624.64,214.89 L624.92,214.89 L625.21,214.89 L625.49,214.89 L625.77,214.89 L626.05,214.89 L626.34,214.89 L626.62,214.89 L626.9,214.89 L627.18,214.89 L627.46,214.89 L627.75,214.89 L628.03,214.89 L628.31,214.89 L628.59,214.89 L628.88,214.89 L629.16,214.89 L629.44,214.89 L629.72,214.89 L630.01,214.89 L630.29,214.89" stroke="#d95f02" stroke-width="1.3" fill="none" stroke-linejoin="round" clip-path="url(#c2)"/>
<path d="M52.6,216.73 L52.88,216.78 L53.16,216.83 L53.45,216.69 L53.73,216.56 L54.01,216.71 L54.2,216.82 L54.29,216.87 L54.58,216.74 L54.86,216.61 L55.14,216.64 L55.42,216.68 L55.71,216.74 L55.99,216.81 L56.27,216.67 L56.55,216.52 L56.84,216.63 L57.12,216.74 L57.4,216.61 L57.68,216.48 L57.96,216.56 L58.25,216.65 L58.53,216.63 L58.81,216.61 L59.09,216.52 L59.38,216.42 L59.4,216.41 L59.66,216.31 L59.94,216.21 L60.22,216.41 L60.51,216.61 L60.79,216.6 L61.07,216.59 L61.35,216.5 L61.64,216.41 L61.92,216.34 L62.2,216.28 L62.48,216.4 L62.76,216.53 L63.05,216.6 L63.33,216.67 L63.61,216.54 L63.89,216.4 L64.18,216.68 L64.46,216.94 L64.74,216.74 L65.02,216.53 L65.31,216.69 L65.59,216.85 L65.87,216.89 L65.9,216.9 L66.15,216.93 L66.44,216.92 L66.72,216.91 L67,216.82 L67.28,216.73 L67.56,216.54 L67.85,216.35 L68.13,216.47 L68.41,216.59 L68.69,216.43 L68.98,216.27 L69.26,216.21 L69.54,216.15 L69.82,216.19 L70.11,216.24 L70.39,216.18 L70.6,216.14 L70.67,216.13 L70.95,216.26 L71.24,216.38 L71.52,216.36 L71.8,216.34 L72.08,216.27 L72.36,216.2 L72.65,216.04 L72.93,215.87 L73.21,215.9 L73.49,215.92 L73.78,215.91 L74.06,215.9 L74.34,215.78 L74.62,215.67 L74.91,215.67 L75.19,215.67 L75.47,215.69 L75.75,215.7 L76.04,215.55 L76.32,215.41 L76.6,215.43 L76.7,215.44 L76.88,215.46 L77.16,215.59 L77.45,215.74 L77.73,215.68 L78.01,215.62 L78.29,215.68 L78.58,215.75 L78.86,215.71 L79.14,215.67 L79.42,215.77 L79.71,215.87 L79.99,216.04 L80.27,216.21 L80.55,216.07 L80.84,215.92 L81.12,216.19 L81.4,216.45 L81.68,216.38 L81.9,216.32 L81.96,216.3 L82.25,216.2 L82.53,216.1 L82.81,216.25 L83.09,216.4 L83.38,216.29 L83.66,216.18 L83.94,216.28 L84.22,216.38 L84.51,216.19 L84.79,216 L85.07,215.97 L85.35,215.93 L85.6,215.98 L85.63,215.98 L85.92,216.01 L86.2,215.86 L86.48,215.67 L86.76,215.7 L87.05,215.72 L87.33,215.48 L87.61,215.26 L87.89,215.19 L88.18,215.16 L88.4,215.15 L88.46,215.16 L88.74,215.17 L89.02,215.22 L89.31,215.28 L89.59,215.21 L89.87,215.14 L90.15,215.15 L90.43,215.15 L90.72,215.3 L91,215.44 L91.2,215.41 L91.28,215.39 L91.56,215.3 L91.85,215.38 L92.13,215.44 L92.41,215.15 L92.69,214.89 L92.98,214.86 L93.1,214.86 L93.26,214.87 L93.54,214.8 L93.82,214.76 L94.11,214.88 L94.39,215.02 L94.67,215.27 L94.95,215.53 L95.23,215.62 L95.52,215.7 L95.8,215.72 L96.08,215.72 L96.36,215.96 L96.65,216.17 L96.9,216.07 L96.93,216.06 L97.21,215.94 L97.49,216.03 L97.78,216.13 L98.06,216.16 L98.34,216.19 L98.62,216.23 L98.91,216.27 L99.19,216.1 L99.47,215.93 L99.75,216.13 L100.03,216.32 L100.32,216.31 L100.6,216.28 L100.88,216.25 L101.1,216.22 L101.16,216.21 L101.45,216.05 L101.73,215.85 L102.01,215.96 L102.29,216.03 L102.58,215.78 L102.86,215.52 L103.14,215.33 L103.42,215.16 L103.71,214.96 L103.99,214.78 L104.27,214.76 L104.4,214.76 L104.55,214.77 L104.83,214.74 L105.12,214.7 L105.4,214.82 L105.68,214.92 L105.96,214.83 L106.25,214.72 L106.53,214.67 L106.81,214.62 L107.09,214.41 L107.38,214.22 L107.66,214.15 L107.94,214.1 L108.22,214.3 L108.4,214.44 L108.51,214.52 L108.79,214.53 L109.07,214.54 L109.35,214.56 L109.63,214.59 L109.92,214.64 L110.2,214.71 L110.48,214.71 L110.76,214.72 L111.05,214.78 L111.33,214.85 L111.61,215.03 L111.89,215.22 L112.18,215.4 L112.46,215.57 L112.74,215.56 L113.02,215.55 L113.31,215.66 L113.59,215.77 L113.87,215.81 L114.15,215.83 L114.43,215.8 L114.72,215.76 L115,215.89 L115.28,216 L115.56,216.09 L115.85,216.16 L116.13,216.14 L116.25,216.13 L116.41,216.11 L116.69,216.05 L116.98,215.97 L117.26,216.03 L117.54,216.08 L117.82,215.71 L118.11,215.33 L118.39,215.21 L118.67,215.1 L118.95,214.95 L119.23,214.82 L119.52,214.76 L119.8,214.74 L120,214.81 L120.08,214.84 L120.36,214.94 L120.65,214.92 L120.93,214.89 L121.21,214.94 L121.49,214.97 L121.78,214.78 L122.06,214.57 L122.34,214.67 L122.62,214.76 L122.91,214.7 L123.19,214.64 L123.47,214.55 L123.75,214.46 L124.03,214.43 L124.32,214.41 L124.6,214.33 L124.88,214.27 M57.12,227.34 L57.4,227.22 L57.68,227.09 L57.96,227.17 L58.25,227.25 L58.53,227.23 L58.81,227.22 L59.09,227.12 L59.38,227.03 L59.4,227.02 L59.66,226.92 L59.94,226.82 L60.22,227.02 L60.51,227.22 L60.79,227.21 L61.07,227.19 L61.35,227.1 L61.64,227.01 L61.92,226.95 L62.2,226.89 L62.48,227.01 L62.76,227.14 L63.05,227.21 L63.33,227.28 L63.61,227.15 L63.89,227.01 L64.18,227.28 L64.46,227.55 L64.74,227.35 L65.02,227.14 L65.31,227.3 L65.59,227.46 L65.87,227.5 L65.9,227.51 L66.15,227.54 L66.44,227.53 L66.72,227.51 L67,227.43 L67.28,227.34 L67.56,227.15 L67.85,226.96 L68.13,227.08 L68.41,227.2 L68.69,227.03 L68.98,226.87 L69.26,226.81 L69.54,226.76 L69.82,226.8 L70.11,226.85 L70.39,226.79 L70.6,226.75 L70.67,226.74 L70.95,226.86 L71.24,226.99 L71.52,226.97 L71.8,226.95 L72.08,226.88 L72.36,226.81 L72.65,226.64 L72.93,226.48 L73.21,226.5 L73.49,226.53 L73.78,226.52 L74.06,226.5 L74.34,226.39 L74.62,226.28 L74.91,226.28 L75.19,226.28 L75.47,226.29 L75.75,226.31 L76.04,226.16 L76.32,226.01 L76.6,226.04 L76.7,226.04 L76.88,226.06 L77.16,226.2 L77.45,226.34 L77.73,226.28 L78.01,226.23 L78.29,226.29 L78.58,226.35 L78.86,226.31 L79.14,226.28 L79.42,226.38 L79.71,226.47 L79.99,226.65 L80.27,226.82 L80.55,226.68 L80.84,226.53 L81.12,226.8 L81.4,227.05 L81.68,226.98 L81.9,226.92 L81.96,226.91 L82.25,226.81 L82.53,226.71 L82.81,226.86 L83.09,227.01 L83.38,226.9 L83.66,226.78 L83.94,226.88 L84.22,226.99 L84.51,226.8 L84.79,226.61 L85.07,226.57 L85.35,226.54 L85.6,226.58 L85.63,226.59 L85.92,226.61 L86.2,226.46 L86.48,226.28 L86.76,226.31 L87.05,226.32 L87.33,226.09 L87.61,225.86 L87.89,225.8 L88.18,225.77 L88.4,225.76 L88.46,225.76 L88.74,225.77 L89.02,225.83 L89.31,225.89 L89.59,225.82 L89.87,225.75 L90.15,225.76 L90.43,225.76 L90.72,225.91 L91,226.05 L91.2,226.02 L91.28,226 L91.56,225.91 L91.85,225.99 L92.13,226.04 L92.41,225.76 L92.69,225.5 L92.98,225.46 L93.1,225.47 L93.26,225.48 L93.54,225.41 L93.82,225.37 L94.11,225.49 L94.39,225.63 L94.67,225.88 L94.95,226.14 L95.23,226.22 L95.52,226.3 L95.8,226.32 L96.08,226.33 L96.36,226.56 L96.65,226.78 L96.9,226.68 L96.93,226.67 L97.21,226.55 L97.49,226.64 L97.78,226.73 L98.06,226.76 L98.34,226.8 L98.62,226.84 L98.91,226.88 L99.19,226.71 L99.47,226.54 L99.75,226.74 L100.03,226.93 L100.32,226.91 L100.6,226.89 L100.88,226.86 L101.1,226.83 L101.16,226.82 L101.45,226.66 L101.73,226.46 L102.01,226.56 L102.29,226.64 L102.58,226.39 L102.86,226.12 L103.14,225.94 L103.42,225.77 L103.71,225.56 L103.99,225.39 L104.27,225.37 L104.4,225.37 L104.55,225.38 L104.83,225.35 L105.12,225.31 L105.4,225.42 L105.68,225.53 L105.96,225.43 L106.25,225.33 L106.53,225.28 L106.81,225.23 L107.09,225.02 L107.38,224.82 L107.66,224.76 L107.94,224.71 L108.22,224.91 L108.4,225.05 L108.51,225.13 L108.79,225.13 L109.07,225.15 L109.35,225.17 L109.63,225.19 L109.92,225.25 L110.2,225.31 L110.48,225.32 L110.76,225.33 L111.05,225.39 L111.33,225.45 L111.61,225.64 L111.89,225.83 L112.18,226.01 L112.46,226.18 L112.74,226.17 L113.02,226.16 L113.31,226.27 L113.59,226.38 L113.87,226.41 L114.15,226.44 L114.43,226.41 L114.72,226.37 L115,226.5 L115.28,226.61 L115.56,226.69 L115.85,226.76 L116.13,226.75 L116.25,226.74 L116.41,226.71 L116.69,226.66 L116.98,226.57 L117.26,226.64 L117.54,226.69 L117.82,226.32 L118.11,225.94 L118.39,225.82 L118.67,225.71 L118.95,225.56 L119.23,225.43 L119.52,225.37 L119.8,225.35 L120,225.42 L120.08,225.45 L120.36,225.55 L120.65,225.53 L120.93,225.5 L121.21,225.54 L121.49,225.58 L121.78,225.38 L122.06,225.18 L122.34,225.28 L122.62,225.37 L122.91,225.31 L123.19,225.25 L123.47,225.15 L123.75,225.07 L124.03,225.04 L124.32,225.01 L124.6,224.94 L124.88,224.88 L125.15,224.95 L125.16,224.95 L125.45,225.04 L125.73,225.09 L126.01,225.15 L126.29,225.18 L126.58,225.23 L126.86,225.35 L127.14,225.48 L127.42,225.55 L127.71,225.62 L127.99,225.86 L128.27,226.12 L128.55,226.05 L128.83,225.98 L129.12,226.21 L129.4,226.44 M61.64,237.62 L61.92,237.56 L62.2,237.49 L62.48,237.62 L62.76,237.74 L63.05,237.82 L63.33,237.89 L63.61,237.75 L63.89,237.62 L64.18,237.89 L64.46,238.16 L64.74,237.95 L65.02,237.74 L65.31,237.91 L65.59,238.07 L65.87,238.11 L65.9,238.11 L66.15,238.14 L66.44,238.14 L66.72,238.12 L67,238.04 L67.28,237.94 L67.56,237.76 L67.85,237.57 L68.13,237.69 L68.41,237.8 L68.69,237.64 L68.98,237.48 L69.26,237.42 L69.54,237.37 L69.82,237.41 L70.11,237.46 L70.39,237.4 L70.6,237.36 L70.67,237.34 L70.95,237.47 L71.24,237.59 L71.52,237.58 L71.8,237.56 L72.08,237.49 L72.36,237.42 L72.65,237.25 L72.93,237.08 L73.21,237.11 L73.49,237.14 L73.78,237.12 L74.06,237.11 L74.34,237 L74.62,236.88 L74.91,236.88 L75.19,236.89 L75.47,236.9 L75.75,236.92 L76.04,236.77 L76.32,236.62 L76.6,236.64 L76.7,236.65 L76.88,236.67 L77.16,236.81 L77.45,236.95 L77.73,236.89 L78.01,236.84 L78.29,236.9 L78.58,236.96 L78.86,236.92 L79.14,236.88 L79.42,236.98 L79.71,237.08 L79.99,237.26 L80.27,237.43 L80.55,237.29 L80.84,237.14 L81.12,237.4 L81.4,237.66 L81.68,237.59 L81.9,237.53 L81.96,237.51 L82.25,237.42 L82.53,237.32 L82.81,237.47 L83.09,237.62 L83.38,237.5 L83.66,237.39 L83.94,237.49 L84.22,237.59 L84.51,237.4 L84.79,237.22 L85.07,237.18 L85.35,237.15 L85.6,237.19 L85.63,237.2 L85.92,237.22 L86.2,237.07 L86.48,236.89 L86.76,236.92 L87.05,236.93 L87.33,236.69 L87.61,236.47 L87.89,236.41 L88.18,236.38 L88.4,236.37 L88.46,236.37 L88.74,236.38 L89.02,236.43 L89.31,236.5 L89.59,236.42 L89.87,236.36 L90.15,236.36 L90.43,236.37 L90.72,236.52 L91,236.66 L91.2,236.63 L91.28,236.61 L91.56,236.52 L91.85,236.6 L92.13,236.65 L92.41,236.37 L92.69,236.1 L92.98,236.07 L93.1,236.07 L93.26,236.09 L93.54,236.02 L93.82,235.98 L94.11,236.1 L94.39,236.24 L94.67,236.49 L94.95,236.75 L95.23,236.83 L95.52,236.91 L95.8,236.93 L96.08,236.94 L96.36,237.17 L96.65,237.38 L96.9,237.29 L96.93,237.28 L97.21,237.16 L97.49,237.25 L97.78,237.34 L98.06,237.37 L98.34,237.41 L98.62,237.44 L98.91,237.48 L99.19,237.32 L99.47,237.15 L99.75,237.34 L100.03,237.54 L100.32,237.52 L100.6,237.5 L100.88,237.47 L101.1,237.44 L101.16,237.43 L101.45,237.27 L101.73,237.06 L102.01,237.17 L102.29,237.25 L102.58,236.99 L102.86,236.73 L103.14,236.55 L103.42,236.38 L103.71,236.17 L103.99,236 L104.27,235.97 L104.4,235.98 L104.55,235.99 L104.83,235.96 L105.12,235.92 L105.4,236.03 L105.68,236.14 L105.96,236.04 L106.25,235.94 L106.53,235.88 L106.81,235.83 L107.09,235.63 L107.38,235.43 L107.66,235.37 L107.94,235.32 L108.22,235.52 L108.4,235.65 L108.51,235.74 L108.79,235.74 L109.07,235.75 L109.35,235.77 L109.63,235.8 L109.92,235.86 L110.2,235.92 L110.48,235.92 L110.76,235.94 L111.05,236 L111.33,236.06 L111.61,236.25 L111.89,236.44 L112.18,236.61 L112.46,236.79 L112.74,236.78 L113.02,236.77 L113.31,236.88 L113.59,236.99 L113.87,237.02 L114.15,237.05 L114.43,237.02 L114.72,236.98 L115,237.1 L115.28,237.22 L115.56,237.3 L115.85,237.37 L116.13,237.35 L116.25,237.34 L116.41,237.32 L116.69,237.27 L116.98,237.18 L117.26,237.25 L117.54,237.29 L117.82,236.92 L118.11,236.54 L118.39,236.43 L118.67,236.32 L118.95,236.16 L119.23,236.03 L119.52,235.98 L119.8,235.96 L120,236.03 L120.08,236.06 L120.36,236.16 L120.65,236.14 L120.93,236.11 L121.21,236.15 L121.49,236.19 L121.78,235.99 L122.06,235.79 L122.34,235.88 L122.62,235.98 L122.91,235.92 L123.19,235.86 L123.47,235.76 L123.75,235.67 L124.03,235.64 L124.32,235.62 L124.6,235.55 L124.88,235.48 L125.15,235.55 L125.16,235.56 L125.45,235.65 L125.73,235.69 L126.01,235.76 L126.29,235.79 L126.58,235.84 L126.86,235.96 L127.14,236.09 L127.42,236.15 L127.71,236.23 L127.99,236.47 L128.27,236.72 L128.55,236.65 L128.83,236.59 L129.12,236.82 L129.4,237.05 L129.68,237.33 L129.96,237.6 L130.25,237.7 L130.53,237.79 L130.81,237.87 L131.09,237.93 L131.38,238 L131.66,238.04 L131.94,238.14 L132.2,238.21 L132.22,238.21 L132.51,237.98 L132.79,237.69 L133.07,237.5 L133.35,237.26 L133.63,237.18 L133.92,237.07 M66.15,248.75 L66.44,248.74 L66.72,248.73 L67,248.64 L67.28,248.55 L67.56,248.37 L67.85,248.18 L68.13,248.29 L68.41,248.41 L68.69,248.25 L68.98,248.09 L69.26,248.03 L69.54,247.97 L69.82,248.01 L70.11,248.06 L70.39,248 L70.6,247.96 L70.67,247.95 L70.95,248.08 L71.24,248.2 L71.52,248.18 L71.8,248.16 L72.08,248.1 L72.36,248.02 L72.65,247.86 L72.93,247.69 L73.21,247.72 L73.49,247.74 L73.78,247.73 L74.06,247.72 L74.34,247.6 L74.62,247.49 L74.91,247.49 L75.19,247.49 L75.47,247.51 L75.75,247.53 L76.04,247.38 L76.32,247.23 L76.6,247.25 L76.7,247.26 L76.88,247.28 L77.16,247.41 L77.45,247.56 L77.73,247.5 L78.01,247.45 L78.29,247.5 L78.58,247.57 L78.86,247.53 L79.14,247.49 L79.42,247.59 L79.71,247.69 L79.99,247.86 L80.27,248.04 L80.55,247.89 L80.84,247.75 L81.12,248.01 L81.4,248.27 L81.68,248.2 L81.9,248.14 L81.96,248.12 L82.25,248.02 L82.53,247.92 L82.81,248.07 L83.09,248.22 L83.38,248.11 L83.66,248 L83.94,248.1 L84.22,248.2 L84.51,248.01 L84.79,247.83 L85.07,247.79 L85.35,247.75 L85.6,247.8 L85.63,247.8 L85.92,247.83 L86.2,247.68 L86.48,247.5 L86.76,247.52 L87.05,247.54 L87.33,247.3 L87.61,247.08 L87.89,247.01 L88.18,246.99 L88.4,246.98 L88.46,246.98 L88.74,246.99 L89.02,247.04 L89.31,247.1 L89.59,247.03 L89.87,246.96 L90.15,246.97 L90.43,246.97 L90.72,247.13 L91,247.27 L91.2,247.23 L91.28,247.22 L91.56,247.12 L91.85,247.2 L92.13,247.26 L92.41,246.97 L92.69,246.71 L92.98,246.68 L93.1,246.68 L93.26,246.69 L93.54,246.63 L93.82,246.58 L94.11,246.71 L94.39,246.84 L94.67,247.1 L94.95,247.35 L95.23,247.44 L95.52,247.52 L95.8,247.54 L96.08,247.54 L96.36,247.78 L96.65,247.99 L96.9,247.89 L96.93,247.88 L97.21,247.77 L97.49,247.85 L97.78,247.95 L98.06,247.98 L98.34,248.01 L98.62,248.05 L98.91,248.09 L99.19,247.92 L99.47,247.76 L99.75,247.95 L100.03,248.14 L100.32,248.13 L100.6,248.11 L100.88,248.07 L101.1,248.05 L101.16,248.04 L101.45,247.87 L101.73,247.67 L102.01,247.78 L102.29,247.86 L102.58,247.6 L102.86,247.34 L103.14,247.15 L103.42,246.98 L103.71,246.78 L103.99,246.61 L104.27,246.58 L104.4,246.59 L104.55,246.59 L104.83,246.56 L105.12,246.52 L105.4,246.64 L105.68,246.75 L105.96,246.65 L106.25,246.54 L106.53,246.49 L106.81,246.44 L107.09,246.24 L107.38,246.04 L107.66,245.98 L107.94,245.92 L108.22,246.13 L108.4,246.26 L108.51,246.34 L108.79,246.35 L109.07,246.36 L109.35,246.38 L109.63,246.41 L109.92,246.46 L110.2,246.53 L110.48,246.53 L110.76,246.54 L111.05,246.6 L111.33,246.67 L111.61,246.86 L111.89,247.05 L112.18,247.22 L112.46,247.39 L112.74,247.39 L113.02,247.37 L113.31,247.49 L113.59,247.59 L113.87,247.63 L114.15,247.66 L114.43,247.62 L114.72,247.58 L115,247.71 L115.28,247.83 L115.56,247.91 L115.85,247.98 L116.13,247.96 L116.25,247.95 L116.41,247.93 L116.69,247.88 L116.98,247.79 L117.26,247.86 L117.54,247.9 L117.82,247.53 L118.11,247.15 L118.39,247.03 L118.67,246.92 L118.95,246.77 L119.23,246.64 L119.52,246.59 L119.8,246.56 L120,246.63 L120.08,246.67 L120.36,246.77 L120.65,246.75 L120.93,246.72 L121.21,246.76 L121.49,246.79 L121.78,246.6 L122.06,246.4 L122.34,246.49 L122.62,246.59 L122.91,246.52 L123.19,246.46 L123.47,246.37 L123.75,246.28 L124.03,246.25 L124.32,246.23 L124.6,246.15 L124.88,246.09 L125.15,246.16 L125.16,246.16 L125.45,246.25 L125.73,246.3 L126.01,246.37 L126.29,246.4 L126.58,246.44 L126.86,246.56 L127.14,246.7 L127.42,246.76 L127.71,246.83 L127.99,247.08 L128.27,247.33 L128.55,247.26 L128.83,247.2 L129.12,247.43 L129.4,247.66 L129.68,247.94 L129.96,248.21 L130.25,248.31 L130.53,248.4 L130.81,248.48 L131.09,248.54 L131.38,248.6 L131.66,248.65 L131.94,248.74 L132.2,248.81 L132.22,248.82 L132.51,248.59 L132.79,248.29 L133.07,248.1 L133.35,247.87 L133.63,247.78 L133.92,247.68 L134.2,247.41 L134.48,247.16 L134.76,247.04 L135.05,246.96 L135.33,246.81 L135.61,246.71 L135.89,246.61 L135.9,246.61 L136.18,246.54 L136.46,246.55 L136.74,246.54 L137.02,246.35 L137.31,246.16 L137.59,246.28 L137.87,246.4 L138.15,246.38 L138.43,246.34 M70.67,258.56 L70.95,258.69 L71.24,258.81 L71.52,258.79 L71.8,258.77 L72.08,258.7 L72.36,258.63 L72.65,258.47 L72.93,258.3 L73.21,258.33 L73.49,258.35 L73.78,258.34 L74.06,258.33 L74.34,258.21 L74.62,258.1 L74.91,258.1 L75.19,258.1 L75.47,258.12 L75.75,258.13 L76.04,257.98 L76.32,257.84 L76.6,257.86 L76.7,257.87 L76.88,257.88 L77.16,258.02 L77.45,258.16 L77.73,258.11 L78.01,258.05 L78.29,258.11 L78.58,258.18 L78.86,258.14 L79.14,258.1 L79.42,258.2 L79.71,258.3 L79.99,258.47 L80.27,258.64 L80.55,258.5 L80.84,258.35 L81.12,258.62 L81.4,258.87 L81.68,258.81 L81.9,258.75 L81.96,258.73 L82.25,258.63 L82.53,258.53 L82.81,258.68 L83.09,258.83 L83.38,258.72 L83.66,258.61 L83.94,258.71 L84.22,258.81 L84.51,258.62 L84.79,258.43 L85.07,258.39 L85.35,258.36 L85.6,258.41 L85.63,258.41 L85.92,258.44 L86.2,258.29 L86.48,258.1 L86.76,258.13 L87.05,258.15 L87.33,257.91 L87.61,257.69 L87.89,257.62 L88.18,257.59 L88.4,257.58 L88.46,257.58 L88.74,257.6 L89.02,257.65 L89.31,257.71 L89.59,257.64 L89.87,257.57 L90.15,257.58 L90.43,257.58 L90.72,257.73 L91,257.87 L91.2,257.84 L91.28,257.82 L91.56,257.73 L91.85,257.81 L92.13,257.87 L92.41,257.58 L92.69,257.32 L92.98,257.29 L93.1,257.29 L93.26,257.3 L93.54,257.23 L93.82,257.19 L94.11,257.31 L94.39,257.45 L94.67,257.7 L94.95,257.96 L95.23,258.05 L95.52,258.13 L95.8,258.15 L96.08,258.15 L96.36,258.39 L96.65,258.6 L96.9,258.5 L96.93,258.49 L97.21,258.37 L97.49,258.46 L97.78,258.55 L98.06,258.59 L98.34,258.62 L98.62,258.66 L98.91,258.7 L99.19,258.53 L99.47,258.36 L99.75,258.56 L100.03,258.75 L100.32,258.74 L100.6,258.71 L100.88,258.68 L101.1,258.65 L101.16,258.64 L101.45,258.48 L101.73,258.28 L102.01,258.38 L102.29,258.46 L102.58,258.21 L102.86,257.95 L103.14,257.76 L103.42,257.59 L103.71,257.39 L103.99,257.21 L104.27,257.19 L104.4,257.19 L104.55,257.2 L104.83,257.17 L105.12,257.13 L105.4,257.25 L105.68,257.35 L105.96,257.25 L106.25,257.15 L106.53,257.1 L106.81,257.05 L107.09,256.84 L107.38,256.65 L107.66,256.58 L107.94,256.53 L108.22,256.73 L108.4,256.87 L108.51,256.95 L108.79,256.95 L109.07,256.97 L109.35,256.99 L109.63,257.02 L109.92,257.07 L110.2,257.13 L110.48,257.14 L110.76,257.15 L111.05,257.21 L111.33,257.28 L111.61,257.46 L111.89,257.65 L112.18,257.83 L112.46,258 L112.74,257.99 L113.02,257.98 L113.31,258.09 L113.59,258.2 L113.87,258.24 L114.15,258.26 L114.43,258.23 L114.72,258.19 L115,258.32 L115.28,258.43 L115.56,258.52 L115.85,258.59 L116.13,258.57 L116.25,258.56 L116.41,258.54 L116.69,258.48 L116.98,258.4 L117.26,258.46 L117.54,258.51 L117.82,258.14 L118.11,257.76 L118.39,257.64 L118.67,257.53 L118.95,257.38 L119.23,257.25 L119.52,257.19 L119.8,257.17 L120,257.24 L120.08,257.27 L120.36,257.37 L120.65,257.35 L120.93,257.32 L121.21,257.37 L121.49,257.4 L121.78,257.21 L122.06,257 L122.34,257.1 L122.62,257.19 L122.91,257.13 L123.19,257.07 L123.47,256.98 L123.75,256.89 L124.03,256.86 L124.32,256.84 L124.6,256.76 L124.88,256.7 L125.15,256.77 L125.16,256.77 L125.45,256.86 L125.73,256.91 L126.01,256.97 L126.29,257 L126.58,257.05 L126.86,257.17 L127.14,257.3 L127.42,257.37 L127.71,257.44 L127.99,257.69 L128.27,257.94 L128.55,257.87 L128.83,257.8 L129.12,258.04 L129.4,258.27 L129.68,258.55 L129.96,258.82 L130.25,258.92 L130.53,259.01 L130.81,259.09 L131.09,259.15 L131.38,259.21 L131.66,259.26 L131.94,259.35 L132.2,259.42 L132.22,259.43 L132.51,259.19 L132.79,258.9 L133.07,258.71 L133.35,258.48 L133.63,258.39 L133.92,258.28 L134.2,258.02 L134.48,257.77 L134.76,257.65 L135.05,257.56 L135.33,257.41 L135.61,257.32 L135.89,257.22 L135.9,257.22 L136.18,257.15 L136.46,257.15 L136.74,257.15 L137.02,256.96 L137.31,256.76 L137.59,256.89 L137.87,257.01 L138.15,256.98 L138.43,256.95 L138.72,256.62 L139,256.29 L139.28,256.33 L139.56,256.36 L139.85,256.39 L140.13,256.42 L140.41,256.24 L140.69,256.07 L140.98,256.15 L141.26,256.25 L141.54,256.07 L141.82,255.9 L142.1,255.76 L142.39,255.63 L142.5,255.64 L142.67,255.67 L142.95,255.76 M75.19,268.71 L75.47,268.72 L75.75,268.74 L76.04,268.59 L76.32,268.44 L76.6,268.46 L76.7,268.47 L76.88,268.49 L77.16,268.63 L77.45,268.77 L77.73,268.71 L78.01,268.66 L78.29,268.72 L78.58,268.78 L78.86,268.74 L79.14,268.71 L79.42,268.81 L79.71,268.9 L79.99,269.08 L80.27,269.25 L80.55,269.11 L80.84,268.96 L81.12,269.23 L81.4,269.48 L81.68,269.41 L81.9,269.35 L81.96,269.33 L82.25,269.24 L82.53,269.14 L82.81,269.29 L83.09,269.44 L83.38,269.33 L83.66,269.21 L83.94,269.31 L84.22,269.42 L84.51,269.23 L84.79,269.04 L85.07,269 L85.35,268.97 L85.6,269.01 L85.63,269.02 L85.92,269.04 L86.2,268.89 L86.48,268.71 L86.76,268.74 L87.05,268.75 L87.33,268.52 L87.61,268.29 L87.89,268.23 L88.18,268.2 L88.4,268.19 L88.46,268.19 L88.74,268.2 L89.02,268.26 L89.31,268.32 L89.59,268.25 L89.87,268.18 L90.15,268.19 L90.43,268.19 L90.72,268.34 L91,268.48 L91.2,268.45 L91.28,268.43 L91.56,268.34 L91.85,268.42 L92.13,268.47 L92.41,268.19 L92.69,267.93 L92.98,267.89 L93.1,267.89 L93.26,267.91 L93.54,267.84 L93.82,267.8 L94.11,267.92 L94.39,268.06 L94.67,268.31 L94.95,268.57 L95.23,268.65 L95.52,268.73 L95.8,268.75 L96.08,268.76 L96.36,268.99 L96.65,269.21 L96.9,269.11 L96.93,269.1 L97.21,268.98 L97.49,269.07 L97.78,269.16 L98.06,269.19 L98.34,269.23 L98.62,269.27 L98.91,269.31 L99.19,269.14 L99.47,268.97 L99.75,269.17 L100.03,269.36 L100.32,269.34 L100.6,269.32 L100.88,269.29 L101.1,269.26 L101.16,269.25 L101.45,269.09 L101.73,268.89 L102.01,268.99 L102.29,269.07 L102.58,268.82 L102.86,268.55 L103.14,268.37 L103.42,268.2 L103.71,267.99 L103.99,267.82 L104.27,267.8 L104.4,267.8 L104.55,267.81 L104.83,267.78 L105.12,267.74 L105.4,267.85 L105.68,267.96 L105.96,267.86 L106.25,267.76 L106.53,267.71 L106.81,267.65 L107.09,267.45 L107.38,267.25 L107.66,267.19 L107.94,267.14 L108.22,267.34 L108.4,267.48 L108.51,267.56 L108.79,267.56 L109.07,267.58 L109.35,267.6 L109.63,267.62 L109.92,267.68 L110.2,267.74 L110.48,267.75 L110.76,267.76 L111.05,267.82 L111.33,267.88 L111.61,268.07 L111.89,268.26 L112.18,268.44 L112.46,268.61 L112.74,268.6 L113.02,268.59 L113.31,268.7 L113.59,268.81 L113.87,268.84 L114.15,268.87 L114.43,268.84 L114.72,268.8 L115,268.93 L115.28,269.04 L115.56,269.12 L115.85,269.19 L116.13,269.18 L116.25,269.17 L116.41,269.14 L116.69,269.09 L116.98,269 L117.26,269.07 L117.54,269.12 L117.82,268.75 L118.11,268.37 L118.39,268.25 L118.67,268.14 L118.95,267.99 L119.23,267.86 L119.52,267.8 L119.8,267.78 L120,267.85 L120.08,267.88 L120.36,267.98 L120.65,267.96 L120.93,267.93 L121.21,267.97 L121.49,268.01 L121.78,267.81 L122.06,267.61 L122.34,267.71 L122.62,267.8 L122.91,267.74 L123.19,267.68 L123.47,267.58 L123.75,267.5 L124.03,267.47 L124.32,267.44 L124.6,267.37 L124.88,267.31 L125.15,267.38 L125.16,267.38 L125.45,267.47 L125.73,267.52 L126.01,267.58 L126.29,267.61 L126.58,267.66 L126.86,267.78 L127.14,267.91 L127.42,267.97 L127.71,268.05 L127.99,268.29 L128.27,268.54 L128.55,268.48 L128.83,268.41 L129.12,268.64 L129.4,268.87 L129.68,269.15 L129.96,269.42 L130.25,269.53 L130.53,269.62 L130.81,269.69 L131.09,269.76 L131.38,269.82 L131.66,269.86 L131.94,269.96 L132.2,270.03 L132.22,270.03 L132.51,269.8 L132.79,269.51 L133.07,269.32 L133.35,269.09 L133.63,269 L133.92,268.89 L134.2,268.63 L134.48,268.38 L134.76,268.26 L135.05,268.17 L135.33,268.02 L135.61,267.92 L135.89,267.83 L135.9,267.83 L136.18,267.76 L136.46,267.76 L136.74,267.76 L137.02,267.57 L137.31,267.37 L137.59,267.5 L137.87,267.62 L138.15,267.59 L138.43,267.56 L138.72,267.23 L139,266.9 L139.28,266.93 L139.56,266.97 L139.85,267 L140.13,267.03 L140.41,266.85 L140.69,266.68 L140.98,266.76 L141.26,266.85 L141.54,266.68 L141.82,266.51 L142.1,266.37 L142.39,266.24 L142.5,266.25 L142.67,266.28 L142.95,266.37 L143.23,266.53 L143.52,266.73 L143.8,267.05 L144.08,267.41 L144.36,267.66 L144.65,267.92 L144.93,268.28 L145.21,268.65 L145.49,268.79 L145.78,268.92 L146.06,269.25 L146.34,269.55 L146.62,269.68 L146.9,269.77 L147.19,270 L147.47,270.17 M79.71,279.51 L79.99,279.69 L80.27,279.86 L80.55,279.72 L80.84,279.57 L81.12,279.83 L81.4,280.09 L81.68,280.02 L81.9,279.96 L81.96,279.94 L82.25,279.85 L82.53,279.75 L82.81,279.9 L83.09,280.04 L83.38,279.93 L83.66,279.82 L83.94,279.92 L84.22,280.02 L84.51,279.83 L84.79,279.65 L85.07,279.61 L85.35,279.58 L85.6,279.62 L85.63,279.63 L85.92,279.65 L86.2,279.5 L86.48,279.32 L86.76,279.35 L87.05,279.36 L87.33,279.12 L87.61,278.9 L87.89,278.84 L88.18,278.81 L88.4,278.8 L88.46,278.8 L88.74,278.81 L89.02,278.86 L89.31,278.93 L89.59,278.85 L89.87,278.79 L90.15,278.79 L90.43,278.8 L90.72,278.95 L91,279.09 L91.2,279.05 L91.28,279.04 L91.56,278.95 L91.85,279.03 L92.13,279.08 L92.41,278.8 L92.69,278.53 L92.98,278.5 L93.1,278.5 L93.26,278.51 L93.54,278.45 L93.82,278.41 L94.11,278.53 L94.39,278.67 L94.67,278.92 L94.95,279.18 L95.23,279.26 L95.52,279.34 L95.8,279.36 L96.08,279.37 L96.36,279.6 L96.65,279.81 L96.9,279.72 L96.93,279.7 L97.21,279.59 L97.49,279.68 L97.78,279.77 L98.06,279.8 L98.34,279.83 L98.62,279.87 L98.91,279.91 L99.19,279.75 L99.47,279.58 L99.75,279.77 L100.03,279.97 L100.32,279.95 L100.6,279.93 L100.88,279.9 L101.1,279.87 L101.16,279.86 L101.45,279.7 L101.73,279.49 L102.01,279.6 L102.29,279.68 L102.58,279.42 L102.86,279.16 L103.14,278.98 L103.42,278.81 L103.71,278.6 L103.99,278.43 L104.27,278.4 L104.4,278.41 L104.55,278.41 L104.83,278.39 L105.12,278.35 L105.4,278.46 L105.68,278.57 L105.96,278.47 L106.25,278.37 L106.53,278.31 L106.81,278.26 L107.09,278.06 L107.38,277.86 L107.66,277.8 L107.94,277.75 L108.22,277.95 L108.4,278.08 L108.51,278.17 L108.79,278.17 L109.07,278.18 L109.35,278.2 L109.63,278.23 L109.92,278.29 L110.2,278.35 L110.48,278.35 L110.76,278.37 L111.05,278.43 L111.33,278.49 L111.61,278.68 L111.89,278.87 L112.18,279.04 L112.46,279.22 L112.74,279.21 L113.02,279.2 L113.31,279.31 L113.59,279.42 L113.87,279.45 L114.15,279.48 L114.43,279.45 L114.72,279.41 L115,279.53 L115.28,279.65 L115.56,279.73 L115.85,279.8 L116.13,279.78 L116.25,279.77 L116.41,279.75 L116.69,279.7 L116.98,279.61 L117.26,279.68 L117.54,279.72 L117.82,279.35 L118.11,278.97 L118.39,278.86 L118.67,278.75 L118.95,278.59 L119.23,278.46 L119.52,278.41 L119.8,278.39 L120,278.46 L120.08,278.49 L120.36,278.59 L120.65,278.57 L120.93,278.54 L121.21,278.58 L121.49,278.62 L121.78,278.42 L122.06,278.22 L122.34,278.31 L122.62,278.41 L122.91,278.35 L123.19,278.28 L123.47,278.19 L123.75,278.1 L124.03,278.07 L124.32,278.05 L124.6,277.98 L124.88,277.91 L125.15,277.98 L125.16,277.99 L125.45,278.08 L125.73,278.12 L126.01,278.19 L126.29,278.22 L126.58,278.27 L126.86,278.39 L127.14,278.52 L127.42,278.58 L127.71,278.66 L127.99,278.9 L128.27,279.15 L128.55,279.08 L128.83,279.02 L129.12,279.25 L129.4,279.48 L129.68,279.76 L129.96,280.03 L130.25,280.13 L130.53,280.22 L130.81,280.3 L131.09,280.36 L131.38,280.43 L131.66,280.47 L131.94,280.57 L132.2,280.64 L132.22,280.64 L132.51,280.41 L132.79,280.12 L133.07,279.93 L133.35,279.69 L133.63,279.61 L133.92,279.5 L134.2,279.24 L134.48,278.98 L134.76,278.86 L135.05,278.78 L135.33,278.63 L135.61,278.53 L135.89,278.43 L135.9,278.43 L136.18,278.36 L136.46,278.37 L136.74,278.36 L137.02,278.18 L137.31,277.98 L137.59,278.11 L137.87,278.23 L138.15,278.2 L138.43,278.16 L138.72,277.84 L139,277.5 L139.28,277.54 L139.56,277.58 L139.85,277.6 L140.13,277.63 L140.41,277.46 L140.69,277.29 L140.98,277.37 L141.26,277.46 L141.54,277.29 L141.82,277.12 L142.1,276.98 L142.39,276.84 L142.5,276.86 L142.67,276.89 L142.95,276.98 L143.23,277.13 L143.52,277.34 L143.8,277.66 L144.08,278.02 L144.36,278.26 L144.65,278.53 L144.93,278.89 L145.21,279.26 L145.49,279.4 L145.78,279.53 L146.06,279.86 L146.34,280.16 L146.62,280.29 L146.9,280.38 L147.19,280.61 L147.47,280.78 L147.6,280.8 L147.75,280.81 L148.03,280.78 L148.32,280.51 L148.6,280.19 L148.88,279.94 L149.16,279.66 L149.45,279.44 L149.73,279.2 L150.01,278.94 L150.29,278.7 L150.58,278.45 L150.86,278.24 L151.14,278.1 L151.42,278 L151.7,278.07 L151.9,278.16 L151.99,278.2 M391.42,214.49 L391.7,214.06 L391.98,213.58 L392.27,213.06 L392.55,212.5 L392.83,211.8 L393.11,211.07 L393.4,210.53 L393.68,209.99 L393.96,209.42 L394.24,208.86 L394.53,208.14 L394.81,207.44 L395.09,206.89 L395.37,206.36 L395.66,205.99 L395.94,205.67 L396.22,205.35 L396.5,205.08 L396.5,205.09 L396.78,206.14 L397.07,207.55 L397.35,209.23 L397.63,210.98 L397.91,212.54 L398.2,213.82 L398.4,214.57 L398.48,214.53 L398.76,214.37 L399.04,214.1 L399.33,213.8 L399.61,213.5 L399.89,213.17 L400.17,212.77 L400.46,212.36 L400.74,211.93 L401.02,211.49 L401.3,211.13 L401.58,210.77 L401.87,210.46 L402.15,210.15 L402.43,209.81 L402.71,209.48 L403,209.15 L403.28,208.85 L403.56,208.63 L403.84,208.44 L404,208.33 L404.13,208.48 L404.41,208.88 L404.69,209.43 L404.97,210.04 L405.26,210.6 L405.54,211.13 L405.82,211.53 L406.1,211.83 L406.3,212.17 L406.38,212.19 L406.67,212.26 L406.95,212.09 L407.23,211.92 L407.51,211.77 L407.8,211.62 L408.08,211.44 L408.36,211.25 L408.64,211.22 L408.93,211.19 L409.21,211.03 L409.49,210.88 L409.77,210.74 L410.06,210.61 L410.34,210.47 L410.62,210.33 L410.9,210.22 L411.18,210.13 L411.3,210.06 L411.47,210.12 L411.75,210.29 L412.03,210.64 L412.31,211.02 L412.6,211.38 L412.88,211.73 L413.16,212.18 L413.44,212.57 L413.5,212.61 L413.73,212.6 L414.01,212.59 L414.29,212.45 L414.57,212.31 L414.86,212.27 L415.14,212.22 L415.42,212.28 L415.7,212.33 L415.98,212.3 L416.27,212.26 L416.55,212.35 L416.83,212.44 L417.11,212.35 L417.4,212.26 L417.68,212.15 L417.96,212.04 L418.24,212.05 L418.5,212.06 L418.53,212.06 L418.81,212.08 L419.09,212.09 L419.37,212.1 L419.66,212.11 L419.94,212.27 L420.22,212.43 L420.5,212.5 L420.78,212.57 L421.07,212.6 L421.35,212.63 L421.63,212.59 L421.91,212.54 L422.2,212.51 L422.2,212.51 L422.48,212.48 L422.76,212.41 L423.04,212.32 L423.33,212.31 L423.61,212.3 L423.89,212.25 L424.17,212.19 L424.45,212.11 L424.74,212.03 L425.02,212.03 L425.3,212.05 L425.58,212.01 L425.87,211.98 L425.9,211.99 L426.15,212.08 L426.43,212.21 L426.71,212.12 L427,212.06 L427.28,212.25 L427.56,212.45 L427.84,212.43 L428.13,212.41 L428.41,212.57 L428.69,212.73 L428.97,212.88 L429.25,213.02 L429.54,213.12 L429.82,213.19 L430.1,213.19 L430.2,213.18 L430.38,213.16 L430.67,213.09 L430.95,213 L431.23,212.97 L431.51,212.93 L431.8,213.01 L432.08,213.08 L432.36,213.06 L432.64,213.03 L432.93,212.92 L433.21,212.81 L433.49,212.78 L433.77,212.75 L434.05,212.77 L434.34,212.8 L434.4,212.81 L434.62,212.84 L434.9,212.9 L435.18,212.87 L435.47,212.86 L435.75,213.05 L436.03,213.23 L436.31,213.27 L436.6,213.3 L436.88,213.35 L437.16,213.39 L437.44,213.35 L437.73,213.3 L438.01,213.37 L438.1,213.39 L438.29,213.43 L438.57,213.38 L438.85,213.31 L439.14,213.36 L439.42,213.4 L439.7,213.4 L439.98,213.4 L440.27,213.36 L440.55,213.32 L440.83,213.15 L441.11,212.99 L441.4,213.02 L441.68,213.05 L441.9,213.11 L441.96,213.12 L442.24,213.2 L442.53,213.27 L442.81,213.34 L443.09,213.29 L443.37,213.24 L443.65,213.25 L443.94,213.27 L444.22,213.37 L444.5,213.48 L444.78,213.56 L445.07,213.65 L445.35,213.63 L445.63,213.61 L445.91,213.61 L446.2,213.61 L446.48,213.77 L446.76,213.92 L447.04,213.98 L447.33,214.02 L447.5,213.99 L447.61,213.97 L447.89,213.9 L448.17,213.85 L448.45,213.79 L448.74,213.69 L449.02,213.58 L449.3,213.6 L449.58,213.63 L449.87,213.46 L450.15,213.31 L450.43,213.29 L450.71,213.29 L450.8,213.3 L451,213.34 L451.28,213.42 L451.56,213.54 L451.84,213.69 L452.13,213.66 L452.41,213.64 L452.69,213.88 L452.97,214.11 L453.25,214.11 L453.54,214.09 L453.82,214.24 L454.05,214.34 L454.1,214.36 L454.38,214.36 L454.67,214.36 L454.95,214.25 L455.23,214.15 L455.51,214.23 L455.8,214.3 L456.08,214.18 L456.36,214.05 L456.64,214.12 L456.93,214.2 L457.21,214.25 L457.49,214.3 L457.77,214.29 L458.05,214.28 L458.3,214.25 L458.34,214.24 L458.62,214.22 L458.9,214.21 L459.18,214.21 L459.47,214.22 L459.75,214.24 L460.03,214.47 L460.31,214.7 L460.6,214.75 L460.88,214.79 L461.16,214.9 L461.44,215.01 L461.73,214.92 L462.01,214.83 L462.29,215 L462.5,215.12 L462.57,215.16 L462.85,215.17 L463.14,215.19 L463.42,215.19 L463.7,215.19 M395.94,216.28 L396.22,215.96 L396.5,215.69 L396.5,215.7 L396.78,216.74 L397.07,218.16 L397.35,219.84 L397.63,221.58 L397.91,223.15 L398.2,224.43 L398.4,225.18 L398.48,225.14 L398.76,224.98 L399.04,224.71 L399.33,224.41 L399.61,224.11 L399.89,223.78 L400.17,223.38 L400.46,222.96 L400.74,222.53 L401.02,222.1 L401.3,221.74 L401.58,221.38 L401.87,221.07 L402.15,220.76 L402.43,220.41 L402.71,220.08 L403,219.76 L403.28,219.46 L403.56,219.24 L403.84,219.04 L404,218.94 L404.13,219.08 L404.41,219.49 L404.69,220.04 L404.97,220.65 L405.26,221.2 L405.54,221.74 L405.82,222.13 L406.1,222.44 L406.3,222.77 L406.38,222.8 L406.67,222.87 L406.95,222.7 L407.23,222.52 L407.51,222.38 L407.8,222.23 L408.08,222.05 L408.36,221.86 L408.64,221.83 L408.93,221.8 L409.21,221.64 L409.49,221.48 L409.77,221.35 L410.06,221.22 L410.34,221.07 L410.62,220.93 L410.9,220.83 L411.18,220.73 L411.3,220.67 L411.47,220.73 L411.75,220.9 L412.03,221.24 L412.31,221.62 L412.6,221.99 L412.88,222.33 L413.16,222.79 L413.44,223.18 L413.5,223.21 L413.73,223.21 L414.01,223.19 L414.29,223.06 L414.57,222.92 L414.86,222.87 L415.14,222.82 L415.42,222.88 L415.7,222.94 L415.98,222.9 L416.27,222.87 L416.55,222.95 L416.83,223.04 L417.11,222.96 L417.4,222.87 L417.68,222.76 L417.96,222.65 L418.24,222.66 L418.5,222.67 L418.53,222.67 L418.81,222.68 L419.09,222.7 L419.37,222.71 L419.66,222.72 L419.94,222.88 L420.22,223.04 L420.5,223.11 L420.78,223.18 L421.07,223.21 L421.35,223.24 L421.63,223.2 L421.91,223.14 L422.2,223.12 L422.2,223.12 L422.48,223.08 L422.76,223.01 L423.04,222.93 L423.33,222.92 L423.61,222.9 L423.89,222.85 L424.17,222.8 L424.45,222.72 L424.74,222.64 L425.02,222.64 L425.3,222.66 L425.58,222.62 L425.87,222.59 L425.9,222.6 L426.15,222.69 L426.43,222.81 L426.71,222.73 L427,222.67 L427.28,222.85 L427.56,223.05 L427.84,223.04 L428.13,223.02 L428.41,223.18 L428.69,223.33 L428.97,223.49 L429.25,223.63 L429.54,223.72 L429.82,223.8 L430.1,223.79 L430.2,223.79 L430.38,223.77 L430.67,223.69 L430.95,223.61 L431.23,223.58 L431.51,223.54 L431.8,223.62 L432.08,223.69 L432.36,223.67 L432.64,223.64 L432.93,223.53 L433.21,223.42 L433.49,223.39 L433.77,223.36 L434.05,223.38 L434.34,223.41 L434.4,223.42 L434.62,223.45 L434.9,223.5 L435.18,223.48 L435.47,223.47 L435.75,223.65 L436.03,223.84 L436.31,223.88 L436.6,223.91 L436.88,223.96 L437.16,224 L437.44,223.96 L437.73,223.91 L438.01,223.98 L438.1,224 L438.29,224.04 L438.57,223.98 L438.85,223.92 L439.14,223.96 L439.42,224 L439.7,224.01 L439.98,224.01 L440.27,223.97 L440.55,223.92 L440.83,223.76 L441.11,223.6 L441.4,223.63 L441.68,223.66 L441.9,223.71 L441.96,223.73 L442.24,223.81 L442.53,223.87 L442.81,223.95 L443.09,223.9 L443.37,223.85 L443.65,223.86 L443.94,223.88 L444.22,223.98 L444.5,224.08 L444.78,224.17 L445.07,224.26 L445.35,224.24 L445.63,224.22 L445.91,224.22 L446.2,224.21 L446.48,224.37 L446.76,224.53 L447.04,224.58 L447.33,224.63 L447.5,224.6 L447.61,224.57 L447.89,224.5 L448.17,224.46 L448.45,224.4 L448.74,224.29 L449.02,224.18 L449.3,224.21 L449.58,224.23 L449.87,224.07 L450.15,223.92 L450.43,223.9 L450.71,223.9 L450.8,223.91 L451,223.95 L451.28,224.03 L451.56,224.15 L451.84,224.29 L452.13,224.27 L452.41,224.25 L452.69,224.49 L452.97,224.72 L453.25,224.72 L453.54,224.7 L453.82,224.85 L454.05,224.94 L454.1,224.96 L454.38,224.96 L454.67,224.96 L454.95,224.86 L455.23,224.76 L455.51,224.84 L455.8,224.91 L456.08,224.78 L456.36,224.66 L456.64,224.73 L456.93,224.81 L457.21,224.86 L457.49,224.91 L457.77,224.9 L458.05,224.89 L458.3,224.86 L458.34,224.85 L458.62,224.83 L458.9,224.81 L459.18,224.82 L459.47,224.83 L459.75,224.85 L460.03,225.08 L460.31,225.31 L460.6,225.36 L460.88,225.4 L461.16,225.51 L461.44,225.61 L461.73,225.53 L462.01,225.43 L462.29,225.61 L462.5,225.73 L462.57,225.76 L462.85,225.78 L463.14,225.8 L463.42,225.8 L463.7,225.79 L463.98,225.73 L464.27,225.67 L464.55,225.58 L464.83,225.49 L465.11,225.5 L465.4,225.5 L465.68,225.53 L465.96,225.55 L466.2,225.51 L466.24,225.51 L466.53,225.47 L466.81,225.52 L467.09,225.58 L467.37,225.76 L467.65,225.95 L467.94,226.07 L468.22,226.19 M400.46,233.57 L400.74,233.14 L401.02,232.7 L401.3,232.34 L401.58,231.99 L401.87,231.67 L402.15,231.37 L402.43,231.02 L402.71,230.69 L403,230.37 L403.28,230.07 L403.56,229.84 L403.84,229.65 L404,229.55 L404.13,229.69 L404.41,230.1 L404.69,230.64 L404.97,231.26 L405.26,231.81 L405.54,232.35 L405.82,232.74 L406.1,233.04 L406.3,233.38 L406.38,233.4 L406.67,233.47 L406.95,233.31 L407.23,233.13 L407.51,232.99 L407.8,232.83 L408.08,232.65 L408.36,232.47 L408.64,232.44 L408.93,232.4 L409.21,232.25 L409.49,232.09 L409.77,231.96 L410.06,231.83 L410.34,231.68 L410.62,231.54 L410.9,231.44 L411.18,231.34 L411.3,231.27 L411.47,231.34 L411.75,231.51 L412.03,231.85 L412.31,232.23 L412.6,232.6 L412.88,232.94 L413.16,233.4 L413.44,233.78 L413.5,233.82 L413.73,233.81 L414.01,233.8 L414.29,233.67 L414.57,233.53 L414.86,233.48 L415.14,233.43 L415.42,233.49 L415.7,233.55 L415.98,233.51 L416.27,233.47 L416.55,233.56 L416.83,233.65 L417.11,233.56 L417.4,233.48 L417.68,233.37 L417.96,233.26 L418.24,233.27 L418.5,233.27 L418.53,233.28 L418.81,233.29 L419.09,233.31 L419.37,233.32 L419.66,233.32 L419.94,233.49 L420.22,233.65 L420.5,233.72 L420.78,233.79 L421.07,233.82 L421.35,233.84 L421.63,233.8 L421.91,233.75 L422.2,233.73 L422.2,233.73 L422.48,233.69 L422.76,233.62 L423.04,233.54 L423.33,233.53 L423.61,233.51 L423.89,233.46 L424.17,233.41 L424.45,233.32 L424.74,233.24 L425.02,233.25 L425.3,233.26 L425.58,233.22 L425.87,233.2 L425.9,233.21 L426.15,233.3 L426.43,233.42 L426.71,233.34 L427,233.28 L427.28,233.46 L427.56,233.66 L427.84,233.64 L428.13,233.63 L428.41,233.79 L428.69,233.94 L428.97,234.1 L429.25,234.24 L429.54,234.33 L429.82,234.4 L430.1,234.4 L430.2,234.39 L430.38,234.38 L430.67,234.3 L430.95,234.22 L431.23,234.18 L431.51,234.15 L431.8,234.22 L432.08,234.3 L432.36,234.27 L432.64,234.25 L432.93,234.14 L433.21,234.03 L433.49,233.99 L433.77,233.96 L434.05,233.99 L434.34,234.02 L434.4,234.02 L434.62,234.05 L434.9,234.11 L435.18,234.09 L435.47,234.08 L435.75,234.26 L436.03,234.45 L436.31,234.48 L436.6,234.52 L436.88,234.57 L437.16,234.61 L437.44,234.57 L437.73,234.52 L438.01,234.59 L438.1,234.61 L438.29,234.65 L438.57,234.59 L438.85,234.53 L439.14,234.57 L439.42,234.61 L439.7,234.62 L439.98,234.62 L440.27,234.57 L440.55,234.53 L440.83,234.37 L441.11,234.21 L441.4,234.23 L441.68,234.27 L441.9,234.32 L441.96,234.34 L442.24,234.41 L442.53,234.48 L442.81,234.56 L443.09,234.5 L443.37,234.46 L443.65,234.47 L443.94,234.49 L444.22,234.59 L444.5,234.69 L444.78,234.78 L445.07,234.87 L445.35,234.85 L445.63,234.82 L445.91,234.83 L446.2,234.82 L446.48,234.98 L446.76,235.14 L447.04,235.19 L447.33,235.24 L447.5,235.2 L447.61,235.18 L447.89,235.11 L448.17,235.06 L448.45,235 L448.74,234.9 L449.02,234.79 L449.3,234.82 L449.58,234.84 L449.87,234.68 L450.15,234.53 L450.43,234.51 L450.71,234.5 L450.8,234.52 L451,234.55 L451.28,234.63 L451.56,234.76 L451.84,234.9 L452.13,234.87 L452.41,234.85 L452.69,235.09 L452.97,235.32 L453.25,235.33 L453.54,235.3 L453.82,235.45 L454.05,235.55 L454.1,235.57 L454.38,235.57 L454.67,235.57 L454.95,235.47 L455.23,235.37 L455.51,235.44 L455.8,235.52 L456.08,235.39 L456.36,235.26 L456.64,235.34 L456.93,235.41 L457.21,235.46 L457.49,235.51 L457.77,235.5 L458.05,235.49 L458.3,235.46 L458.34,235.46 L458.62,235.44 L458.9,235.42 L459.18,235.42 L459.47,235.43 L459.75,235.46 L460.03,235.69 L460.31,235.92 L460.6,235.96 L460.88,236 L461.16,236.12 L461.44,236.22 L461.73,236.14 L462.01,236.04 L462.29,236.22 L462.5,236.33 L462.57,236.37 L462.85,236.39 L463.14,236.4 L463.42,236.4 L463.7,236.4 L463.98,236.34 L464.27,236.28 L464.55,236.19 L464.83,236.1 L465.11,236.1 L465.4,236.11 L465.68,236.13 L465.96,236.16 L466.2,236.12 L466.24,236.11 L466.53,236.08 L466.81,236.12 L467.09,236.19 L467.37,236.37 L467.65,236.56 L467.94,236.67 L468.22,236.8 L468.5,236.77 L468.78,236.73 L469.07,236.86 L469.35,236.98 L469.63,237.18 L469.91,237.37 L470.2,237.29 L470.48,237.2 L470.6,237.22 L470.76,237.25 L471.04,237.3 L471.33,237.29 L471.61,237.28 L471.89,237.27 L472.17,237.27 L472.45,237.28 L472.74,237.3 M404.97,241.87 L405.26,242.42 L405.54,242.96 L405.82,243.35 L406.1,243.65 L406.3,243.99 L406.38,244.01 L406.67,244.08 L406.95,243.92 L407.23,243.74 L407.51,243.59 L407.8,243.44 L408.08,243.26 L408.36,243.07 L408.64,243.04 L408.93,243.01 L409.21,242.85 L409.49,242.7 L409.77,242.56 L410.06,242.44 L410.34,242.29 L410.62,242.15 L410.9,242.04 L411.18,241.95 L411.3,241.88 L411.47,241.95 L411.75,242.12 L412.03,242.46 L412.31,242.84 L412.6,243.2 L412.88,243.55 L413.16,244 L413.44,244.39 L413.5,244.43 L413.73,244.42 L414.01,244.41 L414.29,244.27 L414.57,244.14 L414.86,244.09 L415.14,244.04 L415.42,244.1 L415.7,244.16 L415.98,244.12 L416.27,244.08 L416.55,244.17 L416.83,244.26 L417.11,244.17 L417.4,244.09 L417.68,243.97 L417.96,243.87 L418.24,243.87 L418.5,243.88 L418.53,243.88 L418.81,243.9 L419.09,243.92 L419.37,243.92 L419.66,243.93 L419.94,244.1 L420.22,244.26 L420.5,244.33 L420.78,244.4 L421.07,244.43 L421.35,244.45 L421.63,244.41 L421.91,244.36 L422.2,244.34 L422.2,244.34 L422.48,244.3 L422.76,244.23 L423.04,244.15 L423.33,244.14 L423.61,244.12 L423.89,244.07 L424.17,244.02 L424.45,243.93 L424.74,243.85 L425.02,243.86 L425.3,243.87 L425.58,243.83 L425.87,243.8 L425.9,243.81 L426.15,243.91 L426.43,244.03 L426.71,243.95 L427,243.88 L427.28,244.07 L427.56,244.27 L427.84,244.25 L428.13,244.24 L428.41,244.4 L428.69,244.55 L428.97,244.7 L429.25,244.84 L429.54,244.94 L429.82,245.01 L430.1,245.01 L430.2,245 L430.38,244.98 L430.67,244.91 L430.95,244.82 L431.23,244.79 L431.51,244.76 L431.8,244.83 L432.08,244.91 L432.36,244.88 L432.64,244.86 L432.93,244.74 L433.21,244.63 L433.49,244.6 L433.77,244.57 L434.05,244.6 L434.34,244.63 L434.4,244.63 L434.62,244.66 L434.9,244.72 L435.18,244.69 L435.47,244.69 L435.75,244.87 L436.03,245.06 L436.31,245.09 L436.6,245.12 L436.88,245.17 L437.16,245.21 L437.44,245.18 L437.73,245.12 L438.01,245.2 L438.1,245.22 L438.29,245.25 L438.57,245.2 L438.85,245.13 L439.14,245.18 L439.42,245.22 L439.7,245.22 L439.98,245.22 L440.27,245.18 L440.55,245.14 L440.83,244.97 L441.11,244.81 L441.4,244.84 L441.68,244.87 L441.9,244.93 L441.96,244.94 L442.24,245.02 L442.53,245.09 L442.81,245.16 L443.09,245.11 L443.37,245.06 L443.65,245.08 L443.94,245.1 L444.22,245.2 L444.5,245.3 L444.78,245.39 L445.07,245.47 L445.35,245.45 L445.63,245.43 L445.91,245.43 L446.2,245.43 L446.48,245.59 L446.76,245.74 L447.04,245.8 L447.33,245.84 L447.5,245.81 L447.61,245.79 L447.89,245.72 L448.17,245.67 L448.45,245.61 L448.74,245.51 L449.02,245.4 L449.3,245.42 L449.58,245.45 L449.87,245.29 L450.15,245.13 L450.43,245.11 L450.71,245.11 L450.8,245.12 L451,245.16 L451.28,245.24 L451.56,245.36 L451.84,245.51 L452.13,245.48 L452.41,245.46 L452.69,245.7 L452.97,245.93 L453.25,245.93 L453.54,245.91 L453.82,246.06 L454.05,246.16 L454.1,246.18 L454.38,246.18 L454.67,246.18 L454.95,246.08 L455.23,245.97 L455.51,246.05 L455.8,246.13 L456.08,246 L456.36,245.87 L456.64,245.95 L456.93,246.02 L457.21,246.07 L457.49,246.12 L457.77,246.11 L458.05,246.1 L458.3,246.07 L458.34,246.07 L458.62,246.04 L458.9,246.03 L459.18,246.03 L459.47,246.04 L459.75,246.06 L460.03,246.29 L460.31,246.53 L460.6,246.57 L460.88,246.61 L461.16,246.72 L461.44,246.83 L461.73,246.75 L462.01,246.65 L462.29,246.82 L462.5,246.94 L462.57,246.98 L462.85,247 L463.14,247.01 L463.42,247.01 L463.7,247.01 L463.98,246.95 L464.27,246.89 L464.55,246.8 L464.83,246.71 L465.11,246.71 L465.4,246.71 L465.68,246.74 L465.96,246.77 L466.2,246.73 L466.24,246.72 L466.53,246.69 L466.81,246.73 L467.09,246.8 L467.37,246.97 L467.65,247.16 L467.94,247.28 L468.22,247.41 L468.5,247.37 L468.78,247.34 L469.07,247.47 L469.35,247.59 L469.63,247.79 L469.91,247.97 L470.2,247.9 L470.48,247.8 L470.6,247.83 L470.76,247.86 L471.04,247.9 L471.33,247.9 L471.61,247.89 L471.89,247.88 L472.17,247.87 L472.45,247.89 L472.74,247.9 L473.02,247.92 L473.3,247.94 L473.58,247.89 L473.87,247.83 L473.9,247.83 L474.15,247.83 L474.43,247.83 L474.71,247.75 L475,247.69 L475.28,247.89 L475.56,248.11 L475.84,248.02 L476.12,247.94 L476.41,248.15 L476.69,248.36 L476.97,248.4 L477.25,248.44 M409.49,253.31 L409.77,253.17 L410.06,253.04 L410.34,252.9 L410.62,252.76 L410.9,252.65 L411.18,252.56 L411.3,252.49 L411.47,252.55 L411.75,252.72 L412.03,253.07 L412.31,253.45 L412.6,253.81 L412.88,254.16 L413.16,254.61 L413.44,255 L413.5,255.04 L413.73,255.03 L414.01,255.02 L414.29,254.88 L414.57,254.74 L414.86,254.7 L415.14,254.65 L415.42,254.71 L415.7,254.76 L415.98,254.73 L416.27,254.69 L416.55,254.78 L416.83,254.87 L417.11,254.78 L417.4,254.69 L417.68,254.58 L417.96,254.47 L418.24,254.48 L418.5,254.49 L418.53,254.49 L418.81,254.51 L419.09,254.52 L419.37,254.53 L419.66,254.54 L419.94,254.7 L420.22,254.86 L420.5,254.93 L420.78,255 L421.07,255.03 L421.35,255.06 L421.63,255.02 L421.91,254.97 L422.2,254.94 L422.2,254.94 L422.48,254.91 L422.76,254.84 L423.04,254.75 L423.33,254.74 L423.61,254.73 L423.89,254.68 L424.17,254.62 L424.45,254.54 L424.74,254.46 L425.02,254.46 L425.3,254.48 L425.58,254.44 L425.87,254.41 L425.9,254.42 L426.15,254.51 L426.43,254.64 L426.71,254.55 L427,254.49 L427.28,254.68 L427.56,254.88 L427.84,254.86 L428.13,254.84 L428.41,255 L428.69,255.16 L428.97,255.31 L429.25,255.45 L429.54,255.54 L429.82,255.62 L430.1,255.61 L430.2,255.61 L430.38,255.59 L430.67,255.51 L430.95,255.43 L431.23,255.4 L431.51,255.36 L431.8,255.44 L432.08,255.51 L432.36,255.49 L432.64,255.46 L432.93,255.35 L433.21,255.24 L433.49,255.21 L433.77,255.18 L434.05,255.2 L434.34,255.23 L434.4,255.24 L434.62,255.27 L434.9,255.33 L435.18,255.3 L435.47,255.29 L435.75,255.47 L436.03,255.66 L436.31,255.7 L436.6,255.73 L436.88,255.78 L437.16,255.82 L437.44,255.78 L437.73,255.73 L438.01,255.8 L438.1,255.82 L438.29,255.86 L438.57,255.81 L438.85,255.74 L439.14,255.79 L439.42,255.83 L439.7,255.83 L439.98,255.83 L440.27,255.79 L440.55,255.75 L440.83,255.58 L441.11,255.42 L441.4,255.45 L441.68,255.48 L441.9,255.53 L441.96,255.55 L442.24,255.63 L442.53,255.7 L442.81,255.77 L443.09,255.72 L443.37,255.67 L443.65,255.68 L443.94,255.7 L444.22,255.8 L444.5,255.91 L444.78,255.99 L445.07,256.08 L445.35,256.06 L445.63,256.04 L445.91,256.04 L446.2,256.04 L446.48,256.2 L446.76,256.35 L447.04,256.4 L447.33,256.45 L447.5,256.42 L447.61,256.4 L447.89,256.33 L448.17,256.28 L448.45,256.22 L448.74,256.12 L449.02,256.01 L449.3,256.03 L449.58,256.06 L449.87,255.89 L450.15,255.74 L450.43,255.72 L450.71,255.72 L450.8,255.73 L451,255.77 L451.28,255.85 L451.56,255.97 L451.84,256.12 L452.13,256.09 L452.41,256.07 L452.69,256.31 L452.97,256.54 L453.25,256.54 L453.54,256.52 L453.82,256.67 L454.05,256.77 L454.1,256.79 L454.38,256.79 L454.67,256.79 L454.95,256.68 L455.23,256.58 L455.51,256.66 L455.8,256.73 L456.08,256.61 L456.36,256.48 L456.64,256.55 L456.93,256.63 L457.21,256.68 L457.49,256.73 L457.77,256.72 L458.05,256.71 L458.3,256.68 L458.34,256.67 L458.62,256.65 L458.9,256.64 L459.18,256.64 L459.47,256.65 L459.75,256.67 L460.03,256.9 L460.31,257.13 L460.6,257.18 L460.88,257.22 L461.16,257.33 L461.44,257.43 L461.73,257.35 L462.01,257.26 L462.29,257.43 L462.5,257.55 L462.57,257.59 L462.85,257.6 L463.14,257.62 L463.42,257.62 L463.7,257.62 L463.98,257.56 L464.27,257.5 L464.55,257.41 L464.83,257.31 L465.11,257.32 L465.4,257.32 L465.68,257.35 L465.96,257.38 L466.2,257.34 L466.24,257.33 L466.53,257.29 L466.81,257.34 L467.09,257.4 L467.37,257.58 L467.65,257.77 L467.94,257.89 L468.22,258.01 L468.5,257.98 L468.78,257.95 L469.07,258.07 L469.35,258.19 L469.63,258.4 L469.91,258.58 L470.2,258.51 L470.48,258.41 L470.6,258.43 L470.76,258.46 L471.04,258.51 L471.33,258.5 L471.61,258.49 L471.89,258.49 L472.17,258.48 L472.45,258.5 L472.74,258.51 L473.02,258.53 L473.3,258.55 L473.58,258.49 L473.87,258.44 L473.9,258.44 L474.15,258.43 L474.43,258.44 L474.71,258.36 L475,258.3 L475.28,258.5 L475.56,258.71 L475.84,258.63 L476.12,258.55 L476.41,258.76 L476.69,258.97 L476.97,259.01 L477.25,259.05 L477.54,259.01 L477.82,258.97 L478.1,259 L478.38,259.02 L478.6,259.08 L478.67,259.09 L478.95,259.16 L479.23,259.21 L479.51,259.26 L479.8,259.16 L480.08,259.05 L480.36,259.04 L480.64,259.02 L480.92,258.89 L481.21,258.77 L481.49,258.89 L481.77,259.01 M414.01,265.62 L414.29,265.49 L414.57,265.35 L414.86,265.3 L415.14,265.25 L415.42,265.31 L415.7,265.37 L415.98,265.33 L416.27,265.3 L416.55,265.38 L416.83,265.47 L417.11,265.39 L417.4,265.3 L417.68,265.19 L417.96,265.08 L418.24,265.09 L418.5,265.1 L418.53,265.1 L418.81,265.11 L419.09,265.13 L419.37,265.14 L419.66,265.15 L419.94,265.31 L420.22,265.47 L420.5,265.54 L420.78,265.61 L421.07,265.64 L421.35,265.67 L421.63,265.62 L421.91,265.57 L422.2,265.55 L422.2,265.55 L422.48,265.51 L422.76,265.44 L423.04,265.36 L423.33,265.35 L423.61,265.33 L423.89,265.28 L424.17,265.23 L424.45,265.14 L424.74,265.06 L425.02,265.07 L425.3,265.09 L425.58,265.05 L425.87,265.02 L425.9,265.03 L426.15,265.12 L426.43,265.24 L426.71,265.16 L427,265.1 L427.28,265.28 L427.56,265.48 L427.84,265.47 L428.13,265.45 L428.41,265.61 L428.69,265.76 L428.97,265.92 L429.25,266.06 L429.54,266.15 L429.82,266.23 L430.1,266.22 L430.2,266.22 L430.38,266.2 L430.67,266.12 L430.95,266.04 L431.23,266.01 L431.51,265.97 L431.8,266.05 L432.08,266.12 L432.36,266.1 L432.64,266.07 L432.93,265.96 L433.21,265.85 L433.49,265.82 L433.77,265.79 L434.05,265.81 L434.34,265.84 L434.4,265.85 L434.62,265.88 L434.9,265.93 L435.18,265.91 L435.47,265.9 L435.75,266.08 L436.03,266.27 L436.31,266.31 L436.6,266.34 L436.88,266.39 L437.16,266.43 L437.44,266.39 L437.73,266.34 L438.01,266.41 L438.1,266.43 L438.29,266.47 L438.57,266.41 L438.85,266.35 L439.14,266.39 L439.42,266.43 L439.7,266.44 L439.98,266.44 L440.27,266.4 L440.55,266.35 L440.83,266.19 L441.11,266.03 L441.4,266.05 L441.68,266.09 L441.9,266.14 L441.96,266.16 L442.24,266.24 L442.53,266.3 L442.81,266.38 L443.09,266.33 L443.37,266.28 L443.65,266.29 L443.94,266.31 L444.22,266.41 L444.5,266.51 L444.78,266.6 L445.07,266.69 L445.35,266.67 L445.63,266.65 L445.91,266.65 L446.2,266.64 L446.48,266.8 L446.76,266.96 L447.04,267.01 L447.33,267.06 L447.5,267.03 L447.61,267 L447.89,266.93 L448.17,266.89 L448.45,266.83 L448.74,266.72 L449.02,266.61 L449.3,266.64 L449.58,266.66 L449.87,266.5 L450.15,266.35 L450.43,266.33 L450.71,266.33 L450.8,266.34 L451,266.37 L451.28,266.46 L451.56,266.58 L451.84,266.72 L452.13,266.7 L452.41,266.68 L452.69,266.91 L452.97,267.15 L453.25,267.15 L453.54,267.13 L453.82,267.28 L454.05,267.37 L454.1,267.39 L454.38,267.39 L454.67,267.39 L454.95,267.29 L455.23,267.19 L455.51,267.27 L455.8,267.34 L456.08,267.21 L456.36,267.09 L456.64,267.16 L456.93,267.24 L457.21,267.29 L457.49,267.34 L457.77,267.33 L458.05,267.32 L458.3,267.29 L458.34,267.28 L458.62,267.26 L458.9,267.24 L459.18,267.25 L459.47,267.26 L459.75,267.28 L460.03,267.51 L460.31,267.74 L460.6,267.79 L460.88,267.83 L461.16,267.94 L461.44,268.04 L461.73,267.96 L462.01,267.86 L462.29,268.04 L462.5,268.16 L462.57,268.19 L462.85,268.21 L463.14,268.23 L463.42,268.23 L463.7,268.22 L463.98,268.16 L464.27,268.1 L464.55,268.01 L464.83,267.92 L465.11,267.93 L465.4,267.93 L465.68,267.96 L465.96,267.98 L466.2,267.94 L466.24,267.94 L466.53,267.9 L466.81,267.95 L467.09,268.01 L467.37,268.19 L467.65,268.38 L467.94,268.5 L468.22,268.62 L468.5,268.59 L468.78,268.55 L469.07,268.68 L469.35,268.8 L469.63,269 L469.91,269.19 L470.2,269.11 L470.48,269.02 L470.6,269.04 L470.76,269.07 L471.04,269.12 L471.33,269.11 L471.61,269.1 L471.89,269.1 L472.17,269.09 L472.45,269.1 L472.74,269.12 L473.02,269.14 L473.3,269.16 L473.58,269.1 L473.87,269.05 L473.9,269.05 L474.15,269.04 L474.43,269.05 L474.71,268.97 L475,268.9 L475.28,269.11 L475.56,269.32 L475.84,269.24 L476.12,269.16 L476.41,269.37 L476.69,269.58 L476.97,269.62 L477.25,269.65 L477.54,269.62 L477.82,269.58 L478.1,269.61 L478.38,269.63 L478.6,269.69 L478.67,269.7 L478.95,269.77 L479.23,269.82 L479.51,269.87 L479.8,269.76 L480.08,269.66 L480.36,269.64 L480.64,269.63 L480.92,269.5 L481.21,269.38 L481.49,269.5 L481.77,269.62 L481.9,269.6 L482.05,269.59 L482.34,269.57 L482.62,269.5 L482.9,269.44 L483.18,269.64 L483.47,269.84 L483.75,269.83 L484.03,269.82 L484.31,269.8 L484.6,269.79 L484.88,269.84 L485.16,269.89 L485.44,270.06 L485.72,270.21 L486.01,270.22 L486.1,270.22 L486.29,270.22 M418.53,275.71 L418.81,275.72 L419.09,275.74 L419.37,275.74 L419.66,275.75 L419.94,275.92 L420.22,276.08 L420.5,276.15 L420.78,276.22 L421.07,276.25 L421.35,276.27 L421.63,276.23 L421.91,276.18 L422.2,276.16 L422.2,276.16 L422.48,276.12 L422.76,276.05 L423.04,275.97 L423.33,275.96 L423.61,275.94 L423.89,275.89 L424.17,275.84 L424.45,275.75 L424.74,275.67 L425.02,275.68 L425.3,275.69 L425.58,275.65 L425.87,275.63 L425.9,275.64 L426.15,275.73 L426.43,275.85 L426.71,275.77 L427,275.71 L427.28,275.89 L427.56,276.09 L427.84,276.07 L428.13,276.06 L428.41,276.22 L428.69,276.37 L428.97,276.53 L429.25,276.67 L429.54,276.76 L429.82,276.83 L430.1,276.83 L430.2,276.82 L430.38,276.81 L430.67,276.73 L430.95,276.65 L431.23,276.61 L431.51,276.58 L431.8,276.65 L432.08,276.73 L432.36,276.7 L432.64,276.68 L432.93,276.57 L433.21,276.46 L433.49,276.42 L433.77,276.39 L434.05,276.42 L434.34,276.45 L434.4,276.45 L434.62,276.48 L434.9,276.54 L435.18,276.52 L435.47,276.51 L435.75,276.69 L436.03,276.88 L436.31,276.91 L436.6,276.94 L436.88,277 L437.16,277.03 L437.44,277 L437.73,276.94 L438.01,277.02 L438.1,277.04 L438.29,277.07 L438.57,277.02 L438.85,276.96 L439.14,277 L439.42,277.04 L439.7,277.04 L439.98,277.05 L440.27,277 L440.55,276.96 L440.83,276.8 L441.11,276.64 L441.4,276.66 L441.68,276.7 L441.9,276.75 L441.96,276.77 L442.24,276.84 L442.53,276.91 L442.81,276.99 L443.09,276.93 L443.37,276.89 L443.65,276.9 L443.94,276.92 L444.22,277.02 L444.5,277.12 L444.78,277.21 L445.07,277.29 L445.35,277.28 L445.63,277.25 L445.91,277.25 L446.2,277.25 L446.48,277.41 L446.76,277.57 L447.04,277.62 L447.33,277.66 L447.5,277.63 L447.61,277.61 L447.89,277.54 L448.17,277.49 L448.45,277.43 L448.74,277.33 L449.02,277.22 L449.3,277.25 L449.58,277.27 L449.87,277.11 L450.15,276.96 L450.43,276.94 L450.71,276.93 L450.8,276.95 L451,276.98 L451.28,277.06 L451.56,277.19 L451.84,277.33 L452.13,277.3 L452.41,277.28 L452.69,277.52 L452.97,277.75 L453.25,277.76 L453.54,277.73 L453.82,277.88 L454.05,277.98 L454.1,278 L454.38,278 L454.67,278 L454.95,277.9 L455.23,277.8 L455.51,277.87 L455.8,277.95 L456.08,277.82 L456.36,277.69 L456.64,277.77 L456.93,277.84 L457.21,277.89 L457.49,277.94 L457.77,277.93 L458.05,277.92 L458.3,277.89 L458.34,277.89 L458.62,277.87 L458.9,277.85 L459.18,277.85 L459.47,277.86 L459.75,277.89 L460.03,278.11 L460.31,278.35 L460.6,278.39 L460.88,278.43 L461.16,278.55 L461.44,278.65 L461.73,278.57 L462.01,278.47 L462.29,278.65 L462.5,278.76 L462.57,278.8 L462.85,278.82 L463.14,278.83 L463.42,278.83 L463.7,278.83 L463.98,278.77 L464.27,278.71 L464.55,278.62 L464.83,278.53 L465.11,278.53 L465.4,278.54 L465.68,278.56 L465.96,278.59 L466.2,278.55 L466.24,278.54 L466.53,278.51 L466.81,278.55 L467.09,278.62 L467.37,278.79 L467.65,278.99 L467.94,279.1 L468.22,279.23 L468.5,279.2 L468.78,279.16 L469.07,279.29 L469.35,279.41 L469.63,279.61 L469.91,279.8 L470.2,279.72 L470.48,279.63 L470.6,279.65 L470.76,279.68 L471.04,279.73 L471.33,279.72 L471.61,279.71 L471.89,279.7 L472.17,279.7 L472.45,279.71 L472.74,279.73 L473.02,279.74 L473.3,279.77 L473.58,279.71 L473.87,279.66 L473.9,279.65 L474.15,279.65 L474.43,279.65 L474.71,279.58 L475,279.51 L475.28,279.72 L475.56,279.93 L475.84,279.85 L476.12,279.77 L476.41,279.98 L476.69,280.19 L476.97,280.23 L477.25,280.26 L477.54,280.23 L477.82,280.19 L478.1,280.22 L478.38,280.24 L478.6,280.29 L478.67,280.31 L478.95,280.37 L479.23,280.43 L479.51,280.48 L479.8,280.37 L480.08,280.26 L480.36,280.25 L480.64,280.24 L480.92,280.11 L481.21,279.99 L481.49,280.1 L481.77,280.23 L481.9,280.21 L482.05,280.2 L482.34,280.18 L482.62,280.11 L482.9,280.04 L483.18,280.24 L483.47,280.45 L483.75,280.44 L484.03,280.43 L484.31,280.41 L484.6,280.39 L484.88,280.45 L485.16,280.5 L485.44,280.67 L485.72,280.82 L486.01,280.83 L486.1,280.83 L486.29,280.83 L486.57,280.8 L486.85,280.75 L487.14,280.53 L487.42,280.3 L487.7,280.34 L487.98,280.37 L488.27,280.2 L488.55,280.03 L488.83,279.93 L489.11,279.84 L489.4,279.9 L489.68,279.99 L489.8,279.99 L489.96,280 L490.24,280.01 L490.52,279.89 L490.81,279.78" stroke="#d95f02" stroke-width="3" fill="none" stroke-linejoin="round" stroke-linecap="butt" clip-path="url(#c2)"/>
<rect x="157.8" y="241.75" width="3.2" height="3.2" fill="#000"/>
<rect x="169" y="241.75" width="3.2" height="3.2" fill="#000"/>
<rect x="180.3" y="241.75" width="3.2" height="3.2" fill="#000"/>
<rect x="191.3" y="241.75" width="3.2" height="3.2" fill="#000"/>
<rect x="202.15" y="241.75" width="3.2" height="3.2" fill="#000"/>
<rect x="213.15" y="241.75" width="3.2" height="3.2" fill="#000"/>
<rect x="496.9" y="241.75" width="3.2" height="3.2" fill="#000"/>
<rect x="507.8" y="241.75" width="3.2" height="3.2" fill="#000"/>
<rect x="519" y="241.75" width="3.2" height="3.2" fill="#000"/>
<rect x="530.3" y="241.75" width="3.2" height="3.2" fill="#000"/>
<rect x="541.3" y="241.75" width="3.2" height="3.2" fill="#000"/>
<rect x="552.4" y="241.75" width="3.2" height="3.2" fill="#000"/>
<text transform="scale(1.0507,1)" x="24.24 33.15 37.76" y="189.91" font-size="16.74" font-family="Liberation Serif" fill="#000" stroke="#000" stroke-width="0.05" >0.5</text>
<text transform="scale(1.0555,1)" x="23.96 32.84 37.52" y="219.37" font-size="16.74" font-family="Liberation Serif" fill="#000" stroke="#000" stroke-width="0.05" >0.0</text>
<text transform="scale(1.1018,1)" x="12.35 22.93 31.52 35.81" y="248.84" font-size="16.74" font-family="Liberation Serif" fill="#000" stroke="#000" stroke-width="0.05" >−0.5</text>
<text transform="scale(1.0756,1)" x="12.62 23.07 32.19 36.74" y="278.3" font-size="16.74" font-family="Liberation Serif" fill="#000" stroke="#000" stroke-width="0.05" >−1.0</text>
<text transform="scale(1.0654,1)" x="45.19" y="301.9" font-size="16.74" font-family="Liberation Serif" fill="#000" stroke="#000" stroke-width="0.05" >0</text>
<text transform="scale(1.0608,1)" x="142.75 151.86 160.86" y="301.9" font-size="16.74" font-family="Liberation Serif" fill="#000" stroke="#000" stroke-width="0.05" >200</text>
<text transform="scale(1.0671,1)" x="247.93 257.04 265.98" y="301.9" font-size="16.74" font-family="Liberation Serif" fill="#000" stroke="#000" stroke-width="0.05" >400</text>
<text transform="scale(1.0642,1)" x="354.56 363.61 372.58" y="301.9" font-size="16.74" font-family="Liberation Serif" fill="#000" stroke="#000" stroke-width="0.05" >600</text>
<text transform="scale(1.0640,1)" x="460.87 469.84 478.81" y="301.9" font-size="16.74" font-family="Liberation Serif" fill="#000" stroke="#000" stroke-width="0.05" >800</text>
<text transform="scale(1.0397,1)" x="575 584.55 593.73 602.91" y="301.9" font-size="16.74" font-family="Liberation Serif" fill="#000" stroke="#000" stroke-width="0.05" >1000</text>
<text transform="scale(1.1686,1)" x="220.13 228.11 240.04 248.15 252.9 274.04 280.56 292.87 305.61 316.58 332.24 338.76 351.84" y="176.4" font-size="22.34" font-family="Liberation Serif" font-weight="bold" fill="#000" stroke="#000" stroke-width="0.2" >(1) Windowing</text>
<rect x="50.9" y="337.8" width="581.1" height="108.7" fill="#f0f0f0"/>
<path d="M52.6,337.8V446.5M165.54,337.8V446.5M278.48,337.8V446.5M391.42,337.8V446.5M504.36,337.8V446.5M617.3,337.8V446.5" stroke="#d0d0d0" stroke-width="1" fill="none" clip-path="url(#c3)"/>
<text x="58.72" y="350.4" font-family="Liberation Mono" font-size="11.8" fill="#000" stroke="#000" stroke-width="0.12" textLength="20.46" lengthAdjust="spacingAndGlyphs">bcc</text>
<text x="65.54" y="362.23" font-family="Liberation Mono" font-size="11.8" fill="#000" stroke="#000" stroke-width="0.12" textLength="20.46" lengthAdjust="spacingAndGlyphs">bcc</text>
<text x="72.36" y="374.06" font-family="Liberation Mono" font-size="11.8" fill="#000" stroke="#000" stroke-width="0.12" textLength="20.46" lengthAdjust="spacingAndGlyphs">bcc</text>
<text x="79.18" y="385.89" font-family="Liberation Mono" font-size="11.8" fill="#000" stroke="#000" stroke-width="0.12" textLength="20.46" lengthAdjust="spacingAndGlyphs">bcc</text>
<text x="86" y="397.72" font-family="Liberation Mono" font-size="11.8" fill="#000" stroke="#000" stroke-width="0.12" textLength="20.46" lengthAdjust="spacingAndGlyphs">bcc</text>
<text x="92.82" y="409.55" font-family="Liberation Mono" font-size="11.8" fill="#000" stroke="#000" stroke-width="0.12" textLength="20.46" lengthAdjust="spacingAndGlyphs">bcc</text>
<text x="99.64" y="421.38" font-family="Liberation Mono" font-size="11.8" fill="#000" stroke="#000" stroke-width="0.12" textLength="20.46" lengthAdjust="spacingAndGlyphs">bcc</text>
<text x="106.46" y="433.21" font-family="Liberation Mono" font-size="11.8" fill="#000" stroke="#000" stroke-width="0.12" textLength="20.46" lengthAdjust="spacingAndGlyphs">bcc</text>
<text x="113.28" y="445.04" font-family="Liberation Mono" font-size="11.8" fill="#000" stroke="#000" stroke-width="0.12" textLength="20.46" lengthAdjust="spacingAndGlyphs">...</text>
<text x="101.08" y="350.4" font-family="Liberation Mono" font-size="11.8" fill="#000" stroke="#000" stroke-width="0.12" textLength="20.46" lengthAdjust="spacingAndGlyphs">ccc</text>
<text x="107.9" y="362.23" font-family="Liberation Mono" font-size="11.8" fill="#000" stroke="#000" stroke-width="0.12" textLength="20.46" lengthAdjust="spacingAndGlyphs">ccc</text>
<text x="114.72" y="374.06" font-family="Liberation Mono" font-size="11.8" fill="#000" stroke="#000" stroke-width="0.12" textLength="20.46" lengthAdjust="spacingAndGlyphs">bcc</text>
<text x="121.54" y="385.89" font-family="Liberation Mono" font-size="11.8" fill="#000" stroke="#000" stroke-width="0.12" textLength="20.46" lengthAdjust="spacingAndGlyphs">bcb</text>
<text x="128.36" y="397.72" font-family="Liberation Mono" font-size="11.8" fill="#000" stroke="#000" stroke-width="0.12" textLength="20.46" lengthAdjust="spacingAndGlyphs">bcb</text>
<text x="135.18" y="409.55" font-family="Liberation Mono" font-size="11.8" fill="#000" stroke="#000" stroke-width="0.12" textLength="20.46" lengthAdjust="spacingAndGlyphs">bcb</text>
<text x="142" y="421.38" font-family="Liberation Mono" font-size="11.8" fill="#000" stroke="#000" stroke-width="0.12" textLength="20.46" lengthAdjust="spacingAndGlyphs">bcb</text>
<text x="148.82" y="433.21" font-family="Liberation Mono" font-size="11.8" fill="#000" stroke="#000" stroke-width="0.12" textLength="20.46" lengthAdjust="spacingAndGlyphs">bcb</text>
<text x="155.64" y="445.04" font-family="Liberation Mono" font-size="11.8" fill="#000" stroke="#000" stroke-width="0.12" textLength="20.46" lengthAdjust="spacingAndGlyphs">...</text>
<text x="143.44" y="350.4" font-family="Liberation Mono" font-size="11.8" fill="#000" stroke="#000" stroke-width="0.12" textLength="20.46" lengthAdjust="spacingAndGlyphs">bcb</text>
<text x="150.26" y="362.23" font-family="Liberation Mono" font-size="11.8" fill="#000" stroke="#000" stroke-width="0.12" textLength="20.46" lengthAdjust="spacingAndGlyphs">bcb</text>
<text x="157.08" y="374.06" font-family="Liberation Mono" font-size="11.8" fill="#000" stroke="#000" stroke-width="0.12" textLength="20.46" lengthAdjust="spacingAndGlyphs">bcb</text>
<text x="163.9" y="385.89" font-family="Liberation Mono" font-size="11.8" fill="#000" stroke="#000" stroke-width="0.12" textLength="20.46" lengthAdjust="spacingAndGlyphs">bcb</text>
<text x="170.72" y="397.72" font-family="Liberation Mono" font-size="11.8" fill="#000" stroke="#000" stroke-width="0.12" textLength="20.46" lengthAdjust="spacingAndGlyphs">bcb</text>
<text x="177.54" y="409.55" font-family="Liberation Mono" font-size="11.8" fill="#000" stroke="#000" stroke-width="0.12" textLength="20.46" lengthAdjust="spacingAndGlyphs">bcb</text>
<text x="184.36" y="421.38" font-family="Liberation Mono" font-size="11.8" fill="#000" stroke="#000" stroke-width="0.12" textLength="20.46" lengthAdjust="spacingAndGlyphs">bcb</text>
<text x="191.18" y="433.21" font-family="Liberation Mono" font-size="11.8" fill="#000" stroke="#000" stroke-width="0.12" textLength="20.46" lengthAdjust="spacingAndGlyphs">bcb</text>
<text x="198" y="445.04" font-family="Liberation Mono" font-size="11.8" fill="#000" stroke="#000" stroke-width="0.12" textLength="20.46" lengthAdjust="spacingAndGlyphs">...</text>
<text x="185.8" y="350.4" font-family="Liberation Mono" font-size="11.8" fill="#000" stroke="#000" stroke-width="0.12" textLength="20.46" lengthAdjust="spacingAndGlyphs">bcb</text>
<text x="192.62" y="362.23" font-family="Liberation Mono" font-size="11.8" fill="#000" stroke="#000" stroke-width="0.12" textLength="20.46" lengthAdjust="spacingAndGlyphs">bcb</text>
<text x="199.44" y="374.06" font-family="Liberation Mono" font-size="11.8" fill="#000" stroke="#000" stroke-width="0.12" textLength="20.46" lengthAdjust="spacingAndGlyphs">ccc</text>
<text x="206.26" y="385.89" font-family="Liberation Mono" font-size="11.8" fill="#000" stroke="#000" stroke-width="0.12" textLength="20.46" lengthAdjust="spacingAndGlyphs">ccc</text>
<text x="213.08" y="397.72" font-family="Liberation Mono" font-size="11.8" fill="#000" stroke="#000" stroke-width="0.12" textLength="20.46" lengthAdjust="spacingAndGlyphs">ccc</text>
<text x="219.9" y="409.55" font-family="Liberation Mono" font-size="11.8" fill="#000" stroke="#000" stroke-width="0.12" textLength="20.46" lengthAdjust="spacingAndGlyphs">ccc</text>
<text x="226.72" y="421.38" font-family="Liberation Mono" font-size="11.8" fill="#000" stroke="#000" stroke-width="0.12" textLength="20.46" lengthAdjust="spacingAndGlyphs">ccc</text>
<text x="233.54" y="433.21" font-family="Liberation Mono" font-size="11.8" fill="#000" stroke="#000" stroke-width="0.12" textLength="20.46" lengthAdjust="spacingAndGlyphs">ccc</text>
<text x="240.36" y="445.04" font-family="Liberation Mono" font-size="11.8" fill="#000" stroke="#000" stroke-width="0.12" textLength="20.46" lengthAdjust="spacingAndGlyphs">...</text>
<text x="228.16" y="350.4" font-family="Liberation Mono" font-size="11.8" fill="#000" stroke="#000" stroke-width="0.12" textLength="20.46" lengthAdjust="spacingAndGlyphs">bbb</text>
<text x="234.98" y="362.23" font-family="Liberation Mono" font-size="11.8" fill="#000" stroke="#000" stroke-width="0.12" textLength="20.46" lengthAdjust="spacingAndGlyphs">bbb</text>
<text x="241.8" y="374.06" font-family="Liberation Mono" font-size="11.8" fill="#000" stroke="#000" stroke-width="0.12" textLength="20.46" lengthAdjust="spacingAndGlyphs">abb</text>
<text x="248.62" y="385.89" font-family="Liberation Mono" font-size="11.8" fill="#000" stroke="#000" stroke-width="0.12" textLength="20.46" lengthAdjust="spacingAndGlyphs">abb</text>
<text x="255.44" y="397.72" font-family="Liberation Mono" font-size="11.8" fill="#000" stroke="#000" stroke-width="0.12" textLength="20.46" lengthAdjust="spacingAndGlyphs">abb</text>
<text x="262.26" y="409.55" font-family="Liberation Mono" font-size="11.8" fill="#000" stroke="#000" stroke-width="0.12" textLength="20.46" lengthAdjust="spacingAndGlyphs">abb</text>
<text x="269.08" y="421.38" font-family="Liberation Mono" font-size="11.8" fill="#000" stroke="#000" stroke-width="0.12" textLength="20.46" lengthAdjust="spacingAndGlyphs">abb</text>
<text x="275.9" y="433.21" font-family="Liberation Mono" font-size="11.8" fill="#000" stroke="#000" stroke-width="0.12" textLength="20.46" lengthAdjust="spacingAndGlyphs">abb</text>
<text x="282.72" y="445.04" font-family="Liberation Mono" font-size="11.8" fill="#000" stroke="#000" stroke-width="0.12" textLength="20.46" lengthAdjust="spacingAndGlyphs">...</text>
<text x="270.52" y="350.4" font-family="Liberation Mono" font-size="11.8" fill="#000" stroke="#000" stroke-width="0.12" textLength="20.46" lengthAdjust="spacingAndGlyphs">bab</text>
<text x="277.34" y="362.23" font-family="Liberation Mono" font-size="11.8" fill="#000" stroke="#000" stroke-width="0.12" textLength="20.46" lengthAdjust="spacingAndGlyphs">bab</text>
<text x="284.16" y="374.06" font-family="Liberation Mono" font-size="11.8" fill="#000" stroke="#000" stroke-width="0.12" textLength="20.46" lengthAdjust="spacingAndGlyphs">cac</text>
<text x="290.98" y="385.89" font-family="Liberation Mono" font-size="11.8" fill="#000" stroke="#000" stroke-width="0.12" textLength="20.46" lengthAdjust="spacingAndGlyphs">cac</text>
<text x="297.8" y="397.72" font-family="Liberation Mono" font-size="11.8" fill="#000" stroke="#000" stroke-width="0.12" textLength="20.46" lengthAdjust="spacingAndGlyphs">cac</text>
<text x="304.62" y="409.55" font-family="Liberation Mono" font-size="11.8" fill="#000" stroke="#000" stroke-width="0.12" textLength="20.46" lengthAdjust="spacingAndGlyphs">cac</text>
<text x="311.44" y="421.38" font-family="Liberation Mono" font-size="11.8" fill="#000" stroke="#000" stroke-width="0.12" textLength="20.46" lengthAdjust="spacingAndGlyphs">cac</text>
<text x="318.26" y="433.21" font-family="Liberation Mono" font-size="11.8" fill="#000" stroke="#000" stroke-width="0.12" textLength="20.46" lengthAdjust="spacingAndGlyphs">cac</text>
<text x="325.08" y="445.04" font-family="Liberation Mono" font-size="11.8" fill="#000" stroke="#000" stroke-width="0.12" textLength="20.46" lengthAdjust="spacingAndGlyphs">...</text>
<text x="312.88" y="350.4" font-family="Liberation Mono" font-size="11.8" fill="#000" stroke="#000" stroke-width="0.12" textLength="20.46" lengthAdjust="spacingAndGlyphs">cac</text>
<text x="319.7" y="362.23" font-family="Liberation Mono" font-size="11.8" fill="#000" stroke="#000" stroke-width="0.12" textLength="20.46" lengthAdjust="spacingAndGlyphs">cac</text>
<text x="326.52" y="374.06" font-family="Liberation Mono" font-size="11.8" fill="#000" stroke="#000" stroke-width="0.12" textLength="20.46" lengthAdjust="spacingAndGlyphs">cab</text>
<text x="333.34" y="385.89" font-family="Liberation Mono" font-size="11.8" fill="#000" stroke="#000" stroke-width="0.12" textLength="20.46" lengthAdjust="spacingAndGlyphs">cab</text>
<text x="340.16" y="397.72" font-family="Liberation Mono" font-size="11.8" fill="#000" stroke="#000" stroke-width="0.12" textLength="20.46" lengthAdjust="spacingAndGlyphs">cab</text>
<text x="346.98" y="409.55" font-family="Liberation Mono" font-size="11.8" fill="#000" stroke="#000" stroke-width="0.12" textLength="20.46" lengthAdjust="spacingAndGlyphs">cac</text>
<text x="353.8" y="421.38" font-family="Liberation Mono" font-size="11.8" fill="#000" stroke="#000" stroke-width="0.12" textLength="20.46" lengthAdjust="spacingAndGlyphs">dbc</text>
<text x="360.62" y="433.21" font-family="Liberation Mono" font-size="11.8" fill="#000" stroke="#000" stroke-width="0.12" textLength="20.46" lengthAdjust="spacingAndGlyphs">dbd</text>
<text x="367.44" y="445.04" font-family="Liberation Mono" font-size="11.8" fill="#000" stroke="#000" stroke-width="0.12" textLength="20.46" lengthAdjust="spacingAndGlyphs">...</text>
<text x="355.24" y="350.4" font-family="Liberation Mono" font-size="11.8" fill="#000" stroke="#000" stroke-width="0.12" textLength="20.46" lengthAdjust="spacingAndGlyphs">ddd</text>
<text x="362.06" y="362.23" font-family="Liberation Mono" font-size="11.8" fill="#000" stroke="#000" stroke-width="0.12" textLength="20.46" lengthAdjust="spacingAndGlyphs">ddc</text>
<text x="368.88" y="374.06" font-family="Liberation Mono" font-size="11.8" fill="#000" stroke="#000" stroke-width="0.12" textLength="20.46" lengthAdjust="spacingAndGlyphs">cdc</text>
<text x="375.7" y="385.89" font-family="Liberation Mono" font-size="11.8" fill="#000" stroke="#000" stroke-width="0.12" textLength="20.46" lengthAdjust="spacingAndGlyphs">cdb</text>
<text x="382.52" y="397.72" font-family="Liberation Mono" font-size="11.8" fill="#000" stroke="#000" stroke-width="0.12" textLength="20.46" lengthAdjust="spacingAndGlyphs">bda</text>
<text x="389.34" y="409.55" font-family="Liberation Mono" font-size="11.8" fill="#000" stroke="#000" stroke-width="0.12" textLength="20.46" lengthAdjust="spacingAndGlyphs">bda</text>
<text x="396.16" y="421.38" font-family="Liberation Mono" font-size="11.8" fill="#000" stroke="#000" stroke-width="0.12" textLength="20.46" lengthAdjust="spacingAndGlyphs">bda</text>
<text x="402.98" y="433.21" font-family="Liberation Mono" font-size="11.8" fill="#000" stroke="#000" stroke-width="0.12" textLength="20.46" lengthAdjust="spacingAndGlyphs">bda</text>
<text x="409.8" y="445.04" font-family="Liberation Mono" font-size="11.8" fill="#000" stroke="#000" stroke-width="0.12" textLength="20.46" lengthAdjust="spacingAndGlyphs">...</text>
<text x="397.6" y="350.4" font-family="Liberation Mono" font-size="11.8" fill="#000" stroke="#000" stroke-width="0.12" textLength="20.46" lengthAdjust="spacingAndGlyphs">bdb</text>
<text x="404.42" y="362.23" font-family="Liberation Mono" font-size="11.8" fill="#000" stroke="#000" stroke-width="0.12" textLength="20.46" lengthAdjust="spacingAndGlyphs">bdc</text>
<text x="411.24" y="374.06" font-family="Liberation Mono" font-size="11.8" fill="#000" stroke="#000" stroke-width="0.12" textLength="20.46" lengthAdjust="spacingAndGlyphs">bdc</text>
<text x="418.06" y="385.89" font-family="Liberation Mono" font-size="11.8" fill="#000" stroke="#000" stroke-width="0.12" textLength="20.46" lengthAdjust="spacingAndGlyphs">bdc</text>
<text x="424.88" y="397.72" font-family="Liberation Mono" font-size="11.8" fill="#000" stroke="#000" stroke-width="0.12" textLength="20.46" lengthAdjust="spacingAndGlyphs">bdc</text>
<text x="431.7" y="409.55" font-family="Liberation Mono" font-size="11.8" fill="#000" stroke="#000" stroke-width="0.12" textLength="20.46" lengthAdjust="spacingAndGlyphs">bdc</text>
<text x="438.52" y="421.38" font-family="Liberation Mono" font-size="11.8" fill="#000" stroke="#000" stroke-width="0.12" textLength="20.46" lengthAdjust="spacingAndGlyphs">adb</text>
<text x="445.34" y="433.21" font-family="Liberation Mono" font-size="11.8" fill="#000" stroke="#000" stroke-width="0.12" textLength="20.46" lengthAdjust="spacingAndGlyphs">ada</text>
<text x="452.16" y="445.04" font-family="Liberation Mono" font-size="11.8" fill="#000" stroke="#000" stroke-width="0.12" textLength="20.46" lengthAdjust="spacingAndGlyphs">...</text>
<text x="439.96" y="350.4" font-family="Liberation Mono" font-size="11.8" fill="#000" stroke="#000" stroke-width="0.12" textLength="20.46" lengthAdjust="spacingAndGlyphs">aab</text>
<text x="446.78" y="362.23" font-family="Liberation Mono" font-size="11.8" fill="#000" stroke="#000" stroke-width="0.12" textLength="20.46" lengthAdjust="spacingAndGlyphs">bab</text>
<text x="453.6" y="374.06" font-family="Liberation Mono" font-size="11.8" fill="#000" stroke="#000" stroke-width="0.12" textLength="20.46" lengthAdjust="spacingAndGlyphs">bab</text>
<text x="460.42" y="385.89" font-family="Liberation Mono" font-size="11.8" fill="#000" stroke="#000" stroke-width="0.12" textLength="20.46" lengthAdjust="spacingAndGlyphs">bab</text>
<text x="467.24" y="397.72" font-family="Liberation Mono" font-size="11.8" fill="#000" stroke="#000" stroke-width="0.12" textLength="20.46" lengthAdjust="spacingAndGlyphs">bab</text>
<text x="474.06" y="409.55" font-family="Liberation Mono" font-size="11.8" fill="#000" stroke="#000" stroke-width="0.12" textLength="20.46" lengthAdjust="spacingAndGlyphs">bab</text>
<text x="480.88" y="421.38" font-family="Liberation Mono" font-size="11.8" fill="#000" stroke="#000" stroke-width="0.12" textLength="20.46" lengthAdjust="spacingAndGlyphs">bab</text>
<text x="487.7" y="433.21" font-family="Liberation Mono" font-size="11.8" fill="#000" stroke="#000" stroke-width="0.12" textLength="20.46" lengthAdjust="spacingAndGlyphs">bac</text>
<text x="494.52" y="445.04" font-family="Liberation Mono" font-size="11.8" fill="#000" stroke="#000" stroke-width="0.12" textLength="20.46" lengthAdjust="spacingAndGlyphs">...</text>
<text x="482.32" y="350.4" font-family="Liberation Mono" font-size="11.8" fill="#000" stroke="#000" stroke-width="0.12" textLength="20.46" lengthAdjust="spacingAndGlyphs">bac</text>
<text x="489.14" y="362.23" font-family="Liberation Mono" font-size="11.8" fill="#000" stroke="#000" stroke-width="0.12" textLength="20.46" lengthAdjust="spacingAndGlyphs">bac</text>
<text x="495.96" y="374.06" font-family="Liberation Mono" font-size="11.8" fill="#000" stroke="#000" stroke-width="0.12" textLength="20.46" lengthAdjust="spacingAndGlyphs">bac</text>
<text x="502.78" y="385.89" font-family="Liberation Mono" font-size="11.8" fill="#000" stroke="#000" stroke-width="0.12" textLength="20.46" lengthAdjust="spacingAndGlyphs">bac</text>
<text x="509.6" y="397.72" font-family="Liberation Mono" font-size="11.8" fill="#000" stroke="#000" stroke-width="0.12" textLength="20.46" lengthAdjust="spacingAndGlyphs">cac</text>
<text x="516.42" y="409.55" font-family="Liberation Mono" font-size="11.8" fill="#000" stroke="#000" stroke-width="0.12" textLength="20.46" lengthAdjust="spacingAndGlyphs">cac</text>
<text x="523.24" y="421.38" font-family="Liberation Mono" font-size="11.8" fill="#000" stroke="#000" stroke-width="0.12" textLength="20.46" lengthAdjust="spacingAndGlyphs">cac</text>
<text x="530.06" y="433.21" font-family="Liberation Mono" font-size="11.8" fill="#000" stroke="#000" stroke-width="0.12" textLength="20.46" lengthAdjust="spacingAndGlyphs">cac</text>
<text x="536.88" y="445.04" font-family="Liberation Mono" font-size="11.8" fill="#000" stroke="#000" stroke-width="0.12" textLength="20.46" lengthAdjust="spacingAndGlyphs">...</text>
<text x="524.68" y="350.4" font-family="Liberation Mono" font-size="11.8" fill="#000" stroke="#000" stroke-width="0.12" textLength="20.46" lengthAdjust="spacingAndGlyphs">ccc</text>
<text x="531.5" y="362.23" font-family="Liberation Mono" font-size="11.8" fill="#000" stroke="#000" stroke-width="0.12" textLength="20.46" lengthAdjust="spacingAndGlyphs">ccc</text>
<text x="538.32" y="374.06" font-family="Liberation Mono" font-size="11.8" fill="#000" stroke="#000" stroke-width="0.12" textLength="20.46" lengthAdjust="spacingAndGlyphs">ccc</text>
<text x="545.14" y="385.89" font-family="Liberation Mono" font-size="11.8" fill="#000" stroke="#000" stroke-width="0.12" textLength="20.46" lengthAdjust="spacingAndGlyphs">ccc</text>
<text x="551.96" y="397.72" font-family="Liberation Mono" font-size="11.8" fill="#000" stroke="#000" stroke-width="0.12" textLength="20.46" lengthAdjust="spacingAndGlyphs">ccc</text>
<text x="558.78" y="409.55" font-family="Liberation Mono" font-size="11.8" fill="#000" stroke="#000" stroke-width="0.12" textLength="20.46" lengthAdjust="spacingAndGlyphs">ccc</text>
<text x="565.6" y="421.38" font-family="Liberation Mono" font-size="11.8" fill="#000" stroke="#000" stroke-width="0.12" textLength="20.46" lengthAdjust="spacingAndGlyphs">ccc</text>
<text x="572.42" y="433.21" font-family="Liberation Mono" font-size="11.8" fill="#000" stroke="#000" stroke-width="0.12" textLength="20.46" lengthAdjust="spacingAndGlyphs">ccc</text>
<text x="579.24" y="445.04" font-family="Liberation Mono" font-size="11.8" fill="#000" stroke="#000" stroke-width="0.12" textLength="20.46" lengthAdjust="spacingAndGlyphs">...</text>
<text x="567.04" y="350.4" font-family="Liberation Mono" font-size="11.8" fill="#000" stroke="#000" stroke-width="0.12" textLength="20.46" lengthAdjust="spacingAndGlyphs">bdb</text>
<text x="573.86" y="362.23" font-family="Liberation Mono" font-size="11.8" fill="#000" stroke="#000" stroke-width="0.12" textLength="20.46" lengthAdjust="spacingAndGlyphs">bdb</text>
<text x="580.68" y="374.06" font-family="Liberation Mono" font-size="11.8" fill="#000" stroke="#000" stroke-width="0.12" textLength="20.46" lengthAdjust="spacingAndGlyphs">bdb</text>
<text x="587.5" y="385.89" font-family="Liberation Mono" font-size="11.8" fill="#000" stroke="#000" stroke-width="0.12" textLength="20.46" lengthAdjust="spacingAndGlyphs">bdb</text>
<text x="594.32" y="397.72" font-family="Liberation Mono" font-size="11.8" fill="#000" stroke="#000" stroke-width="0.12" textLength="20.46" lengthAdjust="spacingAndGlyphs">bdb</text>
<text x="601.14" y="409.55" font-family="Liberation Mono" font-size="11.8" fill="#000" stroke="#000" stroke-width="0.12" textLength="20.46" lengthAdjust="spacingAndGlyphs">bdb</text>
<text x="607.96" y="421.38" font-family="Liberation Mono" font-size="11.8" fill="#000" stroke="#000" stroke-width="0.12" textLength="20.46" lengthAdjust="spacingAndGlyphs">bdb</text>
<text x="614.78" y="433.21" font-family="Liberation Mono" font-size="11.8" fill="#000" stroke="#000" stroke-width="0.12" textLength="20.46" lengthAdjust="spacingAndGlyphs">bdb</text>
<text x="621.6" y="445.04" font-family="Liberation Mono" font-size="11.8" fill="#000" stroke="#000" stroke-width="0.12" textLength="20.46" lengthAdjust="spacingAndGlyphs">...</text>
<text transform="scale(1.0654,1)" x="45.19" y="460.9" font-size="16.74" font-family="Liberation Serif" fill="#000" stroke="#000" stroke-width="0.05" >0</text>
<text transform="scale(1.0608,1)" x="142.75 151.86 160.86" y="460.9" font-size="16.74" font-family="Liberation Serif" fill="#000" stroke="#000" stroke-width="0.05" >200</text>
<text transform="scale(1.0671,1)" x="247.93 257.04 265.98" y="460.9" font-size="16.74" font-family="Liberation Serif" fill="#000" stroke="#000" stroke-width="0.05" >400</text>
<text transform="scale(1.0642,1)" x="354.56 363.61 372.58" y="460.9" font-size="16.74" font-family="Liberation Serif" fill="#000" stroke="#000" stroke-width="0.05" >600</text>
<text transform="scale(1.0640,1)" x="460.87 469.84 478.81" y="460.9" font-size="16.74" font-family="Liberation Serif" fill="#000" stroke="#000" stroke-width="0.05" >800</text>
<text transform="scale(1.0397,1)" x="575 584.55 593.73 602.91" y="460.9" font-size="16.74" font-family="Liberation Serif" fill="#000" stroke="#000" stroke-width="0.05" >1000</text>
<text transform="scale(1.2029,1)" x="199.91 207.55 219.26 227.24 232.82 247.97 254.67 263.91 273.95 283.41 294.12 301.84 308.07 317.67 329.02 336.74 343.15 354.3" y="335.2" font-size="22.34" font-family="Liberation Serif" font-weight="bold" fill="#000" stroke="#000" stroke-width="0.2" >(2) Discretization</text>
<rect x="51" y="496.6" width="581.8" height="109.1" fill="#f0f0f0"/>
<path d="M51,604.5H632.8M51,589.32H632.8M51,574.14H632.8M51,558.96H632.8M51,543.78H632.8M51,528.6H632.8M51,513.42H632.8M51,498.24H632.8M59,496.6V605.7M71.86,496.6V605.7M84.71,496.6V605.7M97.57,496.6V605.7M110.43,496.6V605.7M123.28,496.6V605.7M136.14,496.6V605.7M149,496.6V605.7M161.86,496.6V605.7M174.71,496.6V605.7M187.57,496.6V605.7M200.43,496.6V605.7M213.28,496.6V605.7M226.14,496.6V605.7M239,496.6V605.7M251.85,496.6V605.7M264.71,496.6V605.7M277.57,496.6V605.7M290.43,496.6V605.7M303.28,496.6V605.7M316.14,496.6V605.7M329,496.6V605.7M341.85,496.6V605.7M354.71,496.6V605.7M367.57,496.6V605.7M380.42,496.6V605.7M393.28,496.6V605.7M406.14,496.6V605.7M419,496.6V605.7M431.85,496.6V605.7M444.71,496.6V605.7M457.57,496.6V605.7M470.42,496.6V605.7M483.28,496.6V605.7M496.14,496.6V605.7M509,496.6V605.7M521.85,496.6V605.7M534.71,496.6V605.7M547.57,496.6V605.7M560.42,496.6V605.7M573.28,496.6V605.7M586.14,496.6V605.7M598.99,496.6V605.7M611.85,496.6V605.7M624.71,496.6V605.7" stroke="#d0d0d0" stroke-width="1" fill="none" clip-path="url(#c4)"/>
<g fill="#d95f02" stroke="#fff" stroke-width="1" clip-path="url(#c4)"><rect x="66.06" y="595.39" width="11.6" height="11.11"/><rect x="91.77" y="593.12" width="11.6" height="13.38"/><rect x="104.63" y="599.19" width="11.6" height="7.31"/><rect x="117.48" y="601.46" width="11.6" height="5.04"/><rect x="130.34" y="602.53" width="11.6" height="3.97"/><rect x="143.2" y="588.56" width="11.6" height="17.94"/><rect x="156.06" y="589.32" width="11.6" height="17.18"/><rect x="168.91" y="598.43" width="11.6" height="8.07"/><rect x="194.63" y="596.15" width="11.6" height="10.35"/><rect x="207.48" y="555.16" width="11.6" height="51.34"/><rect x="220.34" y="566.55" width="11.6" height="39.95"/><rect x="233.2" y="602.53" width="11.6" height="3.97"/><rect x="246.05" y="582.49" width="11.6" height="24.01"/><rect x="258.91" y="593.87" width="11.6" height="12.63"/><rect x="271.77" y="506.59" width="11.6" height="99.91"/><rect x="284.63" y="568.83" width="11.6" height="37.67"/><rect x="297.48" y="596.91" width="11.6" height="9.59"/><rect x="310.34" y="576.42" width="11.6" height="30.08"/><rect x="323.2" y="596.91" width="11.6" height="9.59"/><rect x="348.91" y="597.67" width="11.6" height="8.83"/><rect x="361.77" y="564.27" width="11.6" height="42.23"/><rect x="387.48" y="590.84" width="11.6" height="15.66"/><rect x="400.34" y="578.69" width="11.6" height="27.81"/><rect x="413.2" y="589.32" width="11.6" height="17.18"/><rect x="426.05" y="543.78" width="11.6" height="62.72"/><rect x="451.77" y="587.8" width="11.6" height="18.7"/><rect x="464.62" y="573.38" width="11.6" height="33.12"/><rect x="490.34" y="597.67" width="11.6" height="8.83"/><rect x="503.19" y="598.43" width="11.6" height="8.07"/><rect x="516.05" y="596.15" width="11.6" height="10.35"/><rect x="528.91" y="593.87" width="11.6" height="12.63"/><rect x="541.77" y="602.53" width="11.6" height="3.97"/><rect x="554.62" y="601.46" width="11.6" height="5.04"/><rect x="567.48" y="602.53" width="11.6" height="3.97"/><rect x="580.34" y="598.43" width="11.6" height="8.07"/><rect x="593.19" y="601.46" width="11.6" height="5.04"/><rect x="606.05" y="599.19" width="11.6" height="7.31"/><rect x="618.91" y="591.6" width="11.6" height="14.9"/></g>
<text transform="scale(1.0654,1)" x="37.14" y="608.77" font-size="16.74" font-family="Liberation Serif" fill="#000" stroke="#000" stroke-width="0.05" >0</text>
<text transform="scale(1.0584,1)" x="28.27 37.41" y="593.59" font-size="16.74" font-family="Liberation Serif" fill="#000" stroke="#000" stroke-width="0.05" >20</text>
<text transform="scale(1.0679,1)" x="27.93 37.04" y="578.41" font-size="16.74" font-family="Liberation Serif" fill="#000" stroke="#000" stroke-width="0.05" >40</text>
<text transform="scale(1.0636,1)" x="28.15 37.2" y="563.23" font-size="16.74" font-family="Liberation Serif" fill="#000" stroke="#000" stroke-width="0.05" >60</text>
<text transform="scale(1.0633,1)" x="28.24 37.22" y="548.05" font-size="16.74" font-family="Liberation Serif" fill="#000" stroke="#000" stroke-width="0.05" >80</text>
<text transform="scale(1.0306,1)" x="19.63 29.27 38.53" y="532.87" font-size="16.74" font-family="Liberation Serif" fill="#000" stroke="#000" stroke-width="0.05" >100</text>
<text transform="scale(1.0251,1)" x="19.76 29.33 38.76" y="517.69" font-size="16.74" font-family="Liberation Serif" fill="#000" stroke="#000" stroke-width="0.05" >120</text>
<text transform="scale(1.0336,1)" x="19.56 29 38.41" y="502.51" font-size="16.74" font-family="Liberation Serif" fill="#000" stroke="#000" stroke-width="0.05" >140</text>
<g transform="translate(54.1,608.5) rotate(90)"><text transform="scale(1.1606,1)" x="-0.6 7.11 14.81" y="0" font-size="16.95" font-family="Liberation Serif" fill="#000" stroke="#000" stroke-width="0.25" >aaa</text></g>
<g transform="translate(66.96,608.5) rotate(90)"><text transform="scale(1.1290,1)" x="-0.5 7.42 15.38" y="0" font-size="16.95" font-family="Liberation Serif" fill="#000" stroke="#000" stroke-width="0.25" >aab</text></g>
<g transform="translate(79.81,608.5) rotate(90)"><text transform="scale(1.1290,1)" x="-0.5 7.45 15.92" y="0" font-size="16.95" font-family="Liberation Serif" fill="#000" stroke="#000" stroke-width="0.25" >aba</text></g>
<g transform="translate(92.67,608.5) rotate(90)"><text transform="scale(1.1005,1)" x="-0.41 7.75 16.47" y="0" font-size="16.95" font-family="Liberation Serif" fill="#000" stroke="#000" stroke-width="0.25" >abb</text></g>
<g transform="translate(105.53,608.5) rotate(90)"><text transform="scale(1.1087,1)" x="-0.44 7.66 16.04" y="0" font-size="16.95" font-family="Liberation Serif" fill="#000" stroke="#000" stroke-width="0.25" >abc</text></g>
<g transform="translate(118.38,608.5) rotate(90)"><text transform="scale(1.1398,1)" x="-0.53 7.08 14.68" y="0" font-size="16.95" font-family="Liberation Serif" fill="#000" stroke="#000" stroke-width="0.25" >aca</text></g>
<g transform="translate(131.24,608.5) rotate(90)"><text transform="scale(1.1087,1)" x="-0.44 7.38 15.24" y="0" font-size="16.95" font-family="Liberation Serif" fill="#000" stroke="#000" stroke-width="0.25" >acb</text></g>
<g transform="translate(144.1,608.5) rotate(90)"><text transform="scale(1.1182,1)" x="-0.47 7.29 14.8" y="0" font-size="16.95" font-family="Liberation Serif" fill="#000" stroke="#000" stroke-width="0.25" >acc</text></g>
<g transform="translate(156.96,608.5) rotate(90)"><text transform="scale(1.1383,1)" x="-0.53 7.11 15.76" y="0" font-size="16.95" font-family="Liberation Serif" fill="#000" stroke="#000" stroke-width="0.25" >ada</text></g>
<g transform="translate(169.81,608.5) rotate(90)"><text transform="scale(1.1092,1)" x="-0.44 7.42 16.31" y="0" font-size="16.95" font-family="Liberation Serif" fill="#000" stroke="#000" stroke-width="0.25" >adb</text></g>
<g transform="translate(182.67,608.5) rotate(90)"><text transform="scale(1.1180,1)" x="-0.47 7.32 15.88" y="0" font-size="16.95" font-family="Liberation Serif" fill="#000" stroke="#000" stroke-width="0.25" >adc</text></g>
<g transform="translate(195.53,608.5) rotate(90)"><text transform="scale(1.1290,1)" x="-0.19 8.28 16.2" y="0" font-size="16.95" font-family="Liberation Serif" fill="#000" stroke="#000" stroke-width="0.25" >baa</text></g>
<g transform="translate(208.38,608.5) rotate(90)"><text transform="scale(1.1005,1)" x="-0.09 8.6 16.76" y="0" font-size="16.95" font-family="Liberation Serif" fill="#000" stroke="#000" stroke-width="0.25" >bab</text></g>
<g transform="translate(221.24,608.5) rotate(90)"><text transform="scale(1.1087,1)" x="-0.12 8.51 16.33" y="0" font-size="16.95" font-family="Liberation Serif" fill="#000" stroke="#000" stroke-width="0.25" >bac</text></g>
<g transform="translate(234.1,608.5) rotate(90)"><text transform="scale(1.1005,1)" x="-0.09 8.63 17.32" y="0" font-size="16.95" font-family="Liberation Serif" fill="#000" stroke="#000" stroke-width="0.25" >bba</text></g>
<g transform="translate(246.95,608.5) rotate(90)"><text transform="scale(1.0749,1)" x="0 8.93 17.87" y="0" font-size="16.95" font-family="Liberation Serif" fill="#000" stroke="#000" stroke-width="0.25" >bbb</text></g>
<g transform="translate(259.81,608.5) rotate(90)"><text transform="scale(1.0809,1)" x="-0.02 8.86 17.46" y="0" font-size="16.95" font-family="Liberation Serif" fill="#000" stroke="#000" stroke-width="0.25" >bbc</text></g>
<g transform="translate(272.67,608.5) rotate(90)"><text transform="scale(1.0809,1)" x="-0.02 8.57 16.63" y="0" font-size="16.95" font-family="Liberation Serif" fill="#000" stroke="#000" stroke-width="0.25" >bcb</text></g>
<g transform="translate(285.53,608.5) rotate(90)"><text transform="scale(1.0878,1)" x="-0.05 8.49 16.22" y="0" font-size="16.95" font-family="Liberation Serif" fill="#000" stroke="#000" stroke-width="0.25" >bcc</text></g>
<g transform="translate(298.38,608.5) rotate(90)"><text transform="scale(1.1092,1)" x="-0.12 8.29 17.16" y="0" font-size="16.95" font-family="Liberation Serif" fill="#000" stroke="#000" stroke-width="0.25" >bda</text></g>
<g transform="translate(311.24,608.5) rotate(90)"><text transform="scale(1.0829,1)" x="-0.03 8.6 17.71" y="0" font-size="16.95" font-family="Liberation Serif" fill="#000" stroke="#000" stroke-width="0.25" >bdb</text></g>
<g transform="translate(324.1,608.5) rotate(90)"><text transform="scale(1.0895,1)" x="-0.05 8.52 17.29" y="0" font-size="16.95" font-family="Liberation Serif" fill="#000" stroke="#000" stroke-width="0.25" >bdc</text></g>
<g transform="translate(336.95,608.5) rotate(90)"><text transform="scale(1.0910,1)" x="-0.06 8.51 17.31" y="0" font-size="16.95" font-family="Liberation Serif" fill="#000" stroke="#000" stroke-width="0.25" >bdd</text></g>
<g transform="translate(349.81,608.5) rotate(90)"><text transform="scale(1.1087,1)" x="-0.68 7.14 15.24" y="0" font-size="16.95" font-family="Liberation Serif" fill="#000" stroke="#000" stroke-width="0.25" >cab</text></g>
<g transform="translate(362.67,608.5) rotate(90)"><text transform="scale(1.1182,1)" x="-0.71 7.04 14.8" y="0" font-size="16.95" font-family="Liberation Serif" fill="#000" stroke="#000" stroke-width="0.25" >cac</text></g>
<g transform="translate(375.52,608.5) rotate(90)"><text transform="scale(1.1087,1)" x="-0.68 7.17 15.8" y="0" font-size="16.95" font-family="Liberation Serif" fill="#000" stroke="#000" stroke-width="0.25" >cba</text></g>
<g transform="translate(388.38,608.5) rotate(90)"><text transform="scale(1.0809,1)" x="-0.6 7.46 16.34" y="0" font-size="16.95" font-family="Liberation Serif" fill="#000" stroke="#000" stroke-width="0.25" >cbb</text></g>
<g transform="translate(401.24,608.5) rotate(90)"><text transform="scale(1.0878,1)" x="-0.62 7.39 15.93" y="0" font-size="16.95" font-family="Liberation Serif" fill="#000" stroke="#000" stroke-width="0.25" >cbc</text></g>
<g transform="translate(414.1,608.5) rotate(90)"><text transform="scale(1.0878,1)" x="-0.62 7.1 15.11" y="0" font-size="16.95" font-family="Liberation Serif" fill="#000" stroke="#000" stroke-width="0.25" >ccb</text></g>
<g transform="translate(426.95,608.5) rotate(90)"><text transform="scale(1.0958,1)" x="-0.65 7.02 14.69" y="0" font-size="16.95" font-family="Liberation Serif" fill="#000" stroke="#000" stroke-width="0.25" >ccc</text></g>
<g transform="translate(439.81,608.5) rotate(90)"><text transform="scale(1.1180,1)" x="-0.71 6.84 15.63" y="0" font-size="16.95" font-family="Liberation Serif" fill="#000" stroke="#000" stroke-width="0.25" >cda</text></g>
<g transform="translate(452.67,608.5) rotate(90)"><text transform="scale(1.0895,1)" x="-0.63 7.13 16.18" y="0" font-size="16.95" font-family="Liberation Serif" fill="#000" stroke="#000" stroke-width="0.25" >cdb</text></g>
<g transform="translate(465.52,608.5) rotate(90)"><text transform="scale(1.0971,1)" x="-0.65 7.05 15.76" y="0" font-size="16.95" font-family="Liberation Serif" fill="#000" stroke="#000" stroke-width="0.25" >cdc</text></g>
<g transform="translate(478.38,608.5) rotate(90)"><text transform="scale(1.0983,1)" x="-0.65 7.04 15.78" y="0" font-size="16.95" font-family="Liberation Serif" fill="#000" stroke="#000" stroke-width="0.25" >cdd</text></g>
<g transform="translate(491.24,608.5) rotate(90)"><text transform="scale(1.1092,1)" x="-0.65 8.22 16.31" y="0" font-size="16.95" font-family="Liberation Serif" fill="#000" stroke="#000" stroke-width="0.25" >dab</text></g>
<g transform="translate(504.1,608.5) rotate(90)"><text transform="scale(1.1180,1)" x="-0.68 8.12 15.88" y="0" font-size="16.95" font-family="Liberation Serif" fill="#000" stroke="#000" stroke-width="0.25" >dac</text></g>
<g transform="translate(516.95,608.5) rotate(90)"><text transform="scale(1.1179,1)" x="-0.68 8.12 15.91" y="0" font-size="16.95" font-family="Liberation Serif" fill="#000" stroke="#000" stroke-width="0.25" >dad</text></g>
<g transform="translate(529.81,608.5) rotate(90)"><text transform="scale(1.0829,1)" x="-0.55 8.55 17.41" y="0" font-size="16.95" font-family="Liberation Serif" fill="#000" stroke="#000" stroke-width="0.25" >dbb</text></g>
<g transform="translate(542.67,608.5) rotate(90)"><text transform="scale(1.0895,1)" x="-0.58 8.47 17" y="0" font-size="16.95" font-family="Liberation Serif" fill="#000" stroke="#000" stroke-width="0.25" >dbc</text></g>
<g transform="translate(555.52,608.5) rotate(90)"><text transform="scale(1.0910,1)" x="-0.58 8.45 17.02" y="0" font-size="16.95" font-family="Liberation Serif" fill="#000" stroke="#000" stroke-width="0.25" >dbd</text></g>
<g transform="translate(568.38,608.5) rotate(90)"><text transform="scale(1.0895,1)" x="-0.58 8.19 16.18" y="0" font-size="16.95" font-family="Liberation Serif" fill="#000" stroke="#000" stroke-width="0.25" >dcb</text></g>
<g transform="translate(581.24,608.5) rotate(90)"><text transform="scale(1.0971,1)" x="-0.6 8.1 15.76" y="0" font-size="16.95" font-family="Liberation Serif" fill="#000" stroke="#000" stroke-width="0.25" >dcc</text></g>
<g transform="translate(594.09,608.5) rotate(90)"><text transform="scale(1.0983,1)" x="-0.61 8.09 15.78" y="0" font-size="16.95" font-family="Liberation Serif" fill="#000" stroke="#000" stroke-width="0.25" >dcd</text></g>
<g transform="translate(606.95,608.5) rotate(90)"><text transform="scale(1.0983,1)" x="-0.61 8.13 16.83" y="0" font-size="16.95" font-family="Liberation Serif" fill="#000" stroke="#000" stroke-width="0.25" >ddc</text></g>
<g transform="translate(619.81,608.5) rotate(90)"><text transform="scale(1.0993,1)" x="-0.61 8.12 16.86" y="0" font-size="16.95" font-family="Liberation Serif" fill="#000" stroke="#000" stroke-width="0.25" >ddd</text></g>
<g transform="translate(12.4,551.5) rotate(-90)"><text transform="scale(1.0996,1)" x="-26.82 -15.27 -6.07 3.51 13.42 19.06" y="0" font-size="18.27" font-family="Liberation Serif" fill="#000" stroke="#000" stroke-width="0.05" >Counts</text></g>
<text transform="scale(1.2122,1)" x="158.53 166.31 177.73 185.62 191.31 205.62 216.96 228.21 235.48 247.07 253.66 260.73 273.38 284.63 292.4 300.26 310.45 319.46 332.14 341.21 346.79 364.99 375.69 388.21 398.76" y="494.2" font-size="22.01" font-family="Liberation Serif" font-weight="bold" fill="#000" stroke="#000" stroke-width="0.2" >(3) Bag-of-Patterns model</text>
</svg></body></html>
